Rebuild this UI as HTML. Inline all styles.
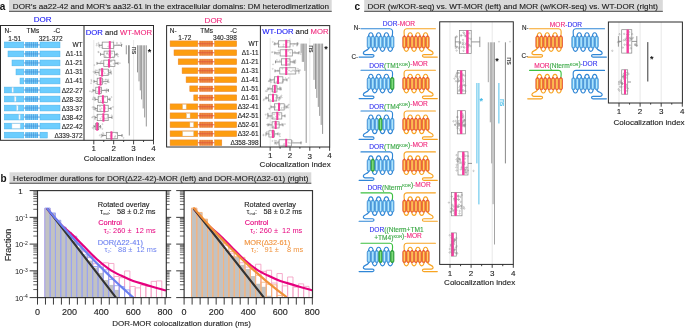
<!DOCTYPE html>
<html><head><meta charset="utf-8"><style>
html,body{margin:0;padding:0;background:#fff;overflow:hidden;}
svg{display:block;will-change:transform;}
text{font-family:"Liberation Sans", sans-serif;}
</style></head><body>
<svg width="685" height="328" viewBox="0 0 685 328" font-family="Liberation Sans, sans-serif">
<rect width="685" height="328" fill="#fff"/>
<rect x="9.00" y="0.00" width="322.70" height="11.90" fill="#d9d9d9" stroke="none" stroke-width="1" />
<rect x="9.00" y="10.80" width="322.70" height="1.10" fill="#5a5a5a" stroke="none" stroke-width="1" />
<text x="-0.30" y="9.60" font-size="10" fill="#111" stroke="#111" stroke-width="0" text-anchor="start" font-weight="bold" >a</text>
<text x="12.80" y="8.90" font-size="8.08" fill="#1a1a1a" stroke="#1a1a1a" stroke-width="0.12" text-anchor="start" font-weight="normal" >DOR’s aa22-42 and MOR’s aa32-61 in the extracellular domains: DM heterodimerization</text>
<rect x="9.50" y="172.30" width="301.80" height="11.50" fill="#d9d9d9" stroke="none" stroke-width="1" />
<rect x="9.50" y="182.70" width="301.80" height="1.10" fill="#5a5a5a" stroke="none" stroke-width="1" />
<text x="0.50" y="182.20" font-size="10" fill="#111" stroke="#111" stroke-width="0" text-anchor="start" font-weight="bold" >b</text>
<text x="13.10" y="180.80" font-size="8.08" fill="#1a1a1a" stroke="#1a1a1a" stroke-width="0.12" text-anchor="start" font-weight="normal" >Heterodimer durations for DOR(Δ22-42)-MOR (left) and DOR-MOR(Δ32-61) (right)</text>
<rect x="364.20" y="0.00" width="298.60" height="11.90" fill="#d9d9d9" stroke="none" stroke-width="1" />
<rect x="364.20" y="10.80" width="298.60" height="1.10" fill="#5a5a5a" stroke="none" stroke-width="1" />
<text x="354.60" y="9.60" font-size="10" fill="#111" stroke="#111" stroke-width="0" text-anchor="start" font-weight="bold" >c</text>
<text x="367.50" y="8.90" font-size="8.08" fill="#1a1a1a" stroke="#1a1a1a" stroke-width="0.12" text-anchor="start" font-weight="normal" >DOR (w/KOR-seq) vs. WT-MOR (left) and MOR (w/KOR-seq) vs. WT-DOR (right)</text>
<line x1="23.80" y1="44.90" x2="40.00" y2="44.90" stroke="#3a88d4" stroke-width="0.8" />
<rect x="4.30" y="42.00" width="19.50" height="5.80" fill="#6ccdfe" stroke="#4cb2ea" stroke-width="0.5" />
<rect x="25.20" y="42.00" width="12.90" height="5.80" fill="#60c2f6" stroke="none" stroke-width="1" />
<line x1="26.12" y1="42.00" x2="26.12" y2="47.80" stroke="#3f96dc" stroke-width="0.6" />
<line x1="27.04" y1="42.00" x2="27.04" y2="47.80" stroke="#b8e4fb" stroke-width="0.45" />
<line x1="27.96" y1="42.00" x2="27.96" y2="47.80" stroke="#3f96dc" stroke-width="0.6" />
<line x1="28.89" y1="42.00" x2="28.89" y2="47.80" stroke="#b8e4fb" stroke-width="0.45" />
<line x1="29.81" y1="42.00" x2="29.81" y2="47.80" stroke="#3f96dc" stroke-width="0.6" />
<line x1="30.73" y1="42.00" x2="30.73" y2="47.80" stroke="#b8e4fb" stroke-width="0.45" />
<line x1="31.65" y1="42.00" x2="31.65" y2="47.80" stroke="#3f96dc" stroke-width="0.6" />
<line x1="32.57" y1="42.00" x2="32.57" y2="47.80" stroke="#b8e4fb" stroke-width="0.45" />
<line x1="33.49" y1="42.00" x2="33.49" y2="47.80" stroke="#3f96dc" stroke-width="0.6" />
<line x1="34.41" y1="42.00" x2="34.41" y2="47.80" stroke="#b8e4fb" stroke-width="0.45" />
<line x1="35.34" y1="42.00" x2="35.34" y2="47.80" stroke="#3f96dc" stroke-width="0.6" />
<line x1="36.26" y1="42.00" x2="36.26" y2="47.80" stroke="#b8e4fb" stroke-width="0.45" />
<line x1="37.18" y1="42.00" x2="37.18" y2="47.80" stroke="#3f96dc" stroke-width="0.6" />
<line x1="25.20" y1="44.90" x2="38.10" y2="44.90" stroke="#3a88d4" stroke-width="0.5" />
<rect x="40.00" y="42.00" width="20.00" height="5.80" fill="#6ccdfe" stroke="#4cb2ea" stroke-width="0.5" />
<text x="82.60" y="47.40" font-size="6.5" fill="#222" stroke="#222" stroke-width="0.12" text-anchor="end" font-weight="normal" >WT</text>
<line x1="23.80" y1="53.92" x2="40.00" y2="53.92" stroke="#3a88d4" stroke-width="0.8" />
<rect x="8.00" y="51.02" width="15.80" height="5.80" fill="#6ccdfe" stroke="#4cb2ea" stroke-width="0.5" />
<rect x="25.20" y="51.02" width="12.90" height="5.80" fill="#60c2f6" stroke="none" stroke-width="1" />
<line x1="26.12" y1="51.02" x2="26.12" y2="56.82" stroke="#3f96dc" stroke-width="0.6" />
<line x1="27.04" y1="51.02" x2="27.04" y2="56.82" stroke="#b8e4fb" stroke-width="0.45" />
<line x1="27.96" y1="51.02" x2="27.96" y2="56.82" stroke="#3f96dc" stroke-width="0.6" />
<line x1="28.89" y1="51.02" x2="28.89" y2="56.82" stroke="#b8e4fb" stroke-width="0.45" />
<line x1="29.81" y1="51.02" x2="29.81" y2="56.82" stroke="#3f96dc" stroke-width="0.6" />
<line x1="30.73" y1="51.02" x2="30.73" y2="56.82" stroke="#b8e4fb" stroke-width="0.45" />
<line x1="31.65" y1="51.02" x2="31.65" y2="56.82" stroke="#3f96dc" stroke-width="0.6" />
<line x1="32.57" y1="51.02" x2="32.57" y2="56.82" stroke="#b8e4fb" stroke-width="0.45" />
<line x1="33.49" y1="51.02" x2="33.49" y2="56.82" stroke="#3f96dc" stroke-width="0.6" />
<line x1="34.41" y1="51.02" x2="34.41" y2="56.82" stroke="#b8e4fb" stroke-width="0.45" />
<line x1="35.34" y1="51.02" x2="35.34" y2="56.82" stroke="#3f96dc" stroke-width="0.6" />
<line x1="36.26" y1="51.02" x2="36.26" y2="56.82" stroke="#b8e4fb" stroke-width="0.45" />
<line x1="37.18" y1="51.02" x2="37.18" y2="56.82" stroke="#3f96dc" stroke-width="0.6" />
<line x1="25.20" y1="53.92" x2="38.10" y2="53.92" stroke="#3a88d4" stroke-width="0.5" />
<rect x="40.00" y="51.02" width="20.00" height="5.80" fill="#6ccdfe" stroke="#4cb2ea" stroke-width="0.5" />
<text x="82.60" y="56.42" font-size="6.5" fill="#222" stroke="#222" stroke-width="0.12" text-anchor="end" font-weight="normal" >Δ1-11</text>
<line x1="23.80" y1="62.94" x2="40.00" y2="62.94" stroke="#3a88d4" stroke-width="0.8" />
<rect x="12.00" y="60.04" width="11.80" height="5.80" fill="#6ccdfe" stroke="#4cb2ea" stroke-width="0.5" />
<rect x="25.20" y="60.04" width="12.90" height="5.80" fill="#60c2f6" stroke="none" stroke-width="1" />
<line x1="26.12" y1="60.04" x2="26.12" y2="65.84" stroke="#3f96dc" stroke-width="0.6" />
<line x1="27.04" y1="60.04" x2="27.04" y2="65.84" stroke="#b8e4fb" stroke-width="0.45" />
<line x1="27.96" y1="60.04" x2="27.96" y2="65.84" stroke="#3f96dc" stroke-width="0.6" />
<line x1="28.89" y1="60.04" x2="28.89" y2="65.84" stroke="#b8e4fb" stroke-width="0.45" />
<line x1="29.81" y1="60.04" x2="29.81" y2="65.84" stroke="#3f96dc" stroke-width="0.6" />
<line x1="30.73" y1="60.04" x2="30.73" y2="65.84" stroke="#b8e4fb" stroke-width="0.45" />
<line x1="31.65" y1="60.04" x2="31.65" y2="65.84" stroke="#3f96dc" stroke-width="0.6" />
<line x1="32.57" y1="60.04" x2="32.57" y2="65.84" stroke="#b8e4fb" stroke-width="0.45" />
<line x1="33.49" y1="60.04" x2="33.49" y2="65.84" stroke="#3f96dc" stroke-width="0.6" />
<line x1="34.41" y1="60.04" x2="34.41" y2="65.84" stroke="#b8e4fb" stroke-width="0.45" />
<line x1="35.34" y1="60.04" x2="35.34" y2="65.84" stroke="#3f96dc" stroke-width="0.6" />
<line x1="36.26" y1="60.04" x2="36.26" y2="65.84" stroke="#b8e4fb" stroke-width="0.45" />
<line x1="37.18" y1="60.04" x2="37.18" y2="65.84" stroke="#3f96dc" stroke-width="0.6" />
<line x1="25.20" y1="62.94" x2="38.10" y2="62.94" stroke="#3a88d4" stroke-width="0.5" />
<rect x="40.00" y="60.04" width="20.00" height="5.80" fill="#6ccdfe" stroke="#4cb2ea" stroke-width="0.5" />
<text x="82.60" y="65.44" font-size="6.5" fill="#222" stroke="#222" stroke-width="0.12" text-anchor="end" font-weight="normal" >Δ1-21</text>
<line x1="23.80" y1="71.96" x2="40.00" y2="71.96" stroke="#3a88d4" stroke-width="0.8" />
<rect x="16.00" y="69.06" width="7.80" height="5.80" fill="#6ccdfe" stroke="#4cb2ea" stroke-width="0.5" />
<rect x="25.20" y="69.06" width="12.90" height="5.80" fill="#60c2f6" stroke="none" stroke-width="1" />
<line x1="26.12" y1="69.06" x2="26.12" y2="74.86" stroke="#3f96dc" stroke-width="0.6" />
<line x1="27.04" y1="69.06" x2="27.04" y2="74.86" stroke="#b8e4fb" stroke-width="0.45" />
<line x1="27.96" y1="69.06" x2="27.96" y2="74.86" stroke="#3f96dc" stroke-width="0.6" />
<line x1="28.89" y1="69.06" x2="28.89" y2="74.86" stroke="#b8e4fb" stroke-width="0.45" />
<line x1="29.81" y1="69.06" x2="29.81" y2="74.86" stroke="#3f96dc" stroke-width="0.6" />
<line x1="30.73" y1="69.06" x2="30.73" y2="74.86" stroke="#b8e4fb" stroke-width="0.45" />
<line x1="31.65" y1="69.06" x2="31.65" y2="74.86" stroke="#3f96dc" stroke-width="0.6" />
<line x1="32.57" y1="69.06" x2="32.57" y2="74.86" stroke="#b8e4fb" stroke-width="0.45" />
<line x1="33.49" y1="69.06" x2="33.49" y2="74.86" stroke="#3f96dc" stroke-width="0.6" />
<line x1="34.41" y1="69.06" x2="34.41" y2="74.86" stroke="#b8e4fb" stroke-width="0.45" />
<line x1="35.34" y1="69.06" x2="35.34" y2="74.86" stroke="#3f96dc" stroke-width="0.6" />
<line x1="36.26" y1="69.06" x2="36.26" y2="74.86" stroke="#b8e4fb" stroke-width="0.45" />
<line x1="37.18" y1="69.06" x2="37.18" y2="74.86" stroke="#3f96dc" stroke-width="0.6" />
<line x1="25.20" y1="71.96" x2="38.10" y2="71.96" stroke="#3a88d4" stroke-width="0.5" />
<rect x="40.00" y="69.06" width="20.00" height="5.80" fill="#6ccdfe" stroke="#4cb2ea" stroke-width="0.5" />
<text x="82.60" y="74.46" font-size="6.5" fill="#222" stroke="#222" stroke-width="0.12" text-anchor="end" font-weight="normal" >Δ1-31</text>
<line x1="23.80" y1="80.98" x2="40.00" y2="80.98" stroke="#3a88d4" stroke-width="0.8" />
<rect x="20.00" y="78.08" width="3.80" height="5.80" fill="#6ccdfe" stroke="#4cb2ea" stroke-width="0.5" />
<rect x="25.20" y="78.08" width="12.90" height="5.80" fill="#60c2f6" stroke="none" stroke-width="1" />
<line x1="26.12" y1="78.08" x2="26.12" y2="83.88" stroke="#3f96dc" stroke-width="0.6" />
<line x1="27.04" y1="78.08" x2="27.04" y2="83.88" stroke="#b8e4fb" stroke-width="0.45" />
<line x1="27.96" y1="78.08" x2="27.96" y2="83.88" stroke="#3f96dc" stroke-width="0.6" />
<line x1="28.89" y1="78.08" x2="28.89" y2="83.88" stroke="#b8e4fb" stroke-width="0.45" />
<line x1="29.81" y1="78.08" x2="29.81" y2="83.88" stroke="#3f96dc" stroke-width="0.6" />
<line x1="30.73" y1="78.08" x2="30.73" y2="83.88" stroke="#b8e4fb" stroke-width="0.45" />
<line x1="31.65" y1="78.08" x2="31.65" y2="83.88" stroke="#3f96dc" stroke-width="0.6" />
<line x1="32.57" y1="78.08" x2="32.57" y2="83.88" stroke="#b8e4fb" stroke-width="0.45" />
<line x1="33.49" y1="78.08" x2="33.49" y2="83.88" stroke="#3f96dc" stroke-width="0.6" />
<line x1="34.41" y1="78.08" x2="34.41" y2="83.88" stroke="#b8e4fb" stroke-width="0.45" />
<line x1="35.34" y1="78.08" x2="35.34" y2="83.88" stroke="#3f96dc" stroke-width="0.6" />
<line x1="36.26" y1="78.08" x2="36.26" y2="83.88" stroke="#b8e4fb" stroke-width="0.45" />
<line x1="37.18" y1="78.08" x2="37.18" y2="83.88" stroke="#3f96dc" stroke-width="0.6" />
<line x1="25.20" y1="80.98" x2="38.10" y2="80.98" stroke="#3a88d4" stroke-width="0.5" />
<rect x="40.00" y="78.08" width="20.00" height="5.80" fill="#6ccdfe" stroke="#4cb2ea" stroke-width="0.5" />
<text x="82.60" y="83.48" font-size="6.5" fill="#222" stroke="#222" stroke-width="0.12" text-anchor="end" font-weight="normal" >Δ1-41</text>
<line x1="23.80" y1="90.00" x2="40.00" y2="90.00" stroke="#3a88d4" stroke-width="0.8" />
<rect x="4.30" y="87.10" width="19.50" height="5.80" fill="#6ccdfe" stroke="#4cb2ea" stroke-width="0.5" />
<rect x="12.00" y="87.70" width="1.30" height="4.60" fill="#fff" stroke="#d0d8e0" stroke-width="0.4" />
<rect x="25.20" y="87.10" width="12.90" height="5.80" fill="#60c2f6" stroke="none" stroke-width="1" />
<line x1="26.12" y1="87.10" x2="26.12" y2="92.90" stroke="#3f96dc" stroke-width="0.6" />
<line x1="27.04" y1="87.10" x2="27.04" y2="92.90" stroke="#b8e4fb" stroke-width="0.45" />
<line x1="27.96" y1="87.10" x2="27.96" y2="92.90" stroke="#3f96dc" stroke-width="0.6" />
<line x1="28.89" y1="87.10" x2="28.89" y2="92.90" stroke="#b8e4fb" stroke-width="0.45" />
<line x1="29.81" y1="87.10" x2="29.81" y2="92.90" stroke="#3f96dc" stroke-width="0.6" />
<line x1="30.73" y1="87.10" x2="30.73" y2="92.90" stroke="#b8e4fb" stroke-width="0.45" />
<line x1="31.65" y1="87.10" x2="31.65" y2="92.90" stroke="#3f96dc" stroke-width="0.6" />
<line x1="32.57" y1="87.10" x2="32.57" y2="92.90" stroke="#b8e4fb" stroke-width="0.45" />
<line x1="33.49" y1="87.10" x2="33.49" y2="92.90" stroke="#3f96dc" stroke-width="0.6" />
<line x1="34.41" y1="87.10" x2="34.41" y2="92.90" stroke="#b8e4fb" stroke-width="0.45" />
<line x1="35.34" y1="87.10" x2="35.34" y2="92.90" stroke="#3f96dc" stroke-width="0.6" />
<line x1="36.26" y1="87.10" x2="36.26" y2="92.90" stroke="#b8e4fb" stroke-width="0.45" />
<line x1="37.18" y1="87.10" x2="37.18" y2="92.90" stroke="#3f96dc" stroke-width="0.6" />
<line x1="25.20" y1="90.00" x2="38.10" y2="90.00" stroke="#3a88d4" stroke-width="0.5" />
<rect x="40.00" y="87.10" width="20.00" height="5.80" fill="#6ccdfe" stroke="#4cb2ea" stroke-width="0.5" />
<text x="82.60" y="92.50" font-size="6.5" fill="#222" stroke="#222" stroke-width="0.12" text-anchor="end" font-weight="normal" >Δ22-27</text>
<line x1="23.80" y1="99.02" x2="40.00" y2="99.02" stroke="#3a88d4" stroke-width="0.8" />
<rect x="4.30" y="96.12" width="19.50" height="5.80" fill="#6ccdfe" stroke="#4cb2ea" stroke-width="0.5" />
<rect x="14.50" y="96.72" width="1.50" height="4.60" fill="#fff" stroke="#d0d8e0" stroke-width="0.4" />
<rect x="25.20" y="96.12" width="12.90" height="5.80" fill="#60c2f6" stroke="none" stroke-width="1" />
<line x1="26.12" y1="96.12" x2="26.12" y2="101.92" stroke="#3f96dc" stroke-width="0.6" />
<line x1="27.04" y1="96.12" x2="27.04" y2="101.92" stroke="#b8e4fb" stroke-width="0.45" />
<line x1="27.96" y1="96.12" x2="27.96" y2="101.92" stroke="#3f96dc" stroke-width="0.6" />
<line x1="28.89" y1="96.12" x2="28.89" y2="101.92" stroke="#b8e4fb" stroke-width="0.45" />
<line x1="29.81" y1="96.12" x2="29.81" y2="101.92" stroke="#3f96dc" stroke-width="0.6" />
<line x1="30.73" y1="96.12" x2="30.73" y2="101.92" stroke="#b8e4fb" stroke-width="0.45" />
<line x1="31.65" y1="96.12" x2="31.65" y2="101.92" stroke="#3f96dc" stroke-width="0.6" />
<line x1="32.57" y1="96.12" x2="32.57" y2="101.92" stroke="#b8e4fb" stroke-width="0.45" />
<line x1="33.49" y1="96.12" x2="33.49" y2="101.92" stroke="#3f96dc" stroke-width="0.6" />
<line x1="34.41" y1="96.12" x2="34.41" y2="101.92" stroke="#b8e4fb" stroke-width="0.45" />
<line x1="35.34" y1="96.12" x2="35.34" y2="101.92" stroke="#3f96dc" stroke-width="0.6" />
<line x1="36.26" y1="96.12" x2="36.26" y2="101.92" stroke="#b8e4fb" stroke-width="0.45" />
<line x1="37.18" y1="96.12" x2="37.18" y2="101.92" stroke="#3f96dc" stroke-width="0.6" />
<line x1="25.20" y1="99.02" x2="38.10" y2="99.02" stroke="#3a88d4" stroke-width="0.5" />
<rect x="40.00" y="96.12" width="20.00" height="5.80" fill="#6ccdfe" stroke="#4cb2ea" stroke-width="0.5" />
<text x="82.60" y="101.52" font-size="6.5" fill="#222" stroke="#222" stroke-width="0.12" text-anchor="end" font-weight="normal" >Δ28-32</text>
<line x1="23.80" y1="108.04" x2="40.00" y2="108.04" stroke="#3a88d4" stroke-width="0.8" />
<rect x="4.30" y="105.14" width="19.50" height="5.80" fill="#6ccdfe" stroke="#4cb2ea" stroke-width="0.5" />
<rect x="16.70" y="105.74" width="1.30" height="4.60" fill="#fff" stroke="#d0d8e0" stroke-width="0.4" />
<rect x="25.20" y="105.14" width="12.90" height="5.80" fill="#60c2f6" stroke="none" stroke-width="1" />
<line x1="26.12" y1="105.14" x2="26.12" y2="110.94" stroke="#3f96dc" stroke-width="0.6" />
<line x1="27.04" y1="105.14" x2="27.04" y2="110.94" stroke="#b8e4fb" stroke-width="0.45" />
<line x1="27.96" y1="105.14" x2="27.96" y2="110.94" stroke="#3f96dc" stroke-width="0.6" />
<line x1="28.89" y1="105.14" x2="28.89" y2="110.94" stroke="#b8e4fb" stroke-width="0.45" />
<line x1="29.81" y1="105.14" x2="29.81" y2="110.94" stroke="#3f96dc" stroke-width="0.6" />
<line x1="30.73" y1="105.14" x2="30.73" y2="110.94" stroke="#b8e4fb" stroke-width="0.45" />
<line x1="31.65" y1="105.14" x2="31.65" y2="110.94" stroke="#3f96dc" stroke-width="0.6" />
<line x1="32.57" y1="105.14" x2="32.57" y2="110.94" stroke="#b8e4fb" stroke-width="0.45" />
<line x1="33.49" y1="105.14" x2="33.49" y2="110.94" stroke="#3f96dc" stroke-width="0.6" />
<line x1="34.41" y1="105.14" x2="34.41" y2="110.94" stroke="#b8e4fb" stroke-width="0.45" />
<line x1="35.34" y1="105.14" x2="35.34" y2="110.94" stroke="#3f96dc" stroke-width="0.6" />
<line x1="36.26" y1="105.14" x2="36.26" y2="110.94" stroke="#b8e4fb" stroke-width="0.45" />
<line x1="37.18" y1="105.14" x2="37.18" y2="110.94" stroke="#3f96dc" stroke-width="0.6" />
<line x1="25.20" y1="108.04" x2="38.10" y2="108.04" stroke="#3a88d4" stroke-width="0.5" />
<rect x="40.00" y="105.14" width="20.00" height="5.80" fill="#6ccdfe" stroke="#4cb2ea" stroke-width="0.5" />
<text x="82.60" y="110.54" font-size="6.5" fill="#222" stroke="#222" stroke-width="0.12" text-anchor="end" font-weight="normal" >Δ33-37</text>
<line x1="23.80" y1="117.06" x2="40.00" y2="117.06" stroke="#3a88d4" stroke-width="0.8" />
<rect x="4.30" y="114.16" width="19.50" height="5.80" fill="#6ccdfe" stroke="#4cb2ea" stroke-width="0.5" />
<rect x="18.90" y="114.76" width="1.20" height="4.60" fill="#fff" stroke="#d0d8e0" stroke-width="0.4" />
<rect x="25.20" y="114.16" width="12.90" height="5.80" fill="#60c2f6" stroke="none" stroke-width="1" />
<line x1="26.12" y1="114.16" x2="26.12" y2="119.96" stroke="#3f96dc" stroke-width="0.6" />
<line x1="27.04" y1="114.16" x2="27.04" y2="119.96" stroke="#b8e4fb" stroke-width="0.45" />
<line x1="27.96" y1="114.16" x2="27.96" y2="119.96" stroke="#3f96dc" stroke-width="0.6" />
<line x1="28.89" y1="114.16" x2="28.89" y2="119.96" stroke="#b8e4fb" stroke-width="0.45" />
<line x1="29.81" y1="114.16" x2="29.81" y2="119.96" stroke="#3f96dc" stroke-width="0.6" />
<line x1="30.73" y1="114.16" x2="30.73" y2="119.96" stroke="#b8e4fb" stroke-width="0.45" />
<line x1="31.65" y1="114.16" x2="31.65" y2="119.96" stroke="#3f96dc" stroke-width="0.6" />
<line x1="32.57" y1="114.16" x2="32.57" y2="119.96" stroke="#b8e4fb" stroke-width="0.45" />
<line x1="33.49" y1="114.16" x2="33.49" y2="119.96" stroke="#3f96dc" stroke-width="0.6" />
<line x1="34.41" y1="114.16" x2="34.41" y2="119.96" stroke="#b8e4fb" stroke-width="0.45" />
<line x1="35.34" y1="114.16" x2="35.34" y2="119.96" stroke="#3f96dc" stroke-width="0.6" />
<line x1="36.26" y1="114.16" x2="36.26" y2="119.96" stroke="#b8e4fb" stroke-width="0.45" />
<line x1="37.18" y1="114.16" x2="37.18" y2="119.96" stroke="#3f96dc" stroke-width="0.6" />
<line x1="25.20" y1="117.06" x2="38.10" y2="117.06" stroke="#3a88d4" stroke-width="0.5" />
<rect x="40.00" y="114.16" width="20.00" height="5.80" fill="#6ccdfe" stroke="#4cb2ea" stroke-width="0.5" />
<text x="82.60" y="119.56" font-size="6.5" fill="#222" stroke="#222" stroke-width="0.12" text-anchor="end" font-weight="normal" >Δ38-42</text>
<line x1="23.80" y1="126.08" x2="40.00" y2="126.08" stroke="#3a88d4" stroke-width="0.8" />
<rect x="4.30" y="123.18" width="19.50" height="5.80" fill="#6ccdfe" stroke="#4cb2ea" stroke-width="0.5" />
<rect x="12.00" y="123.78" width="8.10" height="4.60" fill="#fff" stroke="#d0d8e0" stroke-width="0.4" />
<rect x="25.20" y="123.18" width="12.90" height="5.80" fill="#60c2f6" stroke="none" stroke-width="1" />
<line x1="26.12" y1="123.18" x2="26.12" y2="128.98" stroke="#3f96dc" stroke-width="0.6" />
<line x1="27.04" y1="123.18" x2="27.04" y2="128.98" stroke="#b8e4fb" stroke-width="0.45" />
<line x1="27.96" y1="123.18" x2="27.96" y2="128.98" stroke="#3f96dc" stroke-width="0.6" />
<line x1="28.89" y1="123.18" x2="28.89" y2="128.98" stroke="#b8e4fb" stroke-width="0.45" />
<line x1="29.81" y1="123.18" x2="29.81" y2="128.98" stroke="#3f96dc" stroke-width="0.6" />
<line x1="30.73" y1="123.18" x2="30.73" y2="128.98" stroke="#b8e4fb" stroke-width="0.45" />
<line x1="31.65" y1="123.18" x2="31.65" y2="128.98" stroke="#3f96dc" stroke-width="0.6" />
<line x1="32.57" y1="123.18" x2="32.57" y2="128.98" stroke="#b8e4fb" stroke-width="0.45" />
<line x1="33.49" y1="123.18" x2="33.49" y2="128.98" stroke="#3f96dc" stroke-width="0.6" />
<line x1="34.41" y1="123.18" x2="34.41" y2="128.98" stroke="#b8e4fb" stroke-width="0.45" />
<line x1="35.34" y1="123.18" x2="35.34" y2="128.98" stroke="#3f96dc" stroke-width="0.6" />
<line x1="36.26" y1="123.18" x2="36.26" y2="128.98" stroke="#b8e4fb" stroke-width="0.45" />
<line x1="37.18" y1="123.18" x2="37.18" y2="128.98" stroke="#3f96dc" stroke-width="0.6" />
<line x1="25.20" y1="126.08" x2="38.10" y2="126.08" stroke="#3a88d4" stroke-width="0.5" />
<rect x="40.00" y="123.18" width="20.00" height="5.80" fill="#6ccdfe" stroke="#4cb2ea" stroke-width="0.5" />
<text x="82.60" y="128.58" font-size="6.5" fill="#222" stroke="#222" stroke-width="0.12" text-anchor="end" font-weight="normal" >Δ22-42</text>
<line x1="23.80" y1="135.10" x2="40.00" y2="135.10" stroke="#3a88d4" stroke-width="0.8" />
<rect x="4.30" y="132.20" width="19.50" height="5.80" fill="#6ccdfe" stroke="#4cb2ea" stroke-width="0.5" />
<rect x="25.20" y="132.20" width="12.90" height="5.80" fill="#60c2f6" stroke="none" stroke-width="1" />
<line x1="26.12" y1="132.20" x2="26.12" y2="138.00" stroke="#3f96dc" stroke-width="0.6" />
<line x1="27.04" y1="132.20" x2="27.04" y2="138.00" stroke="#b8e4fb" stroke-width="0.45" />
<line x1="27.96" y1="132.20" x2="27.96" y2="138.00" stroke="#3f96dc" stroke-width="0.6" />
<line x1="28.89" y1="132.20" x2="28.89" y2="138.00" stroke="#b8e4fb" stroke-width="0.45" />
<line x1="29.81" y1="132.20" x2="29.81" y2="138.00" stroke="#3f96dc" stroke-width="0.6" />
<line x1="30.73" y1="132.20" x2="30.73" y2="138.00" stroke="#b8e4fb" stroke-width="0.45" />
<line x1="31.65" y1="132.20" x2="31.65" y2="138.00" stroke="#3f96dc" stroke-width="0.6" />
<line x1="32.57" y1="132.20" x2="32.57" y2="138.00" stroke="#b8e4fb" stroke-width="0.45" />
<line x1="33.49" y1="132.20" x2="33.49" y2="138.00" stroke="#3f96dc" stroke-width="0.6" />
<line x1="34.41" y1="132.20" x2="34.41" y2="138.00" stroke="#b8e4fb" stroke-width="0.45" />
<line x1="35.34" y1="132.20" x2="35.34" y2="138.00" stroke="#3f96dc" stroke-width="0.6" />
<line x1="36.26" y1="132.20" x2="36.26" y2="138.00" stroke="#b8e4fb" stroke-width="0.45" />
<line x1="37.18" y1="132.20" x2="37.18" y2="138.00" stroke="#3f96dc" stroke-width="0.6" />
<line x1="25.20" y1="135.10" x2="38.10" y2="135.10" stroke="#3a88d4" stroke-width="0.5" />
<rect x="40.00" y="132.20" width="7.30" height="5.80" fill="#6ccdfe" stroke="#4cb2ea" stroke-width="0.5" />
<text x="82.60" y="137.60" font-size="6.5" fill="#222" stroke="#222" stroke-width="0.12" text-anchor="end" font-weight="normal" >Δ339-372</text>
<text x="4.60" y="33.40" font-size="6.5" fill="#222" stroke="#222" stroke-width="0.12" text-anchor="start" font-weight="normal" >N-</text>
<text x="26.50" y="33.40" font-size="6.5" fill="#222" stroke="#222" stroke-width="0.12" text-anchor="start" font-weight="normal" >TMs</text>
<text x="60.30" y="33.40" font-size="6.5" fill="#222" stroke="#222" stroke-width="0.12" text-anchor="end" font-weight="normal" >-C</text>
<text x="8.20" y="40.80" font-size="6.5" fill="#222" stroke="#222" stroke-width="0.12" text-anchor="start" font-weight="normal" >1-51</text>
<text x="38.70" y="40.80" font-size="6.5" fill="#222" stroke="#222" stroke-width="0.12" text-anchor="start" font-weight="normal" >321-372</text>
<text x="42.60" y="22.30" font-size="8" fill="#1818f4" stroke="#1818f4" stroke-width="0.12" text-anchor="middle" font-weight="normal" >DOR</text>
<line x1="197.80" y1="43.75" x2="214.60" y2="43.75" stroke="#d83a3a" stroke-width="0.8" />
<rect x="170.10" y="40.90" width="27.70" height="5.70" fill="#fd9d10" stroke="#ea8530" stroke-width="0.5" />
<rect x="199.30" y="40.90" width="13.50" height="5.70" fill="#ee8236" stroke="none" stroke-width="1" />
<line x1="200.26" y1="40.90" x2="200.26" y2="46.60" stroke="#e06a28" stroke-width="0.6" />
<line x1="201.23" y1="40.90" x2="201.23" y2="46.60" stroke="#f7b27a" stroke-width="0.45" />
<line x1="202.19" y1="40.90" x2="202.19" y2="46.60" stroke="#e06a28" stroke-width="0.6" />
<line x1="203.16" y1="40.90" x2="203.16" y2="46.60" stroke="#f7b27a" stroke-width="0.45" />
<line x1="204.12" y1="40.90" x2="204.12" y2="46.60" stroke="#e06a28" stroke-width="0.6" />
<line x1="205.09" y1="40.90" x2="205.09" y2="46.60" stroke="#f7b27a" stroke-width="0.45" />
<line x1="206.05" y1="40.90" x2="206.05" y2="46.60" stroke="#e06a28" stroke-width="0.6" />
<line x1="207.01" y1="40.90" x2="207.01" y2="46.60" stroke="#f7b27a" stroke-width="0.45" />
<line x1="207.98" y1="40.90" x2="207.98" y2="46.60" stroke="#e06a28" stroke-width="0.6" />
<line x1="208.94" y1="40.90" x2="208.94" y2="46.60" stroke="#f7b27a" stroke-width="0.45" />
<line x1="209.91" y1="40.90" x2="209.91" y2="46.60" stroke="#e06a28" stroke-width="0.6" />
<line x1="210.87" y1="40.90" x2="210.87" y2="46.60" stroke="#f7b27a" stroke-width="0.45" />
<line x1="211.84" y1="40.90" x2="211.84" y2="46.60" stroke="#e06a28" stroke-width="0.6" />
<line x1="199.30" y1="43.75" x2="212.80" y2="43.75" stroke="#d83a3a" stroke-width="0.5" />
<rect x="214.60" y="40.90" width="22.10" height="5.70" fill="#fd9d10" stroke="#ea8530" stroke-width="0.5" />
<text x="258.60" y="46.20" font-size="6.5" fill="#222" stroke="#222" stroke-width="0.12" text-anchor="end" font-weight="normal" >WT</text>
<line x1="197.80" y1="52.75" x2="214.60" y2="52.75" stroke="#d83a3a" stroke-width="0.8" />
<rect x="174.00" y="49.90" width="23.80" height="5.70" fill="#fd9d10" stroke="#ea8530" stroke-width="0.5" />
<rect x="199.30" y="49.90" width="13.50" height="5.70" fill="#ee8236" stroke="none" stroke-width="1" />
<line x1="200.26" y1="49.90" x2="200.26" y2="55.60" stroke="#e06a28" stroke-width="0.6" />
<line x1="201.23" y1="49.90" x2="201.23" y2="55.60" stroke="#f7b27a" stroke-width="0.45" />
<line x1="202.19" y1="49.90" x2="202.19" y2="55.60" stroke="#e06a28" stroke-width="0.6" />
<line x1="203.16" y1="49.90" x2="203.16" y2="55.60" stroke="#f7b27a" stroke-width="0.45" />
<line x1="204.12" y1="49.90" x2="204.12" y2="55.60" stroke="#e06a28" stroke-width="0.6" />
<line x1="205.09" y1="49.90" x2="205.09" y2="55.60" stroke="#f7b27a" stroke-width="0.45" />
<line x1="206.05" y1="49.90" x2="206.05" y2="55.60" stroke="#e06a28" stroke-width="0.6" />
<line x1="207.01" y1="49.90" x2="207.01" y2="55.60" stroke="#f7b27a" stroke-width="0.45" />
<line x1="207.98" y1="49.90" x2="207.98" y2="55.60" stroke="#e06a28" stroke-width="0.6" />
<line x1="208.94" y1="49.90" x2="208.94" y2="55.60" stroke="#f7b27a" stroke-width="0.45" />
<line x1="209.91" y1="49.90" x2="209.91" y2="55.60" stroke="#e06a28" stroke-width="0.6" />
<line x1="210.87" y1="49.90" x2="210.87" y2="55.60" stroke="#f7b27a" stroke-width="0.45" />
<line x1="211.84" y1="49.90" x2="211.84" y2="55.60" stroke="#e06a28" stroke-width="0.6" />
<line x1="199.30" y1="52.75" x2="212.80" y2="52.75" stroke="#d83a3a" stroke-width="0.5" />
<rect x="214.60" y="49.90" width="22.10" height="5.70" fill="#fd9d10" stroke="#ea8530" stroke-width="0.5" />
<text x="258.60" y="55.20" font-size="6.5" fill="#222" stroke="#222" stroke-width="0.12" text-anchor="end" font-weight="normal" >Δ1-11</text>
<line x1="197.80" y1="61.75" x2="214.60" y2="61.75" stroke="#d83a3a" stroke-width="0.8" />
<rect x="178.20" y="58.90" width="19.60" height="5.70" fill="#fd9d10" stroke="#ea8530" stroke-width="0.5" />
<rect x="199.30" y="58.90" width="13.50" height="5.70" fill="#ee8236" stroke="none" stroke-width="1" />
<line x1="200.26" y1="58.90" x2="200.26" y2="64.60" stroke="#e06a28" stroke-width="0.6" />
<line x1="201.23" y1="58.90" x2="201.23" y2="64.60" stroke="#f7b27a" stroke-width="0.45" />
<line x1="202.19" y1="58.90" x2="202.19" y2="64.60" stroke="#e06a28" stroke-width="0.6" />
<line x1="203.16" y1="58.90" x2="203.16" y2="64.60" stroke="#f7b27a" stroke-width="0.45" />
<line x1="204.12" y1="58.90" x2="204.12" y2="64.60" stroke="#e06a28" stroke-width="0.6" />
<line x1="205.09" y1="58.90" x2="205.09" y2="64.60" stroke="#f7b27a" stroke-width="0.45" />
<line x1="206.05" y1="58.90" x2="206.05" y2="64.60" stroke="#e06a28" stroke-width="0.6" />
<line x1="207.01" y1="58.90" x2="207.01" y2="64.60" stroke="#f7b27a" stroke-width="0.45" />
<line x1="207.98" y1="58.90" x2="207.98" y2="64.60" stroke="#e06a28" stroke-width="0.6" />
<line x1="208.94" y1="58.90" x2="208.94" y2="64.60" stroke="#f7b27a" stroke-width="0.45" />
<line x1="209.91" y1="58.90" x2="209.91" y2="64.60" stroke="#e06a28" stroke-width="0.6" />
<line x1="210.87" y1="58.90" x2="210.87" y2="64.60" stroke="#f7b27a" stroke-width="0.45" />
<line x1="211.84" y1="58.90" x2="211.84" y2="64.60" stroke="#e06a28" stroke-width="0.6" />
<line x1="199.30" y1="61.75" x2="212.80" y2="61.75" stroke="#d83a3a" stroke-width="0.5" />
<rect x="214.60" y="58.90" width="22.10" height="5.70" fill="#fd9d10" stroke="#ea8530" stroke-width="0.5" />
<text x="258.60" y="64.20" font-size="6.5" fill="#222" stroke="#222" stroke-width="0.12" text-anchor="end" font-weight="normal" >Δ1-21</text>
<line x1="197.80" y1="70.75" x2="214.60" y2="70.75" stroke="#d83a3a" stroke-width="0.8" />
<rect x="182.10" y="67.90" width="15.70" height="5.70" fill="#fd9d10" stroke="#ea8530" stroke-width="0.5" />
<rect x="199.30" y="67.90" width="13.50" height="5.70" fill="#ee8236" stroke="none" stroke-width="1" />
<line x1="200.26" y1="67.90" x2="200.26" y2="73.60" stroke="#e06a28" stroke-width="0.6" />
<line x1="201.23" y1="67.90" x2="201.23" y2="73.60" stroke="#f7b27a" stroke-width="0.45" />
<line x1="202.19" y1="67.90" x2="202.19" y2="73.60" stroke="#e06a28" stroke-width="0.6" />
<line x1="203.16" y1="67.90" x2="203.16" y2="73.60" stroke="#f7b27a" stroke-width="0.45" />
<line x1="204.12" y1="67.90" x2="204.12" y2="73.60" stroke="#e06a28" stroke-width="0.6" />
<line x1="205.09" y1="67.90" x2="205.09" y2="73.60" stroke="#f7b27a" stroke-width="0.45" />
<line x1="206.05" y1="67.90" x2="206.05" y2="73.60" stroke="#e06a28" stroke-width="0.6" />
<line x1="207.01" y1="67.90" x2="207.01" y2="73.60" stroke="#f7b27a" stroke-width="0.45" />
<line x1="207.98" y1="67.90" x2="207.98" y2="73.60" stroke="#e06a28" stroke-width="0.6" />
<line x1="208.94" y1="67.90" x2="208.94" y2="73.60" stroke="#f7b27a" stroke-width="0.45" />
<line x1="209.91" y1="67.90" x2="209.91" y2="73.60" stroke="#e06a28" stroke-width="0.6" />
<line x1="210.87" y1="67.90" x2="210.87" y2="73.60" stroke="#f7b27a" stroke-width="0.45" />
<line x1="211.84" y1="67.90" x2="211.84" y2="73.60" stroke="#e06a28" stroke-width="0.6" />
<line x1="199.30" y1="70.75" x2="212.80" y2="70.75" stroke="#d83a3a" stroke-width="0.5" />
<rect x="214.60" y="67.90" width="22.10" height="5.70" fill="#fd9d10" stroke="#ea8530" stroke-width="0.5" />
<text x="258.60" y="73.20" font-size="6.5" fill="#222" stroke="#222" stroke-width="0.12" text-anchor="end" font-weight="normal" >Δ1-31</text>
<line x1="197.80" y1="79.75" x2="214.60" y2="79.75" stroke="#d83a3a" stroke-width="0.8" />
<rect x="186.10" y="76.90" width="11.70" height="5.70" fill="#fd9d10" stroke="#ea8530" stroke-width="0.5" />
<rect x="199.30" y="76.90" width="13.50" height="5.70" fill="#ee8236" stroke="none" stroke-width="1" />
<line x1="200.26" y1="76.90" x2="200.26" y2="82.60" stroke="#e06a28" stroke-width="0.6" />
<line x1="201.23" y1="76.90" x2="201.23" y2="82.60" stroke="#f7b27a" stroke-width="0.45" />
<line x1="202.19" y1="76.90" x2="202.19" y2="82.60" stroke="#e06a28" stroke-width="0.6" />
<line x1="203.16" y1="76.90" x2="203.16" y2="82.60" stroke="#f7b27a" stroke-width="0.45" />
<line x1="204.12" y1="76.90" x2="204.12" y2="82.60" stroke="#e06a28" stroke-width="0.6" />
<line x1="205.09" y1="76.90" x2="205.09" y2="82.60" stroke="#f7b27a" stroke-width="0.45" />
<line x1="206.05" y1="76.90" x2="206.05" y2="82.60" stroke="#e06a28" stroke-width="0.6" />
<line x1="207.01" y1="76.90" x2="207.01" y2="82.60" stroke="#f7b27a" stroke-width="0.45" />
<line x1="207.98" y1="76.90" x2="207.98" y2="82.60" stroke="#e06a28" stroke-width="0.6" />
<line x1="208.94" y1="76.90" x2="208.94" y2="82.60" stroke="#f7b27a" stroke-width="0.45" />
<line x1="209.91" y1="76.90" x2="209.91" y2="82.60" stroke="#e06a28" stroke-width="0.6" />
<line x1="210.87" y1="76.90" x2="210.87" y2="82.60" stroke="#f7b27a" stroke-width="0.45" />
<line x1="211.84" y1="76.90" x2="211.84" y2="82.60" stroke="#e06a28" stroke-width="0.6" />
<line x1="199.30" y1="79.75" x2="212.80" y2="79.75" stroke="#d83a3a" stroke-width="0.5" />
<rect x="214.60" y="76.90" width="22.10" height="5.70" fill="#fd9d10" stroke="#ea8530" stroke-width="0.5" />
<text x="258.60" y="82.20" font-size="6.5" fill="#222" stroke="#222" stroke-width="0.12" text-anchor="end" font-weight="normal" >Δ1-41</text>
<line x1="197.80" y1="88.75" x2="214.60" y2="88.75" stroke="#d83a3a" stroke-width="0.8" />
<rect x="189.80" y="85.90" width="8.00" height="5.70" fill="#fd9d10" stroke="#ea8530" stroke-width="0.5" />
<rect x="199.30" y="85.90" width="13.50" height="5.70" fill="#ee8236" stroke="none" stroke-width="1" />
<line x1="200.26" y1="85.90" x2="200.26" y2="91.60" stroke="#e06a28" stroke-width="0.6" />
<line x1="201.23" y1="85.90" x2="201.23" y2="91.60" stroke="#f7b27a" stroke-width="0.45" />
<line x1="202.19" y1="85.90" x2="202.19" y2="91.60" stroke="#e06a28" stroke-width="0.6" />
<line x1="203.16" y1="85.90" x2="203.16" y2="91.60" stroke="#f7b27a" stroke-width="0.45" />
<line x1="204.12" y1="85.90" x2="204.12" y2="91.60" stroke="#e06a28" stroke-width="0.6" />
<line x1="205.09" y1="85.90" x2="205.09" y2="91.60" stroke="#f7b27a" stroke-width="0.45" />
<line x1="206.05" y1="85.90" x2="206.05" y2="91.60" stroke="#e06a28" stroke-width="0.6" />
<line x1="207.01" y1="85.90" x2="207.01" y2="91.60" stroke="#f7b27a" stroke-width="0.45" />
<line x1="207.98" y1="85.90" x2="207.98" y2="91.60" stroke="#e06a28" stroke-width="0.6" />
<line x1="208.94" y1="85.90" x2="208.94" y2="91.60" stroke="#f7b27a" stroke-width="0.45" />
<line x1="209.91" y1="85.90" x2="209.91" y2="91.60" stroke="#e06a28" stroke-width="0.6" />
<line x1="210.87" y1="85.90" x2="210.87" y2="91.60" stroke="#f7b27a" stroke-width="0.45" />
<line x1="211.84" y1="85.90" x2="211.84" y2="91.60" stroke="#e06a28" stroke-width="0.6" />
<line x1="199.30" y1="88.75" x2="212.80" y2="88.75" stroke="#d83a3a" stroke-width="0.5" />
<rect x="214.60" y="85.90" width="22.10" height="5.70" fill="#fd9d10" stroke="#ea8530" stroke-width="0.5" />
<text x="258.60" y="91.20" font-size="6.5" fill="#222" stroke="#222" stroke-width="0.12" text-anchor="end" font-weight="normal" >Δ1-51</text>
<line x1="197.80" y1="97.75" x2="214.60" y2="97.75" stroke="#d83a3a" stroke-width="0.8" />
<rect x="193.80" y="94.90" width="4.00" height="5.70" fill="#fd9d10" stroke="#ea8530" stroke-width="0.5" />
<rect x="199.30" y="94.90" width="13.50" height="5.70" fill="#ee8236" stroke="none" stroke-width="1" />
<line x1="200.26" y1="94.90" x2="200.26" y2="100.60" stroke="#e06a28" stroke-width="0.6" />
<line x1="201.23" y1="94.90" x2="201.23" y2="100.60" stroke="#f7b27a" stroke-width="0.45" />
<line x1="202.19" y1="94.90" x2="202.19" y2="100.60" stroke="#e06a28" stroke-width="0.6" />
<line x1="203.16" y1="94.90" x2="203.16" y2="100.60" stroke="#f7b27a" stroke-width="0.45" />
<line x1="204.12" y1="94.90" x2="204.12" y2="100.60" stroke="#e06a28" stroke-width="0.6" />
<line x1="205.09" y1="94.90" x2="205.09" y2="100.60" stroke="#f7b27a" stroke-width="0.45" />
<line x1="206.05" y1="94.90" x2="206.05" y2="100.60" stroke="#e06a28" stroke-width="0.6" />
<line x1="207.01" y1="94.90" x2="207.01" y2="100.60" stroke="#f7b27a" stroke-width="0.45" />
<line x1="207.98" y1="94.90" x2="207.98" y2="100.60" stroke="#e06a28" stroke-width="0.6" />
<line x1="208.94" y1="94.90" x2="208.94" y2="100.60" stroke="#f7b27a" stroke-width="0.45" />
<line x1="209.91" y1="94.90" x2="209.91" y2="100.60" stroke="#e06a28" stroke-width="0.6" />
<line x1="210.87" y1="94.90" x2="210.87" y2="100.60" stroke="#f7b27a" stroke-width="0.45" />
<line x1="211.84" y1="94.90" x2="211.84" y2="100.60" stroke="#e06a28" stroke-width="0.6" />
<line x1="199.30" y1="97.75" x2="212.80" y2="97.75" stroke="#d83a3a" stroke-width="0.5" />
<rect x="214.60" y="94.90" width="22.10" height="5.70" fill="#fd9d10" stroke="#ea8530" stroke-width="0.5" />
<text x="258.60" y="100.20" font-size="6.5" fill="#222" stroke="#222" stroke-width="0.12" text-anchor="end" font-weight="normal" >Δ1-61</text>
<line x1="197.80" y1="106.75" x2="214.60" y2="106.75" stroke="#d83a3a" stroke-width="0.8" />
<rect x="170.10" y="103.90" width="27.70" height="5.70" fill="#fd9d10" stroke="#ea8530" stroke-width="0.5" />
<rect x="182.80" y="104.50" width="3.30" height="4.50" fill="#fff" stroke="#d0d8e0" stroke-width="0.4" />
<rect x="199.30" y="103.90" width="13.50" height="5.70" fill="#ee8236" stroke="none" stroke-width="1" />
<line x1="200.26" y1="103.90" x2="200.26" y2="109.60" stroke="#e06a28" stroke-width="0.6" />
<line x1="201.23" y1="103.90" x2="201.23" y2="109.60" stroke="#f7b27a" stroke-width="0.45" />
<line x1="202.19" y1="103.90" x2="202.19" y2="109.60" stroke="#e06a28" stroke-width="0.6" />
<line x1="203.16" y1="103.90" x2="203.16" y2="109.60" stroke="#f7b27a" stroke-width="0.45" />
<line x1="204.12" y1="103.90" x2="204.12" y2="109.60" stroke="#e06a28" stroke-width="0.6" />
<line x1="205.09" y1="103.90" x2="205.09" y2="109.60" stroke="#f7b27a" stroke-width="0.45" />
<line x1="206.05" y1="103.90" x2="206.05" y2="109.60" stroke="#e06a28" stroke-width="0.6" />
<line x1="207.01" y1="103.90" x2="207.01" y2="109.60" stroke="#f7b27a" stroke-width="0.45" />
<line x1="207.98" y1="103.90" x2="207.98" y2="109.60" stroke="#e06a28" stroke-width="0.6" />
<line x1="208.94" y1="103.90" x2="208.94" y2="109.60" stroke="#f7b27a" stroke-width="0.45" />
<line x1="209.91" y1="103.90" x2="209.91" y2="109.60" stroke="#e06a28" stroke-width="0.6" />
<line x1="210.87" y1="103.90" x2="210.87" y2="109.60" stroke="#f7b27a" stroke-width="0.45" />
<line x1="211.84" y1="103.90" x2="211.84" y2="109.60" stroke="#e06a28" stroke-width="0.6" />
<line x1="199.30" y1="106.75" x2="212.80" y2="106.75" stroke="#d83a3a" stroke-width="0.5" />
<rect x="214.60" y="103.90" width="22.10" height="5.70" fill="#fd9d10" stroke="#ea8530" stroke-width="0.5" />
<text x="258.60" y="109.20" font-size="6.5" fill="#222" stroke="#222" stroke-width="0.12" text-anchor="end" font-weight="normal" >Δ32-41</text>
<line x1="197.80" y1="115.75" x2="214.60" y2="115.75" stroke="#d83a3a" stroke-width="0.8" />
<rect x="170.10" y="112.90" width="27.70" height="5.70" fill="#fd9d10" stroke="#ea8530" stroke-width="0.5" />
<rect x="186.70" y="113.50" width="3.30" height="4.50" fill="#fff" stroke="#d0d8e0" stroke-width="0.4" />
<rect x="199.30" y="112.90" width="13.50" height="5.70" fill="#ee8236" stroke="none" stroke-width="1" />
<line x1="200.26" y1="112.90" x2="200.26" y2="118.60" stroke="#e06a28" stroke-width="0.6" />
<line x1="201.23" y1="112.90" x2="201.23" y2="118.60" stroke="#f7b27a" stroke-width="0.45" />
<line x1="202.19" y1="112.90" x2="202.19" y2="118.60" stroke="#e06a28" stroke-width="0.6" />
<line x1="203.16" y1="112.90" x2="203.16" y2="118.60" stroke="#f7b27a" stroke-width="0.45" />
<line x1="204.12" y1="112.90" x2="204.12" y2="118.60" stroke="#e06a28" stroke-width="0.6" />
<line x1="205.09" y1="112.90" x2="205.09" y2="118.60" stroke="#f7b27a" stroke-width="0.45" />
<line x1="206.05" y1="112.90" x2="206.05" y2="118.60" stroke="#e06a28" stroke-width="0.6" />
<line x1="207.01" y1="112.90" x2="207.01" y2="118.60" stroke="#f7b27a" stroke-width="0.45" />
<line x1="207.98" y1="112.90" x2="207.98" y2="118.60" stroke="#e06a28" stroke-width="0.6" />
<line x1="208.94" y1="112.90" x2="208.94" y2="118.60" stroke="#f7b27a" stroke-width="0.45" />
<line x1="209.91" y1="112.90" x2="209.91" y2="118.60" stroke="#e06a28" stroke-width="0.6" />
<line x1="210.87" y1="112.90" x2="210.87" y2="118.60" stroke="#f7b27a" stroke-width="0.45" />
<line x1="211.84" y1="112.90" x2="211.84" y2="118.60" stroke="#e06a28" stroke-width="0.6" />
<line x1="199.30" y1="115.75" x2="212.80" y2="115.75" stroke="#d83a3a" stroke-width="0.5" />
<rect x="214.60" y="112.90" width="22.10" height="5.70" fill="#fd9d10" stroke="#ea8530" stroke-width="0.5" />
<text x="258.60" y="118.20" font-size="6.5" fill="#222" stroke="#222" stroke-width="0.12" text-anchor="end" font-weight="normal" >Δ42-51</text>
<line x1="197.80" y1="124.75" x2="214.60" y2="124.75" stroke="#d83a3a" stroke-width="0.8" />
<rect x="170.10" y="121.90" width="27.70" height="5.70" fill="#fd9d10" stroke="#ea8530" stroke-width="0.5" />
<rect x="190.00" y="122.50" width="3.40" height="4.50" fill="#fff" stroke="#d0d8e0" stroke-width="0.4" />
<rect x="199.30" y="121.90" width="13.50" height="5.70" fill="#ee8236" stroke="none" stroke-width="1" />
<line x1="200.26" y1="121.90" x2="200.26" y2="127.60" stroke="#e06a28" stroke-width="0.6" />
<line x1="201.23" y1="121.90" x2="201.23" y2="127.60" stroke="#f7b27a" stroke-width="0.45" />
<line x1="202.19" y1="121.90" x2="202.19" y2="127.60" stroke="#e06a28" stroke-width="0.6" />
<line x1="203.16" y1="121.90" x2="203.16" y2="127.60" stroke="#f7b27a" stroke-width="0.45" />
<line x1="204.12" y1="121.90" x2="204.12" y2="127.60" stroke="#e06a28" stroke-width="0.6" />
<line x1="205.09" y1="121.90" x2="205.09" y2="127.60" stroke="#f7b27a" stroke-width="0.45" />
<line x1="206.05" y1="121.90" x2="206.05" y2="127.60" stroke="#e06a28" stroke-width="0.6" />
<line x1="207.01" y1="121.90" x2="207.01" y2="127.60" stroke="#f7b27a" stroke-width="0.45" />
<line x1="207.98" y1="121.90" x2="207.98" y2="127.60" stroke="#e06a28" stroke-width="0.6" />
<line x1="208.94" y1="121.90" x2="208.94" y2="127.60" stroke="#f7b27a" stroke-width="0.45" />
<line x1="209.91" y1="121.90" x2="209.91" y2="127.60" stroke="#e06a28" stroke-width="0.6" />
<line x1="210.87" y1="121.90" x2="210.87" y2="127.60" stroke="#f7b27a" stroke-width="0.45" />
<line x1="211.84" y1="121.90" x2="211.84" y2="127.60" stroke="#e06a28" stroke-width="0.6" />
<line x1="199.30" y1="124.75" x2="212.80" y2="124.75" stroke="#d83a3a" stroke-width="0.5" />
<rect x="214.60" y="121.90" width="22.10" height="5.70" fill="#fd9d10" stroke="#ea8530" stroke-width="0.5" />
<text x="258.60" y="127.20" font-size="6.5" fill="#222" stroke="#222" stroke-width="0.12" text-anchor="end" font-weight="normal" >Δ52-61</text>
<line x1="197.80" y1="133.75" x2="214.60" y2="133.75" stroke="#d83a3a" stroke-width="0.8" />
<rect x="170.10" y="130.90" width="27.70" height="5.70" fill="#fd9d10" stroke="#ea8530" stroke-width="0.5" />
<rect x="182.80" y="131.50" width="10.60" height="4.50" fill="#fff" stroke="#d0d8e0" stroke-width="0.4" />
<rect x="199.30" y="130.90" width="13.50" height="5.70" fill="#ee8236" stroke="none" stroke-width="1" />
<line x1="200.26" y1="130.90" x2="200.26" y2="136.60" stroke="#e06a28" stroke-width="0.6" />
<line x1="201.23" y1="130.90" x2="201.23" y2="136.60" stroke="#f7b27a" stroke-width="0.45" />
<line x1="202.19" y1="130.90" x2="202.19" y2="136.60" stroke="#e06a28" stroke-width="0.6" />
<line x1="203.16" y1="130.90" x2="203.16" y2="136.60" stroke="#f7b27a" stroke-width="0.45" />
<line x1="204.12" y1="130.90" x2="204.12" y2="136.60" stroke="#e06a28" stroke-width="0.6" />
<line x1="205.09" y1="130.90" x2="205.09" y2="136.60" stroke="#f7b27a" stroke-width="0.45" />
<line x1="206.05" y1="130.90" x2="206.05" y2="136.60" stroke="#e06a28" stroke-width="0.6" />
<line x1="207.01" y1="130.90" x2="207.01" y2="136.60" stroke="#f7b27a" stroke-width="0.45" />
<line x1="207.98" y1="130.90" x2="207.98" y2="136.60" stroke="#e06a28" stroke-width="0.6" />
<line x1="208.94" y1="130.90" x2="208.94" y2="136.60" stroke="#f7b27a" stroke-width="0.45" />
<line x1="209.91" y1="130.90" x2="209.91" y2="136.60" stroke="#e06a28" stroke-width="0.6" />
<line x1="210.87" y1="130.90" x2="210.87" y2="136.60" stroke="#f7b27a" stroke-width="0.45" />
<line x1="211.84" y1="130.90" x2="211.84" y2="136.60" stroke="#e06a28" stroke-width="0.6" />
<line x1="199.30" y1="133.75" x2="212.80" y2="133.75" stroke="#d83a3a" stroke-width="0.5" />
<rect x="214.60" y="130.90" width="22.10" height="5.70" fill="#fd9d10" stroke="#ea8530" stroke-width="0.5" />
<text x="258.60" y="136.20" font-size="6.5" fill="#222" stroke="#222" stroke-width="0.12" text-anchor="end" font-weight="normal" >Δ32-61</text>
<line x1="197.80" y1="142.75" x2="214.60" y2="142.75" stroke="#d83a3a" stroke-width="0.8" />
<rect x="170.10" y="139.90" width="27.70" height="5.70" fill="#fd9d10" stroke="#ea8530" stroke-width="0.5" />
<rect x="199.30" y="139.90" width="13.50" height="5.70" fill="#ee8236" stroke="none" stroke-width="1" />
<line x1="200.26" y1="139.90" x2="200.26" y2="145.60" stroke="#e06a28" stroke-width="0.6" />
<line x1="201.23" y1="139.90" x2="201.23" y2="145.60" stroke="#f7b27a" stroke-width="0.45" />
<line x1="202.19" y1="139.90" x2="202.19" y2="145.60" stroke="#e06a28" stroke-width="0.6" />
<line x1="203.16" y1="139.90" x2="203.16" y2="145.60" stroke="#f7b27a" stroke-width="0.45" />
<line x1="204.12" y1="139.90" x2="204.12" y2="145.60" stroke="#e06a28" stroke-width="0.6" />
<line x1="205.09" y1="139.90" x2="205.09" y2="145.60" stroke="#f7b27a" stroke-width="0.45" />
<line x1="206.05" y1="139.90" x2="206.05" y2="145.60" stroke="#e06a28" stroke-width="0.6" />
<line x1="207.01" y1="139.90" x2="207.01" y2="145.60" stroke="#f7b27a" stroke-width="0.45" />
<line x1="207.98" y1="139.90" x2="207.98" y2="145.60" stroke="#e06a28" stroke-width="0.6" />
<line x1="208.94" y1="139.90" x2="208.94" y2="145.60" stroke="#f7b27a" stroke-width="0.45" />
<line x1="209.91" y1="139.90" x2="209.91" y2="145.60" stroke="#e06a28" stroke-width="0.6" />
<line x1="210.87" y1="139.90" x2="210.87" y2="145.60" stroke="#f7b27a" stroke-width="0.45" />
<line x1="211.84" y1="139.90" x2="211.84" y2="145.60" stroke="#e06a28" stroke-width="0.6" />
<line x1="199.30" y1="142.75" x2="212.80" y2="142.75" stroke="#d83a3a" stroke-width="0.5" />
<rect x="214.60" y="139.90" width="7.20" height="5.70" fill="#fd9d10" stroke="#ea8530" stroke-width="0.5" />
<text x="258.60" y="145.20" font-size="6.5" fill="#222" stroke="#222" stroke-width="0.12" text-anchor="end" font-weight="normal" >Δ358-398</text>
<text x="169.70" y="32.80" font-size="6.5" fill="#222" stroke="#222" stroke-width="0.12" text-anchor="start" font-weight="normal" >N-</text>
<text x="200.30" y="32.80" font-size="6.5" fill="#222" stroke="#222" stroke-width="0.12" text-anchor="start" font-weight="normal" >TMs</text>
<text x="237.00" y="32.80" font-size="6.5" fill="#222" stroke="#222" stroke-width="0.12" text-anchor="end" font-weight="normal" >-C</text>
<text x="178.30" y="39.60" font-size="6.5" fill="#222" stroke="#222" stroke-width="0.12" text-anchor="start" font-weight="normal" >1-72</text>
<text x="212.90" y="39.60" font-size="6.5" fill="#222" stroke="#222" stroke-width="0.12" text-anchor="start" font-weight="normal" >340-398</text>
<text x="213.50" y="22.60" font-size="8" fill="#f0287c" stroke="#f0287c" stroke-width="0.12" text-anchor="middle" font-weight="normal" >DOR</text>
<line x1="93.80" y1="40.00" x2="93.80" y2="140.30" stroke="#dedede" stroke-width="0.7" />
<line x1="113.70" y1="40.00" x2="113.70" y2="140.30" stroke="#dedede" stroke-width="0.7" />
<line x1="133.60" y1="40.00" x2="133.60" y2="140.30" stroke="#dedede" stroke-width="0.7" />
<line x1="99.00" y1="45.30" x2="102.20" y2="45.30" stroke="#6a6a6a" stroke-width="0.7" />
<line x1="113.70" y1="45.30" x2="121.50" y2="45.30" stroke="#6a6a6a" stroke-width="0.7" />
<line x1="99.00" y1="43.86" x2="99.00" y2="46.74" stroke="#6a6a6a" stroke-width="0.7" />
<line x1="121.50" y1="43.86" x2="121.50" y2="46.74" stroke="#6a6a6a" stroke-width="0.7" />
<rect x="102.20" y="42.10" width="11.50" height="6.40" fill="#fff" stroke="#858585" stroke-width="0.7" />
<circle cx="99.70" cy="47.08" r="0.55" fill="none" stroke="#999" stroke-width="0.35"/>
<circle cx="117.00" cy="44.05" r="0.55" fill="none" stroke="#999" stroke-width="0.35"/>
<circle cx="109.62" cy="45.04" r="0.55" fill="none" stroke="#999" stroke-width="0.35"/>
<circle cx="113.92" cy="46.78" r="0.55" fill="none" stroke="#999" stroke-width="0.35"/>
<circle cx="98.58" cy="42.89" r="0.55" fill="none" stroke="#999" stroke-width="0.35"/>
<circle cx="118.98" cy="44.96" r="0.55" fill="none" stroke="#999" stroke-width="0.35"/>
<circle cx="116.96" cy="42.75" r="0.55" fill="none" stroke="#999" stroke-width="0.35"/>
<circle cx="108.25" cy="46.43" r="0.55" fill="none" stroke="#999" stroke-width="0.35"/>
<circle cx="102.29" cy="47.58" r="0.55" fill="none" stroke="#999" stroke-width="0.35"/>
<circle cx="120.79" cy="42.90" r="0.55" fill="none" stroke="#999" stroke-width="0.35"/>
<circle cx="96.70" cy="45.51" r="0.55" fill="none" stroke="#999" stroke-width="0.35"/>
<circle cx="121.83" cy="44.69" r="0.55" fill="none" stroke="#999" stroke-width="0.35"/>
<circle cx="101.96" cy="44.90" r="0.55" fill="none" stroke="#999" stroke-width="0.35"/>
<circle cx="96.80" cy="43.88" r="0.55" fill="none" stroke="#999" stroke-width="0.35"/>
<rect x="108.80" y="41.10" width="2.00" height="8.40" fill="#f53d9e" stroke="none" stroke-width="1" />
<line x1="100.50" y1="54.32" x2="104.10" y2="54.32" stroke="#6a6a6a" stroke-width="0.7" />
<line x1="114.50" y1="54.32" x2="117.00" y2="54.32" stroke="#6a6a6a" stroke-width="0.7" />
<line x1="100.50" y1="52.88" x2="100.50" y2="55.76" stroke="#6a6a6a" stroke-width="0.7" />
<line x1="117.00" y1="52.88" x2="117.00" y2="55.76" stroke="#6a6a6a" stroke-width="0.7" />
<rect x="104.10" y="51.12" width="10.40" height="6.40" fill="#fff" stroke="#858585" stroke-width="0.7" />
<circle cx="118.05" cy="56.61" r="0.55" fill="none" stroke="#999" stroke-width="0.35"/>
<circle cx="98.72" cy="52.19" r="0.55" fill="none" stroke="#999" stroke-width="0.35"/>
<circle cx="115.46" cy="55.53" r="0.55" fill="none" stroke="#999" stroke-width="0.35"/>
<circle cx="111.90" cy="53.34" r="0.55" fill="none" stroke="#999" stroke-width="0.35"/>
<circle cx="110.53" cy="54.87" r="0.55" fill="none" stroke="#999" stroke-width="0.35"/>
<circle cx="110.00" cy="52.57" r="0.55" fill="none" stroke="#999" stroke-width="0.35"/>
<circle cx="106.76" cy="53.77" r="0.55" fill="none" stroke="#999" stroke-width="0.35"/>
<circle cx="113.04" cy="56.85" r="0.55" fill="none" stroke="#999" stroke-width="0.35"/>
<circle cx="117.91" cy="54.55" r="0.55" fill="none" stroke="#999" stroke-width="0.35"/>
<circle cx="107.06" cy="53.13" r="0.55" fill="none" stroke="#999" stroke-width="0.35"/>
<circle cx="98.27" cy="51.90" r="0.55" fill="none" stroke="#999" stroke-width="0.35"/>
<circle cx="107.50" cy="53.39" r="0.55" fill="none" stroke="#999" stroke-width="0.35"/>
<circle cx="105.67" cy="56.33" r="0.55" fill="none" stroke="#999" stroke-width="0.35"/>
<circle cx="108.80" cy="54.63" r="0.55" fill="none" stroke="#999" stroke-width="0.35"/>
<rect x="108.80" y="50.12" width="2.00" height="8.40" fill="#f53d9e" stroke="none" stroke-width="1" />
<line x1="97.00" y1="63.34" x2="103.80" y2="63.34" stroke="#6a6a6a" stroke-width="0.7" />
<line x1="114.90" y1="63.34" x2="118.00" y2="63.34" stroke="#6a6a6a" stroke-width="0.7" />
<line x1="97.00" y1="61.90" x2="97.00" y2="64.78" stroke="#6a6a6a" stroke-width="0.7" />
<line x1="118.00" y1="61.90" x2="118.00" y2="64.78" stroke="#6a6a6a" stroke-width="0.7" />
<rect x="103.80" y="60.14" width="11.10" height="6.40" fill="#fff" stroke="#858585" stroke-width="0.7" />
<circle cx="100.19" cy="63.57" r="0.55" fill="none" stroke="#999" stroke-width="0.35"/>
<circle cx="103.62" cy="63.87" r="0.55" fill="none" stroke="#999" stroke-width="0.35"/>
<circle cx="110.27" cy="61.12" r="0.55" fill="none" stroke="#999" stroke-width="0.35"/>
<circle cx="94.34" cy="65.07" r="0.55" fill="none" stroke="#999" stroke-width="0.35"/>
<circle cx="100.74" cy="61.98" r="0.55" fill="none" stroke="#999" stroke-width="0.35"/>
<circle cx="119.89" cy="63.19" r="0.55" fill="none" stroke="#999" stroke-width="0.35"/>
<circle cx="115.75" cy="63.22" r="0.55" fill="none" stroke="#999" stroke-width="0.35"/>
<circle cx="110.62" cy="61.55" r="0.55" fill="none" stroke="#999" stroke-width="0.35"/>
<circle cx="110.51" cy="65.22" r="0.55" fill="none" stroke="#999" stroke-width="0.35"/>
<circle cx="107.60" cy="64.58" r="0.55" fill="none" stroke="#999" stroke-width="0.35"/>
<circle cx="111.46" cy="61.11" r="0.55" fill="none" stroke="#999" stroke-width="0.35"/>
<circle cx="113.71" cy="63.81" r="0.55" fill="none" stroke="#999" stroke-width="0.35"/>
<circle cx="101.83" cy="60.94" r="0.55" fill="none" stroke="#999" stroke-width="0.35"/>
<circle cx="116.50" cy="63.20" r="0.55" fill="none" stroke="#999" stroke-width="0.35"/>
<rect x="108.00" y="59.14" width="2.00" height="8.40" fill="#f53d9e" stroke="none" stroke-width="1" />
<line x1="95.00" y1="72.36" x2="99.10" y2="72.36" stroke="#6a6a6a" stroke-width="0.7" />
<line x1="108.40" y1="72.36" x2="111.00" y2="72.36" stroke="#6a6a6a" stroke-width="0.7" />
<line x1="95.00" y1="70.92" x2="95.00" y2="73.80" stroke="#6a6a6a" stroke-width="0.7" />
<line x1="111.00" y1="70.92" x2="111.00" y2="73.80" stroke="#6a6a6a" stroke-width="0.7" />
<rect x="99.10" y="69.16" width="9.30" height="6.40" fill="#fff" stroke="#858585" stroke-width="0.7" />
<circle cx="96.96" cy="70.33" r="0.55" fill="none" stroke="#999" stroke-width="0.35"/>
<circle cx="100.32" cy="70.59" r="0.55" fill="none" stroke="#999" stroke-width="0.35"/>
<circle cx="93.40" cy="71.86" r="0.55" fill="none" stroke="#999" stroke-width="0.35"/>
<circle cx="111.28" cy="73.90" r="0.55" fill="none" stroke="#999" stroke-width="0.35"/>
<circle cx="108.07" cy="70.94" r="0.55" fill="none" stroke="#999" stroke-width="0.35"/>
<circle cx="103.27" cy="71.22" r="0.55" fill="none" stroke="#999" stroke-width="0.35"/>
<circle cx="95.63" cy="70.34" r="0.55" fill="none" stroke="#999" stroke-width="0.35"/>
<circle cx="96.50" cy="74.55" r="0.55" fill="none" stroke="#999" stroke-width="0.35"/>
<circle cx="109.41" cy="73.93" r="0.55" fill="none" stroke="#999" stroke-width="0.35"/>
<circle cx="108.81" cy="70.79" r="0.55" fill="none" stroke="#999" stroke-width="0.35"/>
<circle cx="98.51" cy="73.01" r="0.55" fill="none" stroke="#999" stroke-width="0.35"/>
<circle cx="107.37" cy="74.18" r="0.55" fill="none" stroke="#999" stroke-width="0.35"/>
<circle cx="110.48" cy="70.24" r="0.55" fill="none" stroke="#999" stroke-width="0.35"/>
<circle cx="104.72" cy="73.24" r="0.55" fill="none" stroke="#999" stroke-width="0.35"/>
<rect x="101.10" y="68.16" width="2.00" height="8.40" fill="#f53d9e" stroke="none" stroke-width="1" />
<line x1="94.00" y1="81.38" x2="97.20" y2="81.38" stroke="#6a6a6a" stroke-width="0.7" />
<line x1="102.40" y1="81.38" x2="108.00" y2="81.38" stroke="#6a6a6a" stroke-width="0.7" />
<line x1="94.00" y1="79.94" x2="94.00" y2="82.82" stroke="#6a6a6a" stroke-width="0.7" />
<line x1="108.00" y1="79.94" x2="108.00" y2="82.82" stroke="#6a6a6a" stroke-width="0.7" />
<rect x="97.20" y="78.18" width="5.20" height="6.40" fill="#fff" stroke="#858585" stroke-width="0.7" />
<circle cx="102.84" cy="82.62" r="0.55" fill="none" stroke="#999" stroke-width="0.35"/>
<circle cx="106.11" cy="83.65" r="0.55" fill="none" stroke="#999" stroke-width="0.35"/>
<circle cx="105.06" cy="83.54" r="0.55" fill="none" stroke="#999" stroke-width="0.35"/>
<circle cx="91.55" cy="81.20" r="0.55" fill="none" stroke="#999" stroke-width="0.35"/>
<circle cx="108.92" cy="82.14" r="0.55" fill="none" stroke="#999" stroke-width="0.35"/>
<circle cx="108.12" cy="79.40" r="0.55" fill="none" stroke="#999" stroke-width="0.35"/>
<circle cx="99.91" cy="80.08" r="0.55" fill="none" stroke="#999" stroke-width="0.35"/>
<circle cx="101.33" cy="81.76" r="0.55" fill="none" stroke="#999" stroke-width="0.35"/>
<circle cx="91.25" cy="79.93" r="0.55" fill="none" stroke="#999" stroke-width="0.35"/>
<circle cx="96.31" cy="83.51" r="0.55" fill="none" stroke="#999" stroke-width="0.35"/>
<circle cx="105.55" cy="79.64" r="0.55" fill="none" stroke="#999" stroke-width="0.35"/>
<circle cx="106.15" cy="79.53" r="0.55" fill="none" stroke="#999" stroke-width="0.35"/>
<circle cx="102.73" cy="79.47" r="0.55" fill="none" stroke="#999" stroke-width="0.35"/>
<circle cx="91.03" cy="83.28" r="0.55" fill="none" stroke="#999" stroke-width="0.35"/>
<rect x="99.50" y="77.18" width="2.00" height="8.40" fill="#f53d9e" stroke="none" stroke-width="1" />
<line x1="93.00" y1="90.40" x2="95.80" y2="90.40" stroke="#6a6a6a" stroke-width="0.7" />
<line x1="101.50" y1="90.40" x2="108.50" y2="90.40" stroke="#6a6a6a" stroke-width="0.7" />
<line x1="93.00" y1="88.96" x2="93.00" y2="91.84" stroke="#6a6a6a" stroke-width="0.7" />
<line x1="108.50" y1="88.96" x2="108.50" y2="91.84" stroke="#6a6a6a" stroke-width="0.7" />
<rect x="95.80" y="87.20" width="5.70" height="6.40" fill="#fff" stroke="#858585" stroke-width="0.7" />
<circle cx="106.26" cy="92.05" r="0.55" fill="none" stroke="#999" stroke-width="0.35"/>
<circle cx="99.94" cy="89.18" r="0.55" fill="none" stroke="#999" stroke-width="0.35"/>
<circle cx="90.01" cy="91.23" r="0.55" fill="none" stroke="#999" stroke-width="0.35"/>
<circle cx="99.64" cy="91.73" r="0.55" fill="none" stroke="#999" stroke-width="0.35"/>
<circle cx="97.65" cy="91.78" r="0.55" fill="none" stroke="#999" stroke-width="0.35"/>
<circle cx="95.59" cy="91.95" r="0.55" fill="none" stroke="#999" stroke-width="0.35"/>
<circle cx="104.96" cy="89.96" r="0.55" fill="none" stroke="#999" stroke-width="0.35"/>
<circle cx="101.04" cy="91.33" r="0.55" fill="none" stroke="#999" stroke-width="0.35"/>
<circle cx="93.96" cy="90.67" r="0.55" fill="none" stroke="#999" stroke-width="0.35"/>
<circle cx="106.51" cy="89.20" r="0.55" fill="none" stroke="#999" stroke-width="0.35"/>
<circle cx="106.47" cy="91.35" r="0.55" fill="none" stroke="#999" stroke-width="0.35"/>
<circle cx="107.31" cy="89.56" r="0.55" fill="none" stroke="#999" stroke-width="0.35"/>
<circle cx="91.91" cy="91.94" r="0.55" fill="none" stroke="#999" stroke-width="0.35"/>
<circle cx="106.50" cy="90.12" r="0.55" fill="none" stroke="#999" stroke-width="0.35"/>
<rect x="98.20" y="86.20" width="2.00" height="8.40" fill="#f53d9e" stroke="none" stroke-width="1" />
<line x1="95.00" y1="99.42" x2="98.20" y2="99.42" stroke="#6a6a6a" stroke-width="0.7" />
<line x1="107.60" y1="99.42" x2="110.00" y2="99.42" stroke="#6a6a6a" stroke-width="0.7" />
<line x1="95.00" y1="97.98" x2="95.00" y2="100.86" stroke="#6a6a6a" stroke-width="0.7" />
<line x1="110.00" y1="97.98" x2="110.00" y2="100.86" stroke="#6a6a6a" stroke-width="0.7" />
<rect x="98.20" y="96.22" width="9.40" height="6.40" fill="#fff" stroke="#858585" stroke-width="0.7" />
<circle cx="98.48" cy="97.63" r="0.55" fill="none" stroke="#999" stroke-width="0.35"/>
<circle cx="105.02" cy="97.23" r="0.55" fill="none" stroke="#999" stroke-width="0.35"/>
<circle cx="102.72" cy="98.73" r="0.55" fill="none" stroke="#999" stroke-width="0.35"/>
<circle cx="93.16" cy="99.46" r="0.55" fill="none" stroke="#999" stroke-width="0.35"/>
<circle cx="92.75" cy="99.08" r="0.55" fill="none" stroke="#999" stroke-width="0.35"/>
<circle cx="93.40" cy="97.32" r="0.55" fill="none" stroke="#999" stroke-width="0.35"/>
<circle cx="100.49" cy="101.09" r="0.55" fill="none" stroke="#999" stroke-width="0.35"/>
<circle cx="94.48" cy="98.00" r="0.55" fill="none" stroke="#999" stroke-width="0.35"/>
<circle cx="104.55" cy="101.71" r="0.55" fill="none" stroke="#999" stroke-width="0.35"/>
<circle cx="103.54" cy="98.89" r="0.55" fill="none" stroke="#999" stroke-width="0.35"/>
<circle cx="111.53" cy="97.10" r="0.55" fill="none" stroke="#999" stroke-width="0.35"/>
<circle cx="109.17" cy="98.34" r="0.55" fill="none" stroke="#999" stroke-width="0.35"/>
<circle cx="94.89" cy="97.46" r="0.55" fill="none" stroke="#999" stroke-width="0.35"/>
<circle cx="98.17" cy="101.04" r="0.55" fill="none" stroke="#999" stroke-width="0.35"/>
<rect x="101.90" y="95.22" width="2.00" height="8.40" fill="#f53d9e" stroke="none" stroke-width="1" />
<line x1="95.00" y1="108.44" x2="97.60" y2="108.44" stroke="#6a6a6a" stroke-width="0.7" />
<line x1="108.20" y1="108.44" x2="111.00" y2="108.44" stroke="#6a6a6a" stroke-width="0.7" />
<line x1="95.00" y1="107.00" x2="95.00" y2="109.88" stroke="#6a6a6a" stroke-width="0.7" />
<line x1="111.00" y1="107.00" x2="111.00" y2="109.88" stroke="#6a6a6a" stroke-width="0.7" />
<rect x="97.60" y="105.24" width="10.60" height="6.40" fill="#fff" stroke="#858585" stroke-width="0.7" />
<circle cx="96.76" cy="110.81" r="0.55" fill="none" stroke="#999" stroke-width="0.35"/>
<circle cx="94.65" cy="109.49" r="0.55" fill="none" stroke="#999" stroke-width="0.35"/>
<circle cx="93.79" cy="107.15" r="0.55" fill="none" stroke="#999" stroke-width="0.35"/>
<circle cx="112.98" cy="106.95" r="0.55" fill="none" stroke="#999" stroke-width="0.35"/>
<circle cx="105.48" cy="108.23" r="0.55" fill="none" stroke="#999" stroke-width="0.35"/>
<circle cx="101.52" cy="108.41" r="0.55" fill="none" stroke="#999" stroke-width="0.35"/>
<circle cx="96.04" cy="110.13" r="0.55" fill="none" stroke="#999" stroke-width="0.35"/>
<circle cx="93.88" cy="107.08" r="0.55" fill="none" stroke="#999" stroke-width="0.35"/>
<circle cx="92.42" cy="107.25" r="0.55" fill="none" stroke="#999" stroke-width="0.35"/>
<circle cx="100.56" cy="110.50" r="0.55" fill="none" stroke="#999" stroke-width="0.35"/>
<circle cx="99.96" cy="106.46" r="0.55" fill="none" stroke="#999" stroke-width="0.35"/>
<circle cx="97.43" cy="110.96" r="0.55" fill="none" stroke="#999" stroke-width="0.35"/>
<circle cx="93.32" cy="109.06" r="0.55" fill="none" stroke="#999" stroke-width="0.35"/>
<circle cx="99.92" cy="109.26" r="0.55" fill="none" stroke="#999" stroke-width="0.35"/>
<rect x="103.20" y="104.24" width="2.00" height="8.40" fill="#f53d9e" stroke="none" stroke-width="1" />
<line x1="95.00" y1="117.46" x2="97.20" y2="117.46" stroke="#6a6a6a" stroke-width="0.7" />
<line x1="108.20" y1="117.46" x2="112.00" y2="117.46" stroke="#6a6a6a" stroke-width="0.7" />
<line x1="95.00" y1="116.02" x2="95.00" y2="118.90" stroke="#6a6a6a" stroke-width="0.7" />
<line x1="112.00" y1="116.02" x2="112.00" y2="118.90" stroke="#6a6a6a" stroke-width="0.7" />
<rect x="97.20" y="114.26" width="11.00" height="6.40" fill="#fff" stroke="#858585" stroke-width="0.7" />
<circle cx="102.19" cy="116.81" r="0.55" fill="none" stroke="#999" stroke-width="0.35"/>
<circle cx="95.05" cy="119.34" r="0.55" fill="none" stroke="#999" stroke-width="0.35"/>
<circle cx="92.14" cy="117.47" r="0.55" fill="none" stroke="#999" stroke-width="0.35"/>
<circle cx="111.76" cy="115.31" r="0.55" fill="none" stroke="#999" stroke-width="0.35"/>
<circle cx="104.19" cy="118.06" r="0.55" fill="none" stroke="#999" stroke-width="0.35"/>
<circle cx="92.90" cy="116.84" r="0.55" fill="none" stroke="#999" stroke-width="0.35"/>
<circle cx="107.48" cy="117.21" r="0.55" fill="none" stroke="#999" stroke-width="0.35"/>
<circle cx="107.95" cy="115.70" r="0.55" fill="none" stroke="#999" stroke-width="0.35"/>
<circle cx="97.24" cy="115.47" r="0.55" fill="none" stroke="#999" stroke-width="0.35"/>
<circle cx="103.14" cy="119.63" r="0.55" fill="none" stroke="#999" stroke-width="0.35"/>
<circle cx="104.99" cy="118.86" r="0.55" fill="none" stroke="#999" stroke-width="0.35"/>
<circle cx="100.44" cy="118.72" r="0.55" fill="none" stroke="#999" stroke-width="0.35"/>
<circle cx="94.24" cy="116.39" r="0.55" fill="none" stroke="#999" stroke-width="0.35"/>
<circle cx="106.83" cy="118.62" r="0.55" fill="none" stroke="#999" stroke-width="0.35"/>
<rect x="102.40" y="113.26" width="2.00" height="8.40" fill="#f53d9e" stroke="none" stroke-width="1" />
<line x1="94.00" y1="126.48" x2="95.70" y2="126.48" stroke="#6a6a6a" stroke-width="0.7" />
<line x1="98.70" y1="126.48" x2="100.50" y2="126.48" stroke="#6a6a6a" stroke-width="0.7" />
<line x1="94.00" y1="125.04" x2="94.00" y2="127.92" stroke="#6a6a6a" stroke-width="0.7" />
<line x1="100.50" y1="125.04" x2="100.50" y2="127.92" stroke="#6a6a6a" stroke-width="0.7" />
<rect x="95.70" y="123.28" width="3.00" height="6.40" fill="#fff" stroke="#858585" stroke-width="0.7" />
<circle cx="97.57" cy="126.12" r="0.55" fill="none" stroke="#999" stroke-width="0.35"/>
<circle cx="97.65" cy="124.98" r="0.55" fill="none" stroke="#999" stroke-width="0.35"/>
<circle cx="100.35" cy="128.14" r="0.55" fill="none" stroke="#999" stroke-width="0.35"/>
<circle cx="98.51" cy="124.74" r="0.55" fill="none" stroke="#999" stroke-width="0.35"/>
<circle cx="96.99" cy="125.60" r="0.55" fill="none" stroke="#999" stroke-width="0.35"/>
<circle cx="93.87" cy="128.80" r="0.55" fill="none" stroke="#999" stroke-width="0.35"/>
<circle cx="102.46" cy="124.15" r="0.55" fill="none" stroke="#999" stroke-width="0.35"/>
<circle cx="100.89" cy="127.01" r="0.55" fill="none" stroke="#999" stroke-width="0.35"/>
<circle cx="95.39" cy="125.37" r="0.55" fill="none" stroke="#999" stroke-width="0.35"/>
<circle cx="98.76" cy="126.26" r="0.55" fill="none" stroke="#999" stroke-width="0.35"/>
<circle cx="98.89" cy="127.31" r="0.55" fill="none" stroke="#999" stroke-width="0.35"/>
<circle cx="92.53" cy="127.85" r="0.55" fill="none" stroke="#999" stroke-width="0.35"/>
<circle cx="102.30" cy="128.88" r="0.55" fill="none" stroke="#999" stroke-width="0.35"/>
<circle cx="98.05" cy="124.15" r="0.55" fill="none" stroke="#999" stroke-width="0.35"/>
<rect x="96.20" y="122.28" width="2.00" height="8.40" fill="#f53d9e" stroke="none" stroke-width="1" />
<line x1="102.00" y1="135.50" x2="106.30" y2="135.50" stroke="#6a6a6a" stroke-width="0.7" />
<line x1="117.60" y1="135.50" x2="122.00" y2="135.50" stroke="#6a6a6a" stroke-width="0.7" />
<line x1="102.00" y1="134.06" x2="102.00" y2="136.94" stroke="#6a6a6a" stroke-width="0.7" />
<line x1="122.00" y1="134.06" x2="122.00" y2="136.94" stroke="#6a6a6a" stroke-width="0.7" />
<rect x="106.30" y="132.30" width="11.30" height="6.40" fill="#fff" stroke="#858585" stroke-width="0.7" />
<circle cx="110.31" cy="135.81" r="0.55" fill="none" stroke="#999" stroke-width="0.35"/>
<circle cx="122.11" cy="135.32" r="0.55" fill="none" stroke="#999" stroke-width="0.35"/>
<circle cx="111.70" cy="135.95" r="0.55" fill="none" stroke="#999" stroke-width="0.35"/>
<circle cx="103.62" cy="135.56" r="0.55" fill="none" stroke="#999" stroke-width="0.35"/>
<circle cx="114.75" cy="137.00" r="0.55" fill="none" stroke="#999" stroke-width="0.35"/>
<circle cx="101.35" cy="134.49" r="0.55" fill="none" stroke="#999" stroke-width="0.35"/>
<circle cx="101.27" cy="137.09" r="0.55" fill="none" stroke="#999" stroke-width="0.35"/>
<circle cx="116.34" cy="133.15" r="0.55" fill="none" stroke="#999" stroke-width="0.35"/>
<circle cx="123.55" cy="137.88" r="0.55" fill="none" stroke="#999" stroke-width="0.35"/>
<circle cx="115.35" cy="136.09" r="0.55" fill="none" stroke="#999" stroke-width="0.35"/>
<circle cx="102.94" cy="133.02" r="0.55" fill="none" stroke="#999" stroke-width="0.35"/>
<circle cx="112.21" cy="133.24" r="0.55" fill="none" stroke="#999" stroke-width="0.35"/>
<circle cx="103.76" cy="134.18" r="0.55" fill="none" stroke="#999" stroke-width="0.35"/>
<circle cx="99.75" cy="135.32" r="0.55" fill="none" stroke="#999" stroke-width="0.35"/>
<rect x="110.40" y="131.30" width="2.00" height="8.40" fill="#f53d9e" stroke="none" stroke-width="1" />
<line x1="126.30" y1="45.30" x2="126.30" y2="54.32" stroke="#8a8a8a" stroke-width="0.9" />
<line x1="128.50" y1="45.30" x2="128.50" y2="63.34" stroke="#8a8a8a" stroke-width="0.9" />
<line x1="129.30" y1="45.30" x2="129.30" y2="135.50" stroke="#8a8a8a" stroke-width="0.9" />
<line x1="137.50" y1="45.30" x2="137.50" y2="72.36" stroke="#8a8a8a" stroke-width="0.9" />
<line x1="139.00" y1="45.30" x2="139.00" y2="81.38" stroke="#8a8a8a" stroke-width="0.9" />
<line x1="140.30" y1="45.30" x2="140.30" y2="90.40" stroke="#8a8a8a" stroke-width="0.9" />
<line x1="141.60" y1="45.30" x2="141.60" y2="99.42" stroke="#8a8a8a" stroke-width="0.9" />
<line x1="143.20" y1="45.30" x2="143.20" y2="108.44" stroke="#8a8a8a" stroke-width="0.9" />
<line x1="144.70" y1="45.30" x2="144.70" y2="117.46" stroke="#8a8a8a" stroke-width="0.9" />
<line x1="146.30" y1="45.30" x2="146.30" y2="126.48" stroke="#8a8a8a" stroke-width="0.9" />
<text x="134.00" y="50.50" font-size="7" fill="#333" stroke="#333" stroke-width="0.12" text-anchor="middle" font-weight="normal" transform="rotate(90 134.0 50.5)" dominant-baseline="middle">ns</text>
<text x="149.40" y="54.60" font-size="9" fill="#111" stroke="#111" stroke-width="0" text-anchor="middle" font-weight="bold" >*</text>
<rect x="0.50" y="25.50" width="153.00" height="114.80" fill="none" stroke="#2a2a2a" stroke-width="1" />
<line x1="84.00" y1="25.50" x2="84.00" y2="140.30" stroke="#2a2a2a" stroke-width="1" />
<line x1="93.80" y1="140.30" x2="93.80" y2="144.40" stroke="#2a2a2a" stroke-width="0.9" />
<text x="93.80" y="151.30" font-size="8" fill="#222" stroke="#222" stroke-width="0.12" text-anchor="middle" font-weight="normal" >1</text>
<line x1="113.70" y1="140.30" x2="113.70" y2="144.40" stroke="#2a2a2a" stroke-width="0.9" />
<text x="113.70" y="151.30" font-size="8" fill="#222" stroke="#222" stroke-width="0.12" text-anchor="middle" font-weight="normal" >2</text>
<line x1="133.60" y1="140.30" x2="133.60" y2="144.40" stroke="#2a2a2a" stroke-width="0.9" />
<text x="133.60" y="151.30" font-size="8" fill="#222" stroke="#222" stroke-width="0.12" text-anchor="middle" font-weight="normal" >3</text>
<line x1="153.50" y1="140.30" x2="153.50" y2="144.40" stroke="#2a2a2a" stroke-width="0.9" />
<text x="153.50" y="151.30" font-size="8" fill="#222" stroke="#222" stroke-width="0.12" text-anchor="middle" font-weight="normal" >4</text>
<line x1="103.75" y1="140.30" x2="103.75" y2="142.00" stroke="#2a2a2a" stroke-width="0.9" />
<line x1="123.65" y1="140.30" x2="123.65" y2="142.00" stroke="#2a2a2a" stroke-width="0.9" />
<line x1="143.55" y1="140.30" x2="143.55" y2="142.00" stroke="#2a2a2a" stroke-width="0.9" />
<text x="119.40" y="160.80" font-size="8" fill="#222" stroke="#222" stroke-width="0.12" text-anchor="middle" font-weight="normal" >Colocalization index</text>
<text x="85.8" y="34.6" font-size="7.7"><tspan fill="#1818f4" stroke="#1818f4" stroke-width="0.12">DOR</tspan><tspan fill="#222" stroke="#222" stroke-width="0.12"> and </tspan><tspan fill="#f0287c" stroke="#f0287c" stroke-width="0.12">WT-MOR</tspan></text>
<line x1="270.20" y1="38.00" x2="270.20" y2="147.00" stroke="#dedede" stroke-width="0.7" />
<line x1="290.00" y1="38.00" x2="290.00" y2="147.00" stroke="#dedede" stroke-width="0.7" />
<line x1="309.80" y1="38.00" x2="309.80" y2="147.00" stroke="#dedede" stroke-width="0.7" />
<line x1="274.80" y1="43.90" x2="278.60" y2="43.90" stroke="#6a6a6a" stroke-width="0.7" />
<line x1="290.00" y1="43.90" x2="297.60" y2="43.90" stroke="#6a6a6a" stroke-width="0.7" />
<line x1="274.80" y1="42.50" x2="274.80" y2="45.30" stroke="#6a6a6a" stroke-width="0.7" />
<line x1="297.60" y1="42.50" x2="297.60" y2="45.30" stroke="#6a6a6a" stroke-width="0.7" />
<rect x="278.60" y="40.80" width="11.40" height="6.20" fill="#fff" stroke="#858585" stroke-width="0.7" />
<circle cx="296.98" cy="44.82" r="0.55" fill="none" stroke="#999" stroke-width="0.35"/>
<circle cx="293.11" cy="45.91" r="0.55" fill="none" stroke="#999" stroke-width="0.35"/>
<circle cx="279.02" cy="44.57" r="0.55" fill="none" stroke="#999" stroke-width="0.35"/>
<circle cx="296.96" cy="45.75" r="0.55" fill="none" stroke="#999" stroke-width="0.35"/>
<circle cx="287.73" cy="42.26" r="0.55" fill="none" stroke="#999" stroke-width="0.35"/>
<circle cx="283.24" cy="46.35" r="0.55" fill="none" stroke="#999" stroke-width="0.35"/>
<circle cx="274.67" cy="43.00" r="0.55" fill="none" stroke="#999" stroke-width="0.35"/>
<circle cx="298.21" cy="43.65" r="0.55" fill="none" stroke="#999" stroke-width="0.35"/>
<circle cx="277.60" cy="42.99" r="0.55" fill="none" stroke="#999" stroke-width="0.35"/>
<circle cx="297.06" cy="43.08" r="0.55" fill="none" stroke="#999" stroke-width="0.35"/>
<circle cx="283.68" cy="44.53" r="0.55" fill="none" stroke="#999" stroke-width="0.35"/>
<circle cx="294.20" cy="43.86" r="0.55" fill="none" stroke="#999" stroke-width="0.35"/>
<circle cx="274.06" cy="44.26" r="0.55" fill="none" stroke="#999" stroke-width="0.35"/>
<circle cx="272.78" cy="41.89" r="0.55" fill="none" stroke="#999" stroke-width="0.35"/>
<rect x="285.20" y="39.80" width="2.00" height="8.20" fill="#f53d9e" stroke="none" stroke-width="1" />
<line x1="274.80" y1="52.90" x2="280.10" y2="52.90" stroke="#6a6a6a" stroke-width="0.7" />
<line x1="292.30" y1="52.90" x2="298.80" y2="52.90" stroke="#6a6a6a" stroke-width="0.7" />
<line x1="274.80" y1="51.50" x2="274.80" y2="54.30" stroke="#6a6a6a" stroke-width="0.7" />
<line x1="298.80" y1="51.50" x2="298.80" y2="54.30" stroke="#6a6a6a" stroke-width="0.7" />
<rect x="280.10" y="49.80" width="12.20" height="6.20" fill="#fff" stroke="#858585" stroke-width="0.7" />
<circle cx="276.58" cy="53.84" r="0.55" fill="none" stroke="#999" stroke-width="0.35"/>
<circle cx="290.21" cy="52.80" r="0.55" fill="none" stroke="#999" stroke-width="0.35"/>
<circle cx="278.06" cy="54.35" r="0.55" fill="none" stroke="#999" stroke-width="0.35"/>
<circle cx="295.23" cy="52.96" r="0.55" fill="none" stroke="#999" stroke-width="0.35"/>
<circle cx="286.45" cy="51.59" r="0.55" fill="none" stroke="#999" stroke-width="0.35"/>
<circle cx="271.89" cy="52.26" r="0.55" fill="none" stroke="#999" stroke-width="0.35"/>
<circle cx="288.78" cy="50.76" r="0.55" fill="none" stroke="#999" stroke-width="0.35"/>
<circle cx="294.82" cy="51.57" r="0.55" fill="none" stroke="#999" stroke-width="0.35"/>
<circle cx="278.55" cy="50.63" r="0.55" fill="none" stroke="#999" stroke-width="0.35"/>
<circle cx="300.73" cy="54.08" r="0.55" fill="none" stroke="#999" stroke-width="0.35"/>
<circle cx="297.18" cy="53.47" r="0.55" fill="none" stroke="#999" stroke-width="0.35"/>
<circle cx="272.79" cy="52.05" r="0.55" fill="none" stroke="#999" stroke-width="0.35"/>
<circle cx="286.23" cy="50.99" r="0.55" fill="none" stroke="#999" stroke-width="0.35"/>
<circle cx="299.41" cy="52.25" r="0.55" fill="none" stroke="#999" stroke-width="0.35"/>
<rect x="285.20" y="48.80" width="2.00" height="8.20" fill="#f53d9e" stroke="none" stroke-width="1" />
<line x1="275.50" y1="61.90" x2="281.60" y2="61.90" stroke="#6a6a6a" stroke-width="0.7" />
<line x1="290.00" y1="61.90" x2="294.30" y2="61.90" stroke="#6a6a6a" stroke-width="0.7" />
<line x1="275.50" y1="60.50" x2="275.50" y2="63.30" stroke="#6a6a6a" stroke-width="0.7" />
<line x1="294.30" y1="60.50" x2="294.30" y2="63.30" stroke="#6a6a6a" stroke-width="0.7" />
<rect x="281.60" y="58.80" width="8.40" height="6.20" fill="#fff" stroke="#858585" stroke-width="0.7" />
<circle cx="295.31" cy="60.12" r="0.55" fill="none" stroke="#999" stroke-width="0.35"/>
<circle cx="273.06" cy="64.37" r="0.55" fill="none" stroke="#999" stroke-width="0.35"/>
<circle cx="276.89" cy="60.02" r="0.55" fill="none" stroke="#999" stroke-width="0.35"/>
<circle cx="288.00" cy="61.13" r="0.55" fill="none" stroke="#999" stroke-width="0.35"/>
<circle cx="293.67" cy="60.57" r="0.55" fill="none" stroke="#999" stroke-width="0.35"/>
<circle cx="295.34" cy="61.00" r="0.55" fill="none" stroke="#999" stroke-width="0.35"/>
<circle cx="286.81" cy="64.04" r="0.55" fill="none" stroke="#999" stroke-width="0.35"/>
<circle cx="288.81" cy="64.00" r="0.55" fill="none" stroke="#999" stroke-width="0.35"/>
<circle cx="289.35" cy="59.66" r="0.55" fill="none" stroke="#999" stroke-width="0.35"/>
<circle cx="293.48" cy="62.34" r="0.55" fill="none" stroke="#999" stroke-width="0.35"/>
<circle cx="279.89" cy="60.36" r="0.55" fill="none" stroke="#999" stroke-width="0.35"/>
<circle cx="292.73" cy="62.31" r="0.55" fill="none" stroke="#999" stroke-width="0.35"/>
<circle cx="294.82" cy="63.26" r="0.55" fill="none" stroke="#999" stroke-width="0.35"/>
<circle cx="295.38" cy="62.23" r="0.55" fill="none" stroke="#999" stroke-width="0.35"/>
<rect x="285.20" y="57.80" width="2.00" height="8.20" fill="#f53d9e" stroke="none" stroke-width="1" />
<line x1="275.00" y1="70.90" x2="279.80" y2="70.90" stroke="#6a6a6a" stroke-width="0.7" />
<line x1="295.80" y1="70.90" x2="299.00" y2="70.90" stroke="#6a6a6a" stroke-width="0.7" />
<line x1="275.00" y1="69.51" x2="275.00" y2="72.30" stroke="#6a6a6a" stroke-width="0.7" />
<line x1="299.00" y1="69.51" x2="299.00" y2="72.30" stroke="#6a6a6a" stroke-width="0.7" />
<rect x="279.80" y="67.80" width="16.00" height="6.20" fill="#fff" stroke="#858585" stroke-width="0.7" />
<circle cx="298.82" cy="73.13" r="0.55" fill="none" stroke="#999" stroke-width="0.35"/>
<circle cx="297.88" cy="68.83" r="0.55" fill="none" stroke="#999" stroke-width="0.35"/>
<circle cx="289.17" cy="70.52" r="0.55" fill="none" stroke="#999" stroke-width="0.35"/>
<circle cx="287.37" cy="69.07" r="0.55" fill="none" stroke="#999" stroke-width="0.35"/>
<circle cx="277.57" cy="70.63" r="0.55" fill="none" stroke="#999" stroke-width="0.35"/>
<circle cx="278.41" cy="70.68" r="0.55" fill="none" stroke="#999" stroke-width="0.35"/>
<circle cx="272.72" cy="68.85" r="0.55" fill="none" stroke="#999" stroke-width="0.35"/>
<circle cx="292.59" cy="70.51" r="0.55" fill="none" stroke="#999" stroke-width="0.35"/>
<circle cx="286.87" cy="72.06" r="0.55" fill="none" stroke="#999" stroke-width="0.35"/>
<circle cx="282.41" cy="68.71" r="0.55" fill="none" stroke="#999" stroke-width="0.35"/>
<circle cx="294.71" cy="71.34" r="0.55" fill="none" stroke="#999" stroke-width="0.35"/>
<circle cx="291.08" cy="71.50" r="0.55" fill="none" stroke="#999" stroke-width="0.35"/>
<circle cx="300.15" cy="70.22" r="0.55" fill="none" stroke="#999" stroke-width="0.35"/>
<circle cx="294.03" cy="70.25" r="0.55" fill="none" stroke="#999" stroke-width="0.35"/>
<rect x="285.20" y="66.80" width="2.00" height="8.20" fill="#f53d9e" stroke="none" stroke-width="1" />
<line x1="270.00" y1="79.90" x2="274.50" y2="79.90" stroke="#6a6a6a" stroke-width="0.7" />
<line x1="282.90" y1="79.90" x2="287.00" y2="79.90" stroke="#6a6a6a" stroke-width="0.7" />
<line x1="270.00" y1="78.51" x2="270.00" y2="81.30" stroke="#6a6a6a" stroke-width="0.7" />
<line x1="287.00" y1="78.51" x2="287.00" y2="81.30" stroke="#6a6a6a" stroke-width="0.7" />
<rect x="274.50" y="76.80" width="8.40" height="6.20" fill="#fff" stroke="#858585" stroke-width="0.7" />
<circle cx="282.67" cy="81.59" r="0.55" fill="none" stroke="#999" stroke-width="0.35"/>
<circle cx="271.02" cy="82.37" r="0.55" fill="none" stroke="#999" stroke-width="0.35"/>
<circle cx="271.27" cy="80.75" r="0.55" fill="none" stroke="#999" stroke-width="0.35"/>
<circle cx="269.02" cy="81.18" r="0.55" fill="none" stroke="#999" stroke-width="0.35"/>
<circle cx="270.33" cy="80.92" r="0.55" fill="none" stroke="#999" stroke-width="0.35"/>
<circle cx="282.94" cy="81.22" r="0.55" fill="none" stroke="#999" stroke-width="0.35"/>
<circle cx="276.71" cy="81.71" r="0.55" fill="none" stroke="#999" stroke-width="0.35"/>
<circle cx="288.73" cy="77.99" r="0.55" fill="none" stroke="#999" stroke-width="0.35"/>
<circle cx="278.37" cy="82.17" r="0.55" fill="none" stroke="#999" stroke-width="0.35"/>
<circle cx="283.26" cy="79.62" r="0.55" fill="none" stroke="#999" stroke-width="0.35"/>
<circle cx="273.70" cy="82.15" r="0.55" fill="none" stroke="#999" stroke-width="0.35"/>
<circle cx="268.87" cy="81.19" r="0.55" fill="none" stroke="#999" stroke-width="0.35"/>
<circle cx="285.55" cy="78.20" r="0.55" fill="none" stroke="#999" stroke-width="0.35"/>
<circle cx="274.19" cy="78.93" r="0.55" fill="none" stroke="#999" stroke-width="0.35"/>
<rect x="277.00" y="75.80" width="2.00" height="8.20" fill="#f53d9e" stroke="none" stroke-width="1" />
<line x1="268.00" y1="88.90" x2="272.50" y2="88.90" stroke="#6a6a6a" stroke-width="0.7" />
<line x1="277.00" y1="88.90" x2="281.00" y2="88.90" stroke="#6a6a6a" stroke-width="0.7" />
<line x1="268.00" y1="87.51" x2="268.00" y2="90.30" stroke="#6a6a6a" stroke-width="0.7" />
<line x1="281.00" y1="87.51" x2="281.00" y2="90.30" stroke="#6a6a6a" stroke-width="0.7" />
<rect x="272.50" y="85.80" width="4.50" height="6.20" fill="#fff" stroke="#858585" stroke-width="0.7" />
<circle cx="271.79" cy="91.02" r="0.55" fill="none" stroke="#999" stroke-width="0.35"/>
<circle cx="280.18" cy="87.48" r="0.55" fill="none" stroke="#999" stroke-width="0.35"/>
<circle cx="280.69" cy="89.58" r="0.55" fill="none" stroke="#999" stroke-width="0.35"/>
<circle cx="265.76" cy="91.15" r="0.55" fill="none" stroke="#999" stroke-width="0.35"/>
<circle cx="269.60" cy="87.94" r="0.55" fill="none" stroke="#999" stroke-width="0.35"/>
<circle cx="272.63" cy="89.34" r="0.55" fill="none" stroke="#999" stroke-width="0.35"/>
<circle cx="267.24" cy="89.83" r="0.55" fill="none" stroke="#999" stroke-width="0.35"/>
<circle cx="279.98" cy="88.96" r="0.55" fill="none" stroke="#999" stroke-width="0.35"/>
<circle cx="279.30" cy="89.52" r="0.55" fill="none" stroke="#999" stroke-width="0.35"/>
<circle cx="279.85" cy="87.32" r="0.55" fill="none" stroke="#999" stroke-width="0.35"/>
<circle cx="271.46" cy="88.75" r="0.55" fill="none" stroke="#999" stroke-width="0.35"/>
<circle cx="266.87" cy="91.25" r="0.55" fill="none" stroke="#999" stroke-width="0.35"/>
<circle cx="276.45" cy="86.91" r="0.55" fill="none" stroke="#999" stroke-width="0.35"/>
<circle cx="275.49" cy="88.48" r="0.55" fill="none" stroke="#999" stroke-width="0.35"/>
<rect x="273.80" y="84.80" width="2.00" height="8.20" fill="#f53d9e" stroke="none" stroke-width="1" />
<line x1="266.00" y1="97.90" x2="268.40" y2="97.90" stroke="#6a6a6a" stroke-width="0.7" />
<line x1="276.80" y1="97.90" x2="280.00" y2="97.90" stroke="#6a6a6a" stroke-width="0.7" />
<line x1="266.00" y1="96.51" x2="266.00" y2="99.30" stroke="#6a6a6a" stroke-width="0.7" />
<line x1="280.00" y1="96.51" x2="280.00" y2="99.30" stroke="#6a6a6a" stroke-width="0.7" />
<rect x="268.40" y="94.80" width="8.40" height="6.20" fill="#fff" stroke="#858585" stroke-width="0.7" />
<circle cx="277.20" cy="96.43" r="0.55" fill="none" stroke="#999" stroke-width="0.35"/>
<circle cx="266.90" cy="98.40" r="0.55" fill="none" stroke="#999" stroke-width="0.35"/>
<circle cx="264.08" cy="99.27" r="0.55" fill="none" stroke="#999" stroke-width="0.35"/>
<circle cx="277.52" cy="95.63" r="0.55" fill="none" stroke="#999" stroke-width="0.35"/>
<circle cx="275.98" cy="97.91" r="0.55" fill="none" stroke="#999" stroke-width="0.35"/>
<circle cx="275.07" cy="100.15" r="0.55" fill="none" stroke="#999" stroke-width="0.35"/>
<circle cx="281.75" cy="97.45" r="0.55" fill="none" stroke="#999" stroke-width="0.35"/>
<circle cx="279.04" cy="99.32" r="0.55" fill="none" stroke="#999" stroke-width="0.35"/>
<circle cx="281.46" cy="95.56" r="0.55" fill="none" stroke="#999" stroke-width="0.35"/>
<circle cx="280.82" cy="96.52" r="0.55" fill="none" stroke="#999" stroke-width="0.35"/>
<circle cx="265.46" cy="98.38" r="0.55" fill="none" stroke="#999" stroke-width="0.35"/>
<circle cx="278.94" cy="100.17" r="0.55" fill="none" stroke="#999" stroke-width="0.35"/>
<circle cx="269.92" cy="99.53" r="0.55" fill="none" stroke="#999" stroke-width="0.35"/>
<circle cx="263.59" cy="100.22" r="0.55" fill="none" stroke="#999" stroke-width="0.35"/>
<rect x="272.00" y="93.80" width="2.00" height="8.20" fill="#f53d9e" stroke="none" stroke-width="1" />
<line x1="271.00" y1="106.90" x2="274.50" y2="106.90" stroke="#6a6a6a" stroke-width="0.7" />
<line x1="284.20" y1="106.90" x2="287.00" y2="106.90" stroke="#6a6a6a" stroke-width="0.7" />
<line x1="271.00" y1="105.51" x2="271.00" y2="108.30" stroke="#6a6a6a" stroke-width="0.7" />
<line x1="287.00" y1="105.51" x2="287.00" y2="108.30" stroke="#6a6a6a" stroke-width="0.7" />
<rect x="274.50" y="103.80" width="9.70" height="6.20" fill="#fff" stroke="#858585" stroke-width="0.7" />
<circle cx="281.62" cy="107.90" r="0.55" fill="none" stroke="#999" stroke-width="0.35"/>
<circle cx="288.10" cy="105.39" r="0.55" fill="none" stroke="#999" stroke-width="0.35"/>
<circle cx="269.37" cy="108.51" r="0.55" fill="none" stroke="#999" stroke-width="0.35"/>
<circle cx="274.99" cy="106.27" r="0.55" fill="none" stroke="#999" stroke-width="0.35"/>
<circle cx="285.11" cy="105.33" r="0.55" fill="none" stroke="#999" stroke-width="0.35"/>
<circle cx="287.10" cy="106.86" r="0.55" fill="none" stroke="#999" stroke-width="0.35"/>
<circle cx="269.50" cy="108.97" r="0.55" fill="none" stroke="#999" stroke-width="0.35"/>
<circle cx="280.03" cy="104.81" r="0.55" fill="none" stroke="#999" stroke-width="0.35"/>
<circle cx="285.61" cy="108.26" r="0.55" fill="none" stroke="#999" stroke-width="0.35"/>
<circle cx="283.54" cy="107.68" r="0.55" fill="none" stroke="#999" stroke-width="0.35"/>
<circle cx="288.85" cy="104.48" r="0.55" fill="none" stroke="#999" stroke-width="0.35"/>
<circle cx="288.46" cy="107.61" r="0.55" fill="none" stroke="#999" stroke-width="0.35"/>
<circle cx="273.31" cy="107.46" r="0.55" fill="none" stroke="#999" stroke-width="0.35"/>
<circle cx="275.09" cy="107.65" r="0.55" fill="none" stroke="#999" stroke-width="0.35"/>
<rect x="278.00" y="102.80" width="2.00" height="8.20" fill="#f53d9e" stroke="none" stroke-width="1" />
<line x1="268.00" y1="115.90" x2="272.10" y2="115.90" stroke="#6a6a6a" stroke-width="0.7" />
<line x1="281.80" y1="115.90" x2="285.00" y2="115.90" stroke="#6a6a6a" stroke-width="0.7" />
<line x1="268.00" y1="114.51" x2="268.00" y2="117.30" stroke="#6a6a6a" stroke-width="0.7" />
<line x1="285.00" y1="114.51" x2="285.00" y2="117.30" stroke="#6a6a6a" stroke-width="0.7" />
<rect x="272.10" y="112.80" width="9.70" height="6.20" fill="#fff" stroke="#858585" stroke-width="0.7" />
<circle cx="267.49" cy="114.07" r="0.55" fill="none" stroke="#999" stroke-width="0.35"/>
<circle cx="278.14" cy="114.30" r="0.55" fill="none" stroke="#999" stroke-width="0.35"/>
<circle cx="267.91" cy="115.72" r="0.55" fill="none" stroke="#999" stroke-width="0.35"/>
<circle cx="274.19" cy="114.48" r="0.55" fill="none" stroke="#999" stroke-width="0.35"/>
<circle cx="273.62" cy="117.60" r="0.55" fill="none" stroke="#999" stroke-width="0.35"/>
<circle cx="267.88" cy="114.35" r="0.55" fill="none" stroke="#999" stroke-width="0.35"/>
<circle cx="265.61" cy="114.61" r="0.55" fill="none" stroke="#999" stroke-width="0.35"/>
<circle cx="267.09" cy="118.30" r="0.55" fill="none" stroke="#999" stroke-width="0.35"/>
<circle cx="271.92" cy="118.33" r="0.55" fill="none" stroke="#999" stroke-width="0.35"/>
<circle cx="267.85" cy="117.90" r="0.55" fill="none" stroke="#999" stroke-width="0.35"/>
<circle cx="276.14" cy="116.85" r="0.55" fill="none" stroke="#999" stroke-width="0.35"/>
<circle cx="279.57" cy="114.76" r="0.55" fill="none" stroke="#999" stroke-width="0.35"/>
<circle cx="270.12" cy="116.79" r="0.55" fill="none" stroke="#999" stroke-width="0.35"/>
<circle cx="267.89" cy="113.49" r="0.55" fill="none" stroke="#999" stroke-width="0.35"/>
<rect x="276.30" y="111.80" width="2.00" height="8.20" fill="#f53d9e" stroke="none" stroke-width="1" />
<line x1="268.00" y1="124.90" x2="272.10" y2="124.90" stroke="#6a6a6a" stroke-width="0.7" />
<line x1="279.10" y1="124.90" x2="283.00" y2="124.90" stroke="#6a6a6a" stroke-width="0.7" />
<line x1="268.00" y1="123.51" x2="268.00" y2="126.30" stroke="#6a6a6a" stroke-width="0.7" />
<line x1="283.00" y1="123.51" x2="283.00" y2="126.30" stroke="#6a6a6a" stroke-width="0.7" />
<rect x="272.10" y="121.80" width="7.00" height="6.20" fill="#fff" stroke="#858585" stroke-width="0.7" />
<circle cx="275.96" cy="124.14" r="0.55" fill="none" stroke="#999" stroke-width="0.35"/>
<circle cx="281.90" cy="123.85" r="0.55" fill="none" stroke="#999" stroke-width="0.35"/>
<circle cx="275.21" cy="124.13" r="0.55" fill="none" stroke="#999" stroke-width="0.35"/>
<circle cx="273.31" cy="127.25" r="0.55" fill="none" stroke="#999" stroke-width="0.35"/>
<circle cx="267.07" cy="124.63" r="0.55" fill="none" stroke="#999" stroke-width="0.35"/>
<circle cx="269.50" cy="124.15" r="0.55" fill="none" stroke="#999" stroke-width="0.35"/>
<circle cx="284.97" cy="124.05" r="0.55" fill="none" stroke="#999" stroke-width="0.35"/>
<circle cx="277.16" cy="124.50" r="0.55" fill="none" stroke="#999" stroke-width="0.35"/>
<circle cx="279.61" cy="124.64" r="0.55" fill="none" stroke="#999" stroke-width="0.35"/>
<circle cx="268.41" cy="124.57" r="0.55" fill="none" stroke="#999" stroke-width="0.35"/>
<circle cx="273.16" cy="126.35" r="0.55" fill="none" stroke="#999" stroke-width="0.35"/>
<circle cx="276.25" cy="123.39" r="0.55" fill="none" stroke="#999" stroke-width="0.35"/>
<circle cx="278.48" cy="123.90" r="0.55" fill="none" stroke="#999" stroke-width="0.35"/>
<circle cx="275.24" cy="123.51" r="0.55" fill="none" stroke="#999" stroke-width="0.35"/>
<rect x="274.70" y="120.80" width="2.00" height="8.20" fill="#f53d9e" stroke="none" stroke-width="1" />
<line x1="266.00" y1="133.90" x2="268.90" y2="133.90" stroke="#6a6a6a" stroke-width="0.7" />
<line x1="274.50" y1="133.90" x2="278.00" y2="133.90" stroke="#6a6a6a" stroke-width="0.7" />
<line x1="266.00" y1="132.50" x2="266.00" y2="135.30" stroke="#6a6a6a" stroke-width="0.7" />
<line x1="278.00" y1="132.50" x2="278.00" y2="135.30" stroke="#6a6a6a" stroke-width="0.7" />
<rect x="268.90" y="130.80" width="5.60" height="6.20" fill="#fff" stroke="#858585" stroke-width="0.7" />
<circle cx="272.16" cy="132.85" r="0.55" fill="none" stroke="#999" stroke-width="0.35"/>
<circle cx="263.51" cy="134.66" r="0.55" fill="none" stroke="#999" stroke-width="0.35"/>
<circle cx="266.57" cy="132.70" r="0.55" fill="none" stroke="#999" stroke-width="0.35"/>
<circle cx="269.75" cy="134.60" r="0.55" fill="none" stroke="#999" stroke-width="0.35"/>
<circle cx="279.81" cy="133.71" r="0.55" fill="none" stroke="#999" stroke-width="0.35"/>
<circle cx="279.89" cy="136.34" r="0.55" fill="none" stroke="#999" stroke-width="0.35"/>
<circle cx="267.13" cy="131.78" r="0.55" fill="none" stroke="#999" stroke-width="0.35"/>
<circle cx="265.72" cy="135.60" r="0.55" fill="none" stroke="#999" stroke-width="0.35"/>
<circle cx="273.19" cy="135.97" r="0.55" fill="none" stroke="#999" stroke-width="0.35"/>
<circle cx="279.53" cy="134.67" r="0.55" fill="none" stroke="#999" stroke-width="0.35"/>
<circle cx="272.10" cy="131.76" r="0.55" fill="none" stroke="#999" stroke-width="0.35"/>
<circle cx="263.40" cy="135.41" r="0.55" fill="none" stroke="#999" stroke-width="0.35"/>
<circle cx="274.42" cy="135.20" r="0.55" fill="none" stroke="#999" stroke-width="0.35"/>
<circle cx="272.62" cy="134.76" r="0.55" fill="none" stroke="#999" stroke-width="0.35"/>
<rect x="271.90" y="129.80" width="2.00" height="8.20" fill="#f53d9e" stroke="none" stroke-width="1" />
<line x1="275.00" y1="142.90" x2="279.10" y2="142.90" stroke="#6a6a6a" stroke-width="0.7" />
<line x1="291.50" y1="142.90" x2="301.00" y2="142.90" stroke="#6a6a6a" stroke-width="0.7" />
<line x1="275.00" y1="141.50" x2="275.00" y2="144.30" stroke="#6a6a6a" stroke-width="0.7" />
<line x1="301.00" y1="141.50" x2="301.00" y2="144.30" stroke="#6a6a6a" stroke-width="0.7" />
<rect x="279.10" y="139.80" width="12.40" height="6.20" fill="#fff" stroke="#858585" stroke-width="0.7" />
<circle cx="272.38" cy="140.98" r="0.55" fill="none" stroke="#999" stroke-width="0.35"/>
<circle cx="284.18" cy="143.81" r="0.55" fill="none" stroke="#999" stroke-width="0.35"/>
<circle cx="276.30" cy="140.98" r="0.55" fill="none" stroke="#999" stroke-width="0.35"/>
<circle cx="279.19" cy="144.18" r="0.55" fill="none" stroke="#999" stroke-width="0.35"/>
<circle cx="276.57" cy="144.09" r="0.55" fill="none" stroke="#999" stroke-width="0.35"/>
<circle cx="292.53" cy="141.10" r="0.55" fill="none" stroke="#999" stroke-width="0.35"/>
<circle cx="288.61" cy="142.64" r="0.55" fill="none" stroke="#999" stroke-width="0.35"/>
<circle cx="284.79" cy="145.36" r="0.55" fill="none" stroke="#999" stroke-width="0.35"/>
<circle cx="274.89" cy="140.52" r="0.55" fill="none" stroke="#999" stroke-width="0.35"/>
<circle cx="301.13" cy="142.42" r="0.55" fill="none" stroke="#999" stroke-width="0.35"/>
<circle cx="278.15" cy="142.06" r="0.55" fill="none" stroke="#999" stroke-width="0.35"/>
<circle cx="283.31" cy="145.16" r="0.55" fill="none" stroke="#999" stroke-width="0.35"/>
<circle cx="278.52" cy="141.50" r="0.55" fill="none" stroke="#999" stroke-width="0.35"/>
<circle cx="290.13" cy="143.14" r="0.55" fill="none" stroke="#999" stroke-width="0.35"/>
<rect x="285.20" y="138.80" width="2.00" height="8.20" fill="#f53d9e" stroke="none" stroke-width="1" />
<line x1="301.10" y1="43.60" x2="301.10" y2="52.90" stroke="#8a8a8a" stroke-width="0.85" />
<line x1="302.30" y1="43.60" x2="302.30" y2="61.90" stroke="#8a8a8a" stroke-width="0.85" />
<line x1="303.60" y1="43.60" x2="303.60" y2="61.90" stroke="#8a8a8a" stroke-width="0.85" />
<line x1="304.90" y1="43.60" x2="304.90" y2="70.90" stroke="#8a8a8a" stroke-width="0.85" />
<line x1="306.20" y1="43.60" x2="306.20" y2="142.90" stroke="#8a8a8a" stroke-width="0.9" />
<line x1="314.00" y1="43.60" x2="314.00" y2="79.90" stroke="#8a8a8a" stroke-width="0.9" />
<line x1="315.50" y1="43.60" x2="315.50" y2="88.90" stroke="#8a8a8a" stroke-width="0.9" />
<line x1="316.80" y1="43.60" x2="316.80" y2="97.90" stroke="#8a8a8a" stroke-width="0.9" />
<line x1="318.30" y1="43.60" x2="318.30" y2="106.90" stroke="#8a8a8a" stroke-width="0.9" />
<line x1="319.70" y1="43.60" x2="319.70" y2="115.90" stroke="#8a8a8a" stroke-width="0.9" />
<line x1="321.20" y1="43.60" x2="321.20" y2="124.90" stroke="#8a8a8a" stroke-width="0.9" />
<line x1="322.60" y1="43.60" x2="322.60" y2="133.90" stroke="#8a8a8a" stroke-width="0.9" />
<text x="310.40" y="48.90" font-size="7" fill="#333" stroke="#333" stroke-width="0.12" text-anchor="middle" font-weight="normal" transform="rotate(90 310.4 48.9)" dominant-baseline="middle">ns</text>
<text x="326.00" y="52.40" font-size="9" fill="#111" stroke="#111" stroke-width="0" text-anchor="middle" font-weight="bold" >*</text>
<rect x="166.60" y="25.60" width="163.10" height="121.40" fill="none" stroke="#2a2a2a" stroke-width="1" />
<line x1="260.40" y1="25.60" x2="260.40" y2="147.00" stroke="#2a2a2a" stroke-width="1" />
<line x1="270.20" y1="147.00" x2="270.20" y2="150.80" stroke="#2a2a2a" stroke-width="0.9" />
<text x="270.20" y="158.30" font-size="8" fill="#222" stroke="#222" stroke-width="0.12" text-anchor="middle" font-weight="normal" >1</text>
<line x1="290.00" y1="147.00" x2="290.00" y2="150.80" stroke="#2a2a2a" stroke-width="0.9" />
<text x="290.00" y="158.30" font-size="8" fill="#222" stroke="#222" stroke-width="0.12" text-anchor="middle" font-weight="normal" >2</text>
<line x1="309.80" y1="147.00" x2="309.80" y2="150.80" stroke="#2a2a2a" stroke-width="0.9" />
<text x="309.80" y="159.30" font-size="8" fill="#222" stroke="#222" stroke-width="0.12" text-anchor="middle" font-weight="normal" >3</text>
<line x1="329.60" y1="147.00" x2="329.60" y2="150.80" stroke="#2a2a2a" stroke-width="0.9" />
<text x="329.60" y="158.30" font-size="8" fill="#222" stroke="#222" stroke-width="0.12" text-anchor="middle" font-weight="normal" >4</text>
<line x1="280.10" y1="147.00" x2="280.10" y2="148.70" stroke="#2a2a2a" stroke-width="0.9" />
<line x1="299.90" y1="147.00" x2="299.90" y2="148.70" stroke="#2a2a2a" stroke-width="0.9" />
<line x1="319.70" y1="147.00" x2="319.70" y2="148.70" stroke="#2a2a2a" stroke-width="0.9" />
<text x="295.20" y="166.80" font-size="8" fill="#222" stroke="#222" stroke-width="0.12" text-anchor="middle" font-weight="normal" >Colocalization index</text>
<text x="262.3" y="33.5" font-size="7.7"><tspan fill="#1818f4" stroke="#1818f4" stroke-width="0.12">WT-DOR</tspan><tspan fill="#222" stroke="#222" stroke-width="0.12"> and </tspan><tspan fill="#f0287c" stroke="#f0287c" stroke-width="0.12">MOR</tspan></text>
<path d="M44.84,297.6 V208.50 H50.15 V297.6" fill="none" stroke="#f5a3c6" stroke-width="0.9"/>
<path d="M50.15,297.6 V220.13 H55.47 V297.6" fill="none" stroke="#f5a3c6" stroke-width="0.9"/>
<path d="M55.47,297.6 V228.15 H60.79 V297.6" fill="none" stroke="#f5a3c6" stroke-width="0.9"/>
<path d="M60.79,297.6 V231.11 H66.10 V297.6" fill="none" stroke="#f5a3c6" stroke-width="0.9"/>
<path d="M66.10,297.6 V236.06 H71.42 V297.6" fill="none" stroke="#f5a3c6" stroke-width="0.9"/>
<path d="M71.42,297.6 V241.41 H76.73 V297.6" fill="none" stroke="#f5a3c6" stroke-width="0.9"/>
<path d="M76.73,297.6 V244.72 H82.05 V297.6" fill="none" stroke="#f5a3c6" stroke-width="0.9"/>
<path d="M82.05,297.6 V251.67 H87.37 V297.6" fill="none" stroke="#f5a3c6" stroke-width="0.9"/>
<path d="M87.37,297.6 V257.58 H92.68 V297.6" fill="none" stroke="#f5a3c6" stroke-width="0.9"/>
<path d="M92.68,297.6 V263.71 H98.00 V297.6" fill="none" stroke="#f5a3c6" stroke-width="0.9"/>
<path d="M98.00,297.6 V264.73 H103.31 V297.6" fill="none" stroke="#f5a3c6" stroke-width="0.9"/>
<path d="M103.31,297.6 V262.78 H108.63 V297.6" fill="none" stroke="#f5a3c6" stroke-width="0.9"/>
<path d="M108.63,297.6 V263.46 H113.95 V297.6" fill="none" stroke="#f5a3c6" stroke-width="0.9"/>
<path d="M113.95,297.6 V276.49 H119.26 V297.6" fill="none" stroke="#f5a3c6" stroke-width="0.9"/>
<path d="M119.26,297.6 V277.72 H124.58 V297.6" fill="none" stroke="#f5a3c6" stroke-width="0.9"/>
<path d="M124.58,297.6 V270.95 H129.90 V297.6" fill="none" stroke="#f5a3c6" stroke-width="0.9"/>
<path d="M129.90,297.6 V286.46 H135.21 V297.6" fill="none" stroke="#f5a3c6" stroke-width="0.9"/>
<path d="M135.21,297.6 V287.88 H140.53 V297.6" fill="none" stroke="#f5a3c6" stroke-width="0.9"/>
<path d="M140.53,297.6 V285.10 H145.84 V297.6" fill="none" stroke="#f5a3c6" stroke-width="0.9"/>
<path d="M145.84,297.6 V286.16 H151.16 V297.6" fill="none" stroke="#f5a3c6" stroke-width="0.9"/>
<path d="M151.16,297.6 V281.36 H156.48 V297.6" fill="none" stroke="#f5a3c6" stroke-width="0.9"/>
<path d="M156.48,297.6 V280.92 H161.79 V297.6" fill="none" stroke="#f5a3c6" stroke-width="0.9"/>
<rect x="44.84" y="208.30" width="5.32" height="89.30" fill="#c2c2c2" stroke="none" stroke-width="1" />
<rect x="50.15" y="212.95" width="5.32" height="84.65" fill="#c2c2c2" stroke="none" stroke-width="1" />
<rect x="55.47" y="220.29" width="5.32" height="77.31" fill="#c2c2c2" stroke="none" stroke-width="1" />
<rect x="60.79" y="227.11" width="5.32" height="70.49" fill="#c2c2c2" stroke="none" stroke-width="1" />
<rect x="66.10" y="232.30" width="5.32" height="65.30" fill="#c2c2c2" stroke="none" stroke-width="1" />
<rect x="71.42" y="241.32" width="5.32" height="56.28" fill="#c2c2c2" stroke="none" stroke-width="1" />
<rect x="76.73" y="247.55" width="5.32" height="50.05" fill="#c2c2c2" stroke="none" stroke-width="1" />
<rect x="82.05" y="256.28" width="5.32" height="41.32" fill="#c2c2c2" stroke="none" stroke-width="1" />
<rect x="87.37" y="260.62" width="5.32" height="36.98" fill="#c2c2c2" stroke="none" stroke-width="1" />
<rect x="92.68" y="267.58" width="5.32" height="30.02" fill="#c2c2c2" stroke="none" stroke-width="1" />
<rect x="98.00" y="272.93" width="5.32" height="24.67" fill="#c2c2c2" stroke="none" stroke-width="1" />
<rect x="103.31" y="280.04" width="5.32" height="17.56" fill="#c2c2c2" stroke="none" stroke-width="1" />
<rect x="108.63" y="284.91" width="5.32" height="12.69" fill="#c2c2c2" stroke="none" stroke-width="1" />
<rect x="113.95" y="289.88" width="5.32" height="7.72" fill="#c2c2c2" stroke="none" stroke-width="1" />
<path d="M44.84,297.6 V208.00 H50.15 V297.6" fill="none" stroke="#97a3f4" stroke-width="0.9"/>
<path d="M50.15,297.6 V212.95 H55.47 V297.6" fill="none" stroke="#97a3f4" stroke-width="0.9"/>
<path d="M55.47,297.6 V220.29 H60.79 V297.6" fill="none" stroke="#97a3f4" stroke-width="0.9"/>
<path d="M60.79,297.6 V227.11 H66.10 V297.6" fill="none" stroke="#97a3f4" stroke-width="0.9"/>
<path d="M66.10,297.6 V232.30 H71.42 V297.6" fill="none" stroke="#97a3f4" stroke-width="0.9"/>
<path d="M71.42,297.6 V236.24 H76.73 V297.6" fill="none" stroke="#97a3f4" stroke-width="0.9"/>
<path d="M76.73,297.6 V243.67 H82.05 V297.6" fill="none" stroke="#97a3f4" stroke-width="0.9"/>
<path d="M82.05,297.6 V254.93 H87.37 V297.6" fill="none" stroke="#97a3f4" stroke-width="0.9"/>
<path d="M87.37,297.6 V256.97 H92.68 V297.6" fill="none" stroke="#97a3f4" stroke-width="0.9"/>
<path d="M92.68,297.6 V266.50 H98.00 V297.6" fill="none" stroke="#97a3f4" stroke-width="0.9"/>
<path d="M98.00,297.6 V267.19 H103.31 V297.6" fill="none" stroke="#97a3f4" stroke-width="0.9"/>
<path d="M103.31,297.6 V269.84 H108.63 V297.6" fill="none" stroke="#97a3f4" stroke-width="0.9"/>
<path d="M108.63,297.6 V279.44 H113.95 V297.6" fill="none" stroke="#97a3f4" stroke-width="0.9"/>
<path d="M113.95,297.6 V285.68 H119.26 V297.6" fill="none" stroke="#97a3f4" stroke-width="0.9"/>
<path d="M119.26,297.6 V286.55 H124.58 V297.6" fill="none" stroke="#97a3f4" stroke-width="0.9"/>
<path d="M124.58,297.6 V289.93 H129.90 V297.6" fill="none" stroke="#97a3f4" stroke-width="0.9"/>
<clipPath id="cp11"><rect x="37.5" y="190.6" width="128.8" height="107.00000000000003"/></clipPath>
<g clip-path="url(#cp11)" stroke-linecap="round">
<path d="M47.55,209.20 C49.62,211.62 55.88,219.47 59.99,223.70 C64.10,227.93 68.14,230.75 72.21,234.60 C76.27,238.45 80.33,242.73 84.39,246.80 C88.46,250.87 92.53,255.33 96.59,259.00 C100.66,262.67 104.73,266.03 108.80,268.80 C112.86,271.57 116.93,273.57 121.00,275.60 C125.07,277.63 129.13,279.50 133.20,281.00 C137.27,282.50 141.33,283.38 145.40,284.60 C149.47,285.82 154.32,287.35 157.60,288.30 C160.89,289.25 163.85,289.97 165.10,290.30" fill="none" stroke="#e6007e" stroke-width="2.2"/>
<line x1="47.60" y1="209.20" x2="116.00" y2="297.60" stroke="#333" stroke-width="2.1" />
<path d="M47.60,209.02 L51.60,213.75 L55.60,218.42 L59.60,223.03 L63.60,227.58 L67.60,232.08 L71.60,236.52 L75.60,240.89 L79.60,245.22 L83.60,249.48 L87.60,253.69 L91.60,257.83 L95.60,261.92 L99.60,265.96 L103.60,269.93 L107.60,273.85 L111.60,277.71 L115.60,281.51 L119.60,285.25 L123.60,288.93 L127.60,292.56 L131.60,296.13 L135.60,299.64" fill="none" stroke="#6a7ff0" stroke-width="2.2"/>
</g>
<rect x="37.50" y="190.60" width="128.80" height="107.00" fill="none" stroke="#333" stroke-width="1.15" />
<line x1="37.50" y1="297.60" x2="37.50" y2="304.60" stroke="#222" stroke-width="0.9" />
<line x1="45.48" y1="297.60" x2="45.48" y2="304.60" stroke="#222" stroke-width="0.9" />
<line x1="53.45" y1="297.60" x2="53.45" y2="304.60" stroke="#222" stroke-width="0.9" />
<line x1="61.42" y1="297.60" x2="61.42" y2="304.60" stroke="#222" stroke-width="0.9" />
<line x1="69.40" y1="297.60" x2="69.40" y2="304.60" stroke="#222" stroke-width="0.9" />
<line x1="77.38" y1="297.60" x2="77.38" y2="304.60" stroke="#222" stroke-width="0.9" />
<line x1="85.35" y1="297.60" x2="85.35" y2="304.60" stroke="#222" stroke-width="0.9" />
<line x1="93.33" y1="297.60" x2="93.33" y2="304.60" stroke="#222" stroke-width="0.9" />
<line x1="101.30" y1="297.60" x2="101.30" y2="304.60" stroke="#222" stroke-width="0.9" />
<line x1="109.28" y1="297.60" x2="109.28" y2="304.60" stroke="#222" stroke-width="0.9" />
<line x1="117.25" y1="297.60" x2="117.25" y2="304.60" stroke="#222" stroke-width="0.9" />
<line x1="125.23" y1="297.60" x2="125.23" y2="304.60" stroke="#222" stroke-width="0.9" />
<line x1="133.20" y1="297.60" x2="133.20" y2="304.60" stroke="#222" stroke-width="0.9" />
<line x1="141.18" y1="297.60" x2="141.18" y2="304.60" stroke="#222" stroke-width="0.9" />
<line x1="149.15" y1="297.60" x2="149.15" y2="304.60" stroke="#222" stroke-width="0.9" />
<line x1="157.12" y1="297.60" x2="157.12" y2="304.60" stroke="#222" stroke-width="0.9" />
<line x1="165.10" y1="297.60" x2="165.10" y2="304.60" stroke="#222" stroke-width="0.9" />
<text x="37.50" y="314.70" font-size="9" fill="#222" stroke="#222" stroke-width="0.12" text-anchor="middle" font-weight="normal" >0</text>
<text x="69.40" y="314.70" font-size="9" fill="#222" stroke="#222" stroke-width="0.12" text-anchor="middle" font-weight="normal" >200</text>
<text x="101.30" y="314.70" font-size="9" fill="#222" stroke="#222" stroke-width="0.12" text-anchor="middle" font-weight="normal" >400</text>
<text x="133.20" y="314.70" font-size="9" fill="#222" stroke="#222" stroke-width="0.12" text-anchor="middle" font-weight="normal" >600</text>
<text x="165.10" y="314.70" font-size="9" fill="#222" stroke="#222" stroke-width="0.12" text-anchor="middle" font-weight="normal" >800</text>
<line x1="29.60" y1="190.60" x2="37.50" y2="190.60" stroke="#222" stroke-width="0.9" />
<line x1="33.30" y1="209.30" x2="37.50" y2="209.30" stroke="#222" stroke-width="0.7" />
<line x1="33.30" y1="204.59" x2="37.50" y2="204.59" stroke="#222" stroke-width="0.7" />
<line x1="33.30" y1="201.24" x2="37.50" y2="201.24" stroke="#222" stroke-width="0.7" />
<line x1="33.30" y1="198.65" x2="37.50" y2="198.65" stroke="#222" stroke-width="0.7" />
<line x1="33.30" y1="196.53" x2="37.50" y2="196.53" stroke="#222" stroke-width="0.7" />
<line x1="33.30" y1="194.74" x2="37.50" y2="194.74" stroke="#222" stroke-width="0.7" />
<line x1="33.30" y1="193.19" x2="37.50" y2="193.19" stroke="#222" stroke-width="0.7" />
<line x1="33.30" y1="191.82" x2="37.50" y2="191.82" stroke="#222" stroke-width="0.7" />
<line x1="29.60" y1="217.35" x2="37.50" y2="217.35" stroke="#222" stroke-width="0.9" />
<line x1="33.30" y1="236.05" x2="37.50" y2="236.05" stroke="#222" stroke-width="0.7" />
<line x1="33.30" y1="231.34" x2="37.50" y2="231.34" stroke="#222" stroke-width="0.7" />
<line x1="33.30" y1="227.99" x2="37.50" y2="227.99" stroke="#222" stroke-width="0.7" />
<line x1="33.30" y1="225.40" x2="37.50" y2="225.40" stroke="#222" stroke-width="0.7" />
<line x1="33.30" y1="223.28" x2="37.50" y2="223.28" stroke="#222" stroke-width="0.7" />
<line x1="33.30" y1="221.49" x2="37.50" y2="221.49" stroke="#222" stroke-width="0.7" />
<line x1="33.30" y1="219.94" x2="37.50" y2="219.94" stroke="#222" stroke-width="0.7" />
<line x1="33.30" y1="218.57" x2="37.50" y2="218.57" stroke="#222" stroke-width="0.7" />
<line x1="29.60" y1="244.10" x2="37.50" y2="244.10" stroke="#222" stroke-width="0.9" />
<line x1="33.30" y1="262.80" x2="37.50" y2="262.80" stroke="#222" stroke-width="0.7" />
<line x1="33.30" y1="258.09" x2="37.50" y2="258.09" stroke="#222" stroke-width="0.7" />
<line x1="33.30" y1="254.74" x2="37.50" y2="254.74" stroke="#222" stroke-width="0.7" />
<line x1="33.30" y1="252.15" x2="37.50" y2="252.15" stroke="#222" stroke-width="0.7" />
<line x1="33.30" y1="250.03" x2="37.50" y2="250.03" stroke="#222" stroke-width="0.7" />
<line x1="33.30" y1="248.24" x2="37.50" y2="248.24" stroke="#222" stroke-width="0.7" />
<line x1="33.30" y1="246.69" x2="37.50" y2="246.69" stroke="#222" stroke-width="0.7" />
<line x1="33.30" y1="245.32" x2="37.50" y2="245.32" stroke="#222" stroke-width="0.7" />
<line x1="29.60" y1="270.85" x2="37.50" y2="270.85" stroke="#222" stroke-width="0.9" />
<line x1="33.30" y1="289.55" x2="37.50" y2="289.55" stroke="#222" stroke-width="0.7" />
<line x1="33.30" y1="284.84" x2="37.50" y2="284.84" stroke="#222" stroke-width="0.7" />
<line x1="33.30" y1="281.49" x2="37.50" y2="281.49" stroke="#222" stroke-width="0.7" />
<line x1="33.30" y1="278.90" x2="37.50" y2="278.90" stroke="#222" stroke-width="0.7" />
<line x1="33.30" y1="276.78" x2="37.50" y2="276.78" stroke="#222" stroke-width="0.7" />
<line x1="33.30" y1="274.99" x2="37.50" y2="274.99" stroke="#222" stroke-width="0.7" />
<line x1="33.30" y1="273.44" x2="37.50" y2="273.44" stroke="#222" stroke-width="0.7" />
<line x1="33.30" y1="272.07" x2="37.50" y2="272.07" stroke="#222" stroke-width="0.7" />
<line x1="29.60" y1="297.60" x2="37.50" y2="297.60" stroke="#222" stroke-width="0.9" />
<path d="M191.47,297.6 V208.50 H196.82 V297.6" fill="none" stroke="#f5a3c6" stroke-width="0.9"/>
<path d="M196.82,297.6 V220.62 H202.16 V297.6" fill="none" stroke="#f5a3c6" stroke-width="0.9"/>
<path d="M202.16,297.6 V226.86 H207.50 V297.6" fill="none" stroke="#f5a3c6" stroke-width="0.9"/>
<path d="M207.50,297.6 V229.49 H212.84 V297.6" fill="none" stroke="#f5a3c6" stroke-width="0.9"/>
<path d="M212.84,297.6 V233.58 H218.19 V297.6" fill="none" stroke="#f5a3c6" stroke-width="0.9"/>
<path d="M218.19,297.6 V240.34 H223.53 V297.6" fill="none" stroke="#f5a3c6" stroke-width="0.9"/>
<path d="M223.53,297.6 V245.16 H228.87 V297.6" fill="none" stroke="#f5a3c6" stroke-width="0.9"/>
<path d="M228.87,297.6 V253.17 H234.22 V297.6" fill="none" stroke="#f5a3c6" stroke-width="0.9"/>
<path d="M234.22,297.6 V257.88 H239.56 V297.6" fill="none" stroke="#f5a3c6" stroke-width="0.9"/>
<path d="M239.56,297.6 V262.75 H244.90 V297.6" fill="none" stroke="#f5a3c6" stroke-width="0.9"/>
<path d="M244.90,297.6 V267.05 H250.24 V297.6" fill="none" stroke="#f5a3c6" stroke-width="0.9"/>
<path d="M250.24,297.6 V267.79 H255.59 V297.6" fill="none" stroke="#f5a3c6" stroke-width="0.9"/>
<path d="M255.59,297.6 V264.22 H260.93 V297.6" fill="none" stroke="#f5a3c6" stroke-width="0.9"/>
<path d="M260.93,297.6 V271.31 H266.27 V297.6" fill="none" stroke="#f5a3c6" stroke-width="0.9"/>
<path d="M266.27,297.6 V270.28 H271.62 V297.6" fill="none" stroke="#f5a3c6" stroke-width="0.9"/>
<path d="M271.62,297.6 V283.04 H276.96 V297.6" fill="none" stroke="#f5a3c6" stroke-width="0.9"/>
<path d="M276.96,297.6 V273.54 H282.30 V297.6" fill="none" stroke="#f5a3c6" stroke-width="0.9"/>
<path d="M282.30,297.6 V285.84 H287.64 V297.6" fill="none" stroke="#f5a3c6" stroke-width="0.9"/>
<path d="M287.64,297.6 V276.99 H292.99 V297.6" fill="none" stroke="#f5a3c6" stroke-width="0.9"/>
<path d="M292.99,297.6 V287.16 H298.33 V297.6" fill="none" stroke="#f5a3c6" stroke-width="0.9"/>
<path d="M298.33,297.6 V283.87 H303.67 V297.6" fill="none" stroke="#f5a3c6" stroke-width="0.9"/>
<path d="M303.67,297.6 V286.37 H309.02 V297.6" fill="none" stroke="#f5a3c6" stroke-width="0.9"/>
<rect x="191.47" y="208.30" width="5.34" height="89.30" fill="#c2c2c2" stroke="none" stroke-width="1" />
<rect x="196.82" y="212.46" width="5.34" height="85.14" fill="#c2c2c2" stroke="none" stroke-width="1" />
<rect x="202.16" y="219.16" width="5.34" height="78.44" fill="#c2c2c2" stroke="none" stroke-width="1" />
<rect x="207.50" y="230.68" width="5.34" height="66.92" fill="#c2c2c2" stroke="none" stroke-width="1" />
<rect x="212.84" y="234.57" width="5.34" height="63.03" fill="#c2c2c2" stroke="none" stroke-width="1" />
<rect x="218.19" y="238.34" width="5.34" height="59.26" fill="#c2c2c2" stroke="none" stroke-width="1" />
<rect x="223.53" y="249.93" width="5.34" height="47.67" fill="#c2c2c2" stroke="none" stroke-width="1" />
<rect x="228.87" y="255.84" width="5.34" height="41.76" fill="#c2c2c2" stroke="none" stroke-width="1" />
<rect x="234.22" y="256.93" width="5.34" height="40.67" fill="#c2c2c2" stroke="none" stroke-width="1" />
<rect x="239.56" y="264.83" width="5.34" height="32.77" fill="#c2c2c2" stroke="none" stroke-width="1" />
<rect x="244.90" y="269.08" width="5.34" height="28.52" fill="#c2c2c2" stroke="none" stroke-width="1" />
<rect x="250.24" y="276.06" width="5.34" height="21.54" fill="#c2c2c2" stroke="none" stroke-width="1" />
<rect x="255.59" y="283.77" width="5.34" height="13.83" fill="#c2c2c2" stroke="none" stroke-width="1" />
<rect x="260.93" y="286.82" width="5.34" height="10.78" fill="#c2c2c2" stroke="none" stroke-width="1" />
<rect x="266.27" y="295.76" width="5.34" height="1.84" fill="#c2c2c2" stroke="none" stroke-width="1" />
<path d="M191.47,297.6 V208.00 H196.82 V297.6" fill="none" stroke="#f7b37a" stroke-width="0.9"/>
<path d="M196.82,297.6 V212.46 H202.16 V297.6" fill="none" stroke="#f7b37a" stroke-width="0.9"/>
<path d="M202.16,297.6 V219.16 H207.50 V297.6" fill="none" stroke="#f7b37a" stroke-width="0.9"/>
<path d="M207.50,297.6 V230.68 H212.84 V297.6" fill="none" stroke="#f7b37a" stroke-width="0.9"/>
<path d="M212.84,297.6 V234.57 H218.19 V297.6" fill="none" stroke="#f7b37a" stroke-width="0.9"/>
<path d="M218.19,297.6 V237.95 H223.53 V297.6" fill="none" stroke="#f7b37a" stroke-width="0.9"/>
<path d="M223.53,297.6 V243.55 H228.87 V297.6" fill="none" stroke="#f7b37a" stroke-width="0.9"/>
<path d="M228.87,297.6 V251.57 H234.22 V297.6" fill="none" stroke="#f7b37a" stroke-width="0.9"/>
<path d="M234.22,297.6 V256.72 H239.56 V297.6" fill="none" stroke="#f7b37a" stroke-width="0.9"/>
<path d="M239.56,297.6 V257.39 H244.90 V297.6" fill="none" stroke="#f7b37a" stroke-width="0.9"/>
<path d="M244.90,297.6 V263.38 H250.24 V297.6" fill="none" stroke="#f7b37a" stroke-width="0.9"/>
<path d="M250.24,297.6 V269.29 H255.59 V297.6" fill="none" stroke="#f7b37a" stroke-width="0.9"/>
<path d="M255.59,297.6 V275.23 H260.93 V297.6" fill="none" stroke="#f7b37a" stroke-width="0.9"/>
<path d="M260.93,297.6 V282.24 H266.27 V297.6" fill="none" stroke="#f7b37a" stroke-width="0.9"/>
<path d="M266.27,297.6 V284.25 H271.62 V297.6" fill="none" stroke="#f7b37a" stroke-width="0.9"/>
<path d="M271.62,297.6 V284.83 H276.96 V297.6" fill="none" stroke="#f7b37a" stroke-width="0.9"/>
<path d="M276.96,297.6 V295.41 H282.30 V297.6" fill="none" stroke="#f7b37a" stroke-width="0.9"/>
<clipPath id="cp12"><rect x="184.1" y="190.6" width="128.4" height="107.00000000000003"/></clipPath>
<g clip-path="url(#cp12)" stroke-linecap="round">
<path d="M194.20,209.20 C196.28,211.62 202.57,219.47 206.70,223.70 C210.83,227.93 214.89,230.75 218.98,234.60 C223.07,238.45 227.14,242.73 231.23,246.80 C235.31,250.87 239.40,255.33 243.49,259.00 C247.58,262.67 251.67,266.03 255.75,268.80 C259.84,271.57 263.93,273.57 268.02,275.60 C272.10,277.63 276.19,279.50 280.28,281.00 C284.37,282.50 288.46,283.38 292.54,284.60 C296.63,285.82 301.51,287.35 304.81,288.30 C308.11,289.25 311.08,289.97 312.34,290.30" fill="none" stroke="#e6007e" stroke-width="2.2"/>
<line x1="194.00" y1="209.00" x2="264.00" y2="297.60" stroke="#333" stroke-width="2.1" />
<path d="M194.00,208.24 L198.00,212.89 L202.00,217.48 L206.00,221.99 L210.00,226.42 L214.00,230.79 L218.00,235.08 L222.00,239.29 L226.00,243.43 L230.00,247.50 L234.00,251.49 L238.00,255.41 L242.00,259.26 L246.00,263.03 L250.00,266.73 L254.00,270.36 L258.00,273.91 L262.00,277.38 L266.00,280.79 L270.00,284.12 L274.00,287.37 L278.00,290.56 L282.00,293.66 L286.00,296.70" fill="none" stroke="#f0913a" stroke-width="2.2"/>
</g>
<rect x="184.10" y="190.60" width="128.40" height="107.00" fill="none" stroke="#333" stroke-width="1.15" />
<line x1="184.10" y1="297.60" x2="184.10" y2="304.60" stroke="#222" stroke-width="0.9" />
<line x1="192.12" y1="297.60" x2="192.12" y2="304.60" stroke="#222" stroke-width="0.9" />
<line x1="200.13" y1="297.60" x2="200.13" y2="304.60" stroke="#222" stroke-width="0.9" />
<line x1="208.14" y1="297.60" x2="208.14" y2="304.60" stroke="#222" stroke-width="0.9" />
<line x1="216.16" y1="297.60" x2="216.16" y2="304.60" stroke="#222" stroke-width="0.9" />
<line x1="224.18" y1="297.60" x2="224.18" y2="304.60" stroke="#222" stroke-width="0.9" />
<line x1="232.19" y1="297.60" x2="232.19" y2="304.60" stroke="#222" stroke-width="0.9" />
<line x1="240.20" y1="297.60" x2="240.20" y2="304.60" stroke="#222" stroke-width="0.9" />
<line x1="248.22" y1="297.60" x2="248.22" y2="304.60" stroke="#222" stroke-width="0.9" />
<line x1="256.24" y1="297.60" x2="256.24" y2="304.60" stroke="#222" stroke-width="0.9" />
<line x1="264.25" y1="297.60" x2="264.25" y2="304.60" stroke="#222" stroke-width="0.9" />
<line x1="272.26" y1="297.60" x2="272.26" y2="304.60" stroke="#222" stroke-width="0.9" />
<line x1="280.28" y1="297.60" x2="280.28" y2="304.60" stroke="#222" stroke-width="0.9" />
<line x1="288.29" y1="297.60" x2="288.29" y2="304.60" stroke="#222" stroke-width="0.9" />
<line x1="296.31" y1="297.60" x2="296.31" y2="304.60" stroke="#222" stroke-width="0.9" />
<line x1="304.32" y1="297.60" x2="304.32" y2="304.60" stroke="#222" stroke-width="0.9" />
<line x1="312.34" y1="297.60" x2="312.34" y2="304.60" stroke="#222" stroke-width="0.9" />
<text x="184.10" y="314.70" font-size="9" fill="#222" stroke="#222" stroke-width="0.12" text-anchor="middle" font-weight="normal" >0</text>
<text x="216.16" y="314.70" font-size="9" fill="#222" stroke="#222" stroke-width="0.12" text-anchor="middle" font-weight="normal" >200</text>
<text x="248.22" y="314.70" font-size="9" fill="#222" stroke="#222" stroke-width="0.12" text-anchor="middle" font-weight="normal" >400</text>
<text x="280.28" y="314.70" font-size="9" fill="#222" stroke="#222" stroke-width="0.12" text-anchor="middle" font-weight="normal" >600</text>
<text x="312.34" y="314.70" font-size="9" fill="#222" stroke="#222" stroke-width="0.12" text-anchor="middle" font-weight="normal" >800</text>
<line x1="176.20" y1="190.60" x2="184.10" y2="190.60" stroke="#222" stroke-width="0.9" />
<line x1="179.90" y1="209.30" x2="184.10" y2="209.30" stroke="#222" stroke-width="0.7" />
<line x1="179.90" y1="204.59" x2="184.10" y2="204.59" stroke="#222" stroke-width="0.7" />
<line x1="179.90" y1="201.24" x2="184.10" y2="201.24" stroke="#222" stroke-width="0.7" />
<line x1="179.90" y1="198.65" x2="184.10" y2="198.65" stroke="#222" stroke-width="0.7" />
<line x1="179.90" y1="196.53" x2="184.10" y2="196.53" stroke="#222" stroke-width="0.7" />
<line x1="179.90" y1="194.74" x2="184.10" y2="194.74" stroke="#222" stroke-width="0.7" />
<line x1="179.90" y1="193.19" x2="184.10" y2="193.19" stroke="#222" stroke-width="0.7" />
<line x1="179.90" y1="191.82" x2="184.10" y2="191.82" stroke="#222" stroke-width="0.7" />
<line x1="176.20" y1="217.35" x2="184.10" y2="217.35" stroke="#222" stroke-width="0.9" />
<line x1="179.90" y1="236.05" x2="184.10" y2="236.05" stroke="#222" stroke-width="0.7" />
<line x1="179.90" y1="231.34" x2="184.10" y2="231.34" stroke="#222" stroke-width="0.7" />
<line x1="179.90" y1="227.99" x2="184.10" y2="227.99" stroke="#222" stroke-width="0.7" />
<line x1="179.90" y1="225.40" x2="184.10" y2="225.40" stroke="#222" stroke-width="0.7" />
<line x1="179.90" y1="223.28" x2="184.10" y2="223.28" stroke="#222" stroke-width="0.7" />
<line x1="179.90" y1="221.49" x2="184.10" y2="221.49" stroke="#222" stroke-width="0.7" />
<line x1="179.90" y1="219.94" x2="184.10" y2="219.94" stroke="#222" stroke-width="0.7" />
<line x1="179.90" y1="218.57" x2="184.10" y2="218.57" stroke="#222" stroke-width="0.7" />
<line x1="176.20" y1="244.10" x2="184.10" y2="244.10" stroke="#222" stroke-width="0.9" />
<line x1="179.90" y1="262.80" x2="184.10" y2="262.80" stroke="#222" stroke-width="0.7" />
<line x1="179.90" y1="258.09" x2="184.10" y2="258.09" stroke="#222" stroke-width="0.7" />
<line x1="179.90" y1="254.74" x2="184.10" y2="254.74" stroke="#222" stroke-width="0.7" />
<line x1="179.90" y1="252.15" x2="184.10" y2="252.15" stroke="#222" stroke-width="0.7" />
<line x1="179.90" y1="250.03" x2="184.10" y2="250.03" stroke="#222" stroke-width="0.7" />
<line x1="179.90" y1="248.24" x2="184.10" y2="248.24" stroke="#222" stroke-width="0.7" />
<line x1="179.90" y1="246.69" x2="184.10" y2="246.69" stroke="#222" stroke-width="0.7" />
<line x1="179.90" y1="245.32" x2="184.10" y2="245.32" stroke="#222" stroke-width="0.7" />
<line x1="176.20" y1="270.85" x2="184.10" y2="270.85" stroke="#222" stroke-width="0.9" />
<line x1="179.90" y1="289.55" x2="184.10" y2="289.55" stroke="#222" stroke-width="0.7" />
<line x1="179.90" y1="284.84" x2="184.10" y2="284.84" stroke="#222" stroke-width="0.7" />
<line x1="179.90" y1="281.49" x2="184.10" y2="281.49" stroke="#222" stroke-width="0.7" />
<line x1="179.90" y1="278.90" x2="184.10" y2="278.90" stroke="#222" stroke-width="0.7" />
<line x1="179.90" y1="276.78" x2="184.10" y2="276.78" stroke="#222" stroke-width="0.7" />
<line x1="179.90" y1="274.99" x2="184.10" y2="274.99" stroke="#222" stroke-width="0.7" />
<line x1="179.90" y1="273.44" x2="184.10" y2="273.44" stroke="#222" stroke-width="0.7" />
<line x1="179.90" y1="272.07" x2="184.10" y2="272.07" stroke="#222" stroke-width="0.7" />
<line x1="176.20" y1="297.60" x2="184.10" y2="297.60" stroke="#222" stroke-width="0.9" />
<line x1="166.30" y1="190.60" x2="171.20" y2="190.60" stroke="#222" stroke-width="0.9" />
<line x1="166.30" y1="209.30" x2="169.60" y2="209.30" stroke="#222" stroke-width="0.7" />
<line x1="166.30" y1="204.59" x2="169.60" y2="204.59" stroke="#222" stroke-width="0.7" />
<line x1="166.30" y1="201.24" x2="169.60" y2="201.24" stroke="#222" stroke-width="0.7" />
<line x1="166.30" y1="198.65" x2="169.60" y2="198.65" stroke="#222" stroke-width="0.7" />
<line x1="166.30" y1="196.53" x2="169.60" y2="196.53" stroke="#222" stroke-width="0.7" />
<line x1="166.30" y1="194.74" x2="169.60" y2="194.74" stroke="#222" stroke-width="0.7" />
<line x1="166.30" y1="193.19" x2="169.60" y2="193.19" stroke="#222" stroke-width="0.7" />
<line x1="166.30" y1="191.82" x2="169.60" y2="191.82" stroke="#222" stroke-width="0.7" />
<line x1="166.30" y1="217.35" x2="171.20" y2="217.35" stroke="#222" stroke-width="0.9" />
<line x1="166.30" y1="236.05" x2="169.60" y2="236.05" stroke="#222" stroke-width="0.7" />
<line x1="166.30" y1="231.34" x2="169.60" y2="231.34" stroke="#222" stroke-width="0.7" />
<line x1="166.30" y1="227.99" x2="169.60" y2="227.99" stroke="#222" stroke-width="0.7" />
<line x1="166.30" y1="225.40" x2="169.60" y2="225.40" stroke="#222" stroke-width="0.7" />
<line x1="166.30" y1="223.28" x2="169.60" y2="223.28" stroke="#222" stroke-width="0.7" />
<line x1="166.30" y1="221.49" x2="169.60" y2="221.49" stroke="#222" stroke-width="0.7" />
<line x1="166.30" y1="219.94" x2="169.60" y2="219.94" stroke="#222" stroke-width="0.7" />
<line x1="166.30" y1="218.57" x2="169.60" y2="218.57" stroke="#222" stroke-width="0.7" />
<line x1="166.30" y1="244.10" x2="171.20" y2="244.10" stroke="#222" stroke-width="0.9" />
<line x1="166.30" y1="262.80" x2="169.60" y2="262.80" stroke="#222" stroke-width="0.7" />
<line x1="166.30" y1="258.09" x2="169.60" y2="258.09" stroke="#222" stroke-width="0.7" />
<line x1="166.30" y1="254.74" x2="169.60" y2="254.74" stroke="#222" stroke-width="0.7" />
<line x1="166.30" y1="252.15" x2="169.60" y2="252.15" stroke="#222" stroke-width="0.7" />
<line x1="166.30" y1="250.03" x2="169.60" y2="250.03" stroke="#222" stroke-width="0.7" />
<line x1="166.30" y1="248.24" x2="169.60" y2="248.24" stroke="#222" stroke-width="0.7" />
<line x1="166.30" y1="246.69" x2="169.60" y2="246.69" stroke="#222" stroke-width="0.7" />
<line x1="166.30" y1="245.32" x2="169.60" y2="245.32" stroke="#222" stroke-width="0.7" />
<line x1="166.30" y1="270.85" x2="171.20" y2="270.85" stroke="#222" stroke-width="0.9" />
<line x1="166.30" y1="289.55" x2="169.60" y2="289.55" stroke="#222" stroke-width="0.7" />
<line x1="166.30" y1="284.84" x2="169.60" y2="284.84" stroke="#222" stroke-width="0.7" />
<line x1="166.30" y1="281.49" x2="169.60" y2="281.49" stroke="#222" stroke-width="0.7" />
<line x1="166.30" y1="278.90" x2="169.60" y2="278.90" stroke="#222" stroke-width="0.7" />
<line x1="166.30" y1="276.78" x2="169.60" y2="276.78" stroke="#222" stroke-width="0.7" />
<line x1="166.30" y1="274.99" x2="169.60" y2="274.99" stroke="#222" stroke-width="0.7" />
<line x1="166.30" y1="273.44" x2="169.60" y2="273.44" stroke="#222" stroke-width="0.7" />
<line x1="166.30" y1="272.07" x2="169.60" y2="272.07" stroke="#222" stroke-width="0.7" />
<line x1="166.30" y1="297.60" x2="171.20" y2="297.60" stroke="#222" stroke-width="0.9" />
<text x="22.60" y="193.60" font-size="8" fill="#222" stroke="#222" stroke-width="0.12" text-anchor="end" font-weight="normal" >1</text>
<text x="14.9" y="220.65" font-size="7.6" fill="#222">10<tspan font-size="5" dy="-2.6">-1</tspan></text>
<text x="14.9" y="247.40" font-size="7.6" fill="#222">10<tspan font-size="5" dy="-2.6">-2</tspan></text>
<text x="14.9" y="274.15" font-size="7.6" fill="#222">10<tspan font-size="5" dy="-2.6">-3</tspan></text>
<text x="14.9" y="300.90" font-size="7.6" fill="#222">10<tspan font-size="5" dy="-2.6">-4</tspan></text>
<text x="11.20" y="244.90" font-size="9" fill="#222" stroke="#222" stroke-width="0.12" text-anchor="middle" font-weight="normal" transform="rotate(-90 11.2 244.9)">Fraction</text>
<text x="181.60" y="325.80" font-size="8" fill="#222" stroke="#222" stroke-width="0.12" text-anchor="middle" font-weight="normal" >DOR-MOR colocalization duration (ms)</text>
<text x="97.70" y="206.90" font-size="7.4" fill="#222" stroke="#222" stroke-width="0.12" text-anchor="start" font-weight="normal" >Rotated overlay</text>
<text x="100.10" y="213.7" font-size="7.4" fill="#222">τ<tspan font-size="4.2" dy="1.6">ind</tspan><tspan dy="-1.6">:</tspan></text>
<text x="155.50" y="213.70" font-size="7.4" fill="#222" stroke="#222" stroke-width="0.12" text-anchor="end" font-weight="normal" >58 ± 0.2 ms</text>
<text x="98.20" y="225.20" font-size="7.4" fill="#e6007e" stroke="#e6007e" stroke-width="0.12" text-anchor="start" font-weight="normal" >Control</text>
<text x="103.70" y="232.5" font-size="7.4" fill="#e6007e">τ<tspan font-size="4.2" dy="1.6">2</tspan><tspan dy="-1.6">: 260 ±  12 ms</tspan></text>
<text x="97.70" y="244.60" font-size="7.4" fill="#6a7ff0" stroke="#6a7ff0" stroke-width="0.12" text-anchor="start" font-weight="normal" >DOR(Δ22-41)</text>
<text x="104.60" y="251.6" font-size="7.4" fill="#6a7ff0" xml:space="preserve">τ<tspan font-size="4.2" dy="1.6">2</tspan><tspan dy="-1.6">:   88 ±  12 ms</tspan></text>
<text x="244.20" y="206.90" font-size="7.4" fill="#222" stroke="#222" stroke-width="0.12" text-anchor="start" font-weight="normal" >Rotated overlay</text>
<text x="246.60" y="213.7" font-size="7.4" fill="#222">τ<tspan font-size="4.2" dy="1.6">ind</tspan><tspan dy="-1.6">:</tspan></text>
<text x="302.00" y="213.70" font-size="7.4" fill="#222" stroke="#222" stroke-width="0.12" text-anchor="end" font-weight="normal" >58 ± 0.2 ms</text>
<text x="244.70" y="225.20" font-size="7.4" fill="#e6007e" stroke="#e6007e" stroke-width="0.12" text-anchor="start" font-weight="normal" >Control</text>
<text x="250.20" y="232.5" font-size="7.4" fill="#e6007e">τ<tspan font-size="4.2" dy="1.6">2</tspan><tspan dy="-1.6">: 260 ±  12 ms</tspan></text>
<text x="244.20" y="244.60" font-size="7.4" fill="#f0913a" stroke="#f0913a" stroke-width="0.12" text-anchor="start" font-weight="normal" >MOR(Δ32-61)</text>
<text x="251.10" y="251.6" font-size="7.4" fill="#f0913a" xml:space="preserve">τ<tspan font-size="4.2" dy="1.6">2</tspan><tspan dy="-1.6">:   91 ±    8 ms</tspan></text>
<g transform="translate(368.90,28.70)" fill="none" stroke-linecap="round">
<path d="M-0.40,8 C-0.50,2.7 4.39,2.7 4.29,8" stroke="#2f86d6" stroke-width="1.15"/>
<path d="M7.38,8 C7.28,2.7 12.17,2.7 12.07,8" stroke="#2f86d6" stroke-width="1.15"/>
<path d="M15.16,8 C15.06,2.7 19.95,2.7 19.85,8" stroke="#2f86d6" stroke-width="1.15"/>
<path d="M3.49,18.5 C3.39,24.0 8.28,24.0 8.18,18.5" stroke="#2f86d6" stroke-width="1.15"/>
<path d="M11.27,18.5 C11.17,24.0 16.06,24.0 15.96,18.5" stroke="#2f86d6" stroke-width="1.15"/>
<path d="M19.05,18.5 C18.95,24.0 23.84,24.0 23.74,18.5" stroke="#2f86d6" stroke-width="1.15"/>
<path d="M-7.9,0 H20.94 C23.64,0 23.74,2.3 23.64,4.3 L23.34,8" stroke="#2f86d6" stroke-width="1.15"/>
<path d="M0,18.5 C0,22.3 -5.5,21.5 -5.6,24.2 C-5.7,26 -3.6,25.9 -2,25.9 H3.6 C5.6,25.9 5.6,28.4 3.6,28.4 H-9.8" stroke="#2f86d6" stroke-width="1.15"/>
<rect x="-1.65" y="7.3" width="3.3" height="12.1" rx="1.6" fill="#6cc0f2" stroke="#3a86cf" stroke-width="0.8"/>
<rect x="-0.55" y="8.6" width="1.1" height="9.5" rx="0.5" fill="#c0eafd" stroke="none"/>
<rect x="2.24" y="7.3" width="3.3" height="12.1" rx="1.6" fill="#6cc0f2" stroke="#3a86cf" stroke-width="0.8"/>
<rect x="3.34" y="8.6" width="1.1" height="9.5" rx="0.5" fill="#c0eafd" stroke="none"/>
<rect x="6.13" y="7.3" width="3.3" height="12.1" rx="1.6" fill="#6cc0f2" stroke="#3a86cf" stroke-width="0.8"/>
<rect x="7.23" y="8.6" width="1.1" height="9.5" rx="0.5" fill="#c0eafd" stroke="none"/>
<rect x="10.02" y="7.3" width="3.3" height="12.1" rx="1.6" fill="#6cc0f2" stroke="#3a86cf" stroke-width="0.8"/>
<rect x="11.12" y="8.6" width="1.1" height="9.5" rx="0.5" fill="#c0eafd" stroke="none"/>
<rect x="13.91" y="7.3" width="3.3" height="12.1" rx="1.6" fill="#6cc0f2" stroke="#3a86cf" stroke-width="0.8"/>
<rect x="15.01" y="8.6" width="1.1" height="9.5" rx="0.5" fill="#c0eafd" stroke="none"/>
<rect x="17.80" y="7.3" width="3.3" height="12.1" rx="1.6" fill="#6cc0f2" stroke="#3a86cf" stroke-width="0.8"/>
<rect x="18.90" y="8.6" width="1.1" height="9.5" rx="0.5" fill="#c0eafd" stroke="none"/>
<rect x="21.69" y="7.3" width="3.3" height="12.1" rx="1.6" fill="#6cc0f2" stroke="#3a86cf" stroke-width="0.8"/>
<rect x="22.79" y="8.6" width="1.1" height="9.5" rx="0.5" fill="#c0eafd" stroke="none"/>
</g>
<g transform="translate(427.50,28.70) scale(-1,1)" fill="none" stroke-linecap="round">
<path d="M-0.40,8 C-0.50,2.7 4.35,2.7 4.25,8" stroke="#f8a422" stroke-width="1.15"/>
<path d="M7.30,8 C7.20,2.7 12.05,2.7 11.95,8" stroke="#f8a422" stroke-width="1.15"/>
<path d="M15.00,8 C14.90,2.7 19.75,2.7 19.65,8" stroke="#f8a422" stroke-width="1.15"/>
<path d="M3.45,18.5 C3.35,24.0 8.20,24.0 8.10,18.5" stroke="#f8a422" stroke-width="1.15"/>
<path d="M11.15,18.5 C11.05,24.0 15.90,24.0 15.80,18.5" stroke="#f8a422" stroke-width="1.15"/>
<path d="M18.85,18.5 C18.75,24.0 23.60,24.0 23.50,18.5" stroke="#f8a422" stroke-width="1.15"/>
<path d="M-7.9,0 H20.70 C23.40,0 23.50,2.3 23.40,4.3 L23.10,8" stroke="#f8a422" stroke-width="1.15"/>
<path d="M0,18.5 C0,22.3 -5.5,21.5 -5.6,24.2 C-5.7,26 -3.6,25.9 -2,25.9 H3.6 C5.6,25.9 5.6,28.4 3.6,28.4 H-9.8" stroke="#f8a422" stroke-width="1.15"/>
<rect x="-1.65" y="7.3" width="3.3" height="12.1" rx="1.6" fill="#f8982a" stroke="#e04530" stroke-width="0.75"/>
<rect x="-0.55" y="8.6" width="1.1" height="9.5" rx="0.5" fill="#fdd070" stroke="none"/>
<rect x="2.20" y="7.3" width="3.3" height="12.1" rx="1.6" fill="#f8982a" stroke="#e04530" stroke-width="0.75"/>
<rect x="3.30" y="8.6" width="1.1" height="9.5" rx="0.5" fill="#fdd070" stroke="none"/>
<rect x="6.05" y="7.3" width="3.3" height="12.1" rx="1.6" fill="#f8982a" stroke="#e04530" stroke-width="0.75"/>
<rect x="7.15" y="8.6" width="1.1" height="9.5" rx="0.5" fill="#fdd070" stroke="none"/>
<rect x="9.90" y="7.3" width="3.3" height="12.1" rx="1.6" fill="#f8982a" stroke="#e04530" stroke-width="0.75"/>
<rect x="11.00" y="8.6" width="1.1" height="9.5" rx="0.5" fill="#fdd070" stroke="none"/>
<rect x="13.75" y="7.3" width="3.3" height="12.1" rx="1.6" fill="#f8982a" stroke="#e04530" stroke-width="0.75"/>
<rect x="14.85" y="8.6" width="1.1" height="9.5" rx="0.5" fill="#fdd070" stroke="none"/>
<rect x="17.60" y="7.3" width="3.3" height="12.1" rx="1.6" fill="#f8982a" stroke="#e04530" stroke-width="0.75"/>
<rect x="18.70" y="8.6" width="1.1" height="9.5" rx="0.5" fill="#fdd070" stroke="none"/>
<rect x="21.45" y="7.3" width="3.3" height="12.1" rx="1.6" fill="#f8982a" stroke="#e04530" stroke-width="0.75"/>
<rect x="22.55" y="8.6" width="1.1" height="9.5" rx="0.5" fill="#fdd070" stroke="none"/>
</g>
<g transform="translate(368.90,70.20)" fill="none" stroke-linecap="round">
<path d="M-0.40,8 C-0.50,2.7 4.39,2.7 4.29,8" stroke="#2f86d6" stroke-width="1.15"/>
<path d="M7.38,8 C7.28,2.7 12.17,2.7 12.07,8" stroke="#2f86d6" stroke-width="1.15"/>
<path d="M15.16,8 C15.06,2.7 19.95,2.7 19.85,8" stroke="#2f86d6" stroke-width="1.15"/>
<path d="M3.49,18.5 C3.39,24.0 8.28,24.0 8.18,18.5" stroke="#2f86d6" stroke-width="1.15"/>
<path d="M11.27,18.5 C11.17,24.0 16.06,24.0 15.96,18.5" stroke="#2f86d6" stroke-width="1.15"/>
<path d="M19.05,18.5 C18.95,24.0 23.84,24.0 23.74,18.5" stroke="#2f86d6" stroke-width="1.15"/>
<path d="M-7.9,0 H20.94 C23.64,0 23.74,2.3 23.64,4.3 L23.34,8" stroke="#2f86d6" stroke-width="1.15"/>
<path d="M0,18.5 C0,22.3 -5.5,21.5 -5.6,24.2 C-5.7,26 -3.6,25.9 -2,25.9 H3.6 C5.6,25.9 5.6,28.4 3.6,28.4 H-9.8" stroke="#2f86d6" stroke-width="1.15"/>
<rect x="-1.65" y="7.3" width="3.3" height="12.1" rx="1.6" fill="#6cc0f2" stroke="#3a86cf" stroke-width="0.8"/>
<rect x="-0.55" y="8.6" width="1.1" height="9.5" rx="0.5" fill="#c0eafd" stroke="none"/>
<rect x="2.24" y="7.3" width="3.3" height="12.1" rx="1.6" fill="#6cc0f2" stroke="#3a86cf" stroke-width="0.8"/>
<rect x="3.34" y="8.6" width="1.1" height="9.5" rx="0.5" fill="#c0eafd" stroke="none"/>
<rect x="6.13" y="7.3" width="3.3" height="12.1" rx="1.6" fill="#6cc0f2" stroke="#3a86cf" stroke-width="0.8"/>
<rect x="7.23" y="8.6" width="1.1" height="9.5" rx="0.5" fill="#c0eafd" stroke="none"/>
<rect x="10.02" y="7.3" width="3.3" height="12.1" rx="1.6" fill="#6cc0f2" stroke="#3a86cf" stroke-width="0.8"/>
<rect x="11.12" y="8.6" width="1.1" height="9.5" rx="0.5" fill="#c0eafd" stroke="none"/>
<rect x="13.91" y="7.3" width="3.3" height="12.1" rx="1.6" fill="#6cc0f2" stroke="#3a86cf" stroke-width="0.8"/>
<rect x="15.01" y="8.6" width="1.1" height="9.5" rx="0.5" fill="#c0eafd" stroke="none"/>
<rect x="17.80" y="7.3" width="3.3" height="12.1" rx="1.6" fill="#6cc0f2" stroke="#3a86cf" stroke-width="0.8"/>
<rect x="18.90" y="8.6" width="1.1" height="9.5" rx="0.5" fill="#c0eafd" stroke="none"/>
<rect x="21.69" y="7.3" width="3.3" height="12.1" rx="1.6" fill="#44bb46" stroke="#2a963a" stroke-width="0.9"/>
<rect x="22.79" y="8.6" width="1.1" height="9.5" rx="0.5" fill="#8ee08c" stroke="none"/>
</g>
<g transform="translate(427.50,70.20) scale(-1,1)" fill="none" stroke-linecap="round">
<path d="M-0.40,8 C-0.50,2.7 4.35,2.7 4.25,8" stroke="#f8a422" stroke-width="1.15"/>
<path d="M7.30,8 C7.20,2.7 12.05,2.7 11.95,8" stroke="#f8a422" stroke-width="1.15"/>
<path d="M15.00,8 C14.90,2.7 19.75,2.7 19.65,8" stroke="#f8a422" stroke-width="1.15"/>
<path d="M3.45,18.5 C3.35,24.0 8.20,24.0 8.10,18.5" stroke="#f8a422" stroke-width="1.15"/>
<path d="M11.15,18.5 C11.05,24.0 15.90,24.0 15.80,18.5" stroke="#f8a422" stroke-width="1.15"/>
<path d="M18.85,18.5 C18.75,24.0 23.60,24.0 23.50,18.5" stroke="#f8a422" stroke-width="1.15"/>
<path d="M-7.9,0 H20.70 C23.40,0 23.50,2.3 23.40,4.3 L23.10,8" stroke="#f8a422" stroke-width="1.15"/>
<path d="M0,18.5 C0,22.3 -5.5,21.5 -5.6,24.2 C-5.7,26 -3.6,25.9 -2,25.9 H3.6 C5.6,25.9 5.6,28.4 3.6,28.4 H-9.8" stroke="#f8a422" stroke-width="1.15"/>
<rect x="-1.65" y="7.3" width="3.3" height="12.1" rx="1.6" fill="#f8982a" stroke="#e04530" stroke-width="0.75"/>
<rect x="-0.55" y="8.6" width="1.1" height="9.5" rx="0.5" fill="#fdd070" stroke="none"/>
<rect x="2.20" y="7.3" width="3.3" height="12.1" rx="1.6" fill="#f8982a" stroke="#e04530" stroke-width="0.75"/>
<rect x="3.30" y="8.6" width="1.1" height="9.5" rx="0.5" fill="#fdd070" stroke="none"/>
<rect x="6.05" y="7.3" width="3.3" height="12.1" rx="1.6" fill="#f8982a" stroke="#e04530" stroke-width="0.75"/>
<rect x="7.15" y="8.6" width="1.1" height="9.5" rx="0.5" fill="#fdd070" stroke="none"/>
<rect x="9.90" y="7.3" width="3.3" height="12.1" rx="1.6" fill="#f8982a" stroke="#e04530" stroke-width="0.75"/>
<rect x="11.00" y="8.6" width="1.1" height="9.5" rx="0.5" fill="#fdd070" stroke="none"/>
<rect x="13.75" y="7.3" width="3.3" height="12.1" rx="1.6" fill="#f8982a" stroke="#e04530" stroke-width="0.75"/>
<rect x="14.85" y="8.6" width="1.1" height="9.5" rx="0.5" fill="#fdd070" stroke="none"/>
<rect x="17.60" y="7.3" width="3.3" height="12.1" rx="1.6" fill="#f8982a" stroke="#e04530" stroke-width="0.75"/>
<rect x="18.70" y="8.6" width="1.1" height="9.5" rx="0.5" fill="#fdd070" stroke="none"/>
<rect x="21.45" y="7.3" width="3.3" height="12.1" rx="1.6" fill="#f8982a" stroke="#e04530" stroke-width="0.75"/>
<rect x="22.55" y="8.6" width="1.1" height="9.5" rx="0.5" fill="#fdd070" stroke="none"/>
</g>
<g transform="translate(368.90,111.00)" fill="none" stroke-linecap="round">
<path d="M-0.40,8 C-0.50,2.7 4.39,2.7 4.29,8" stroke="#2f86d6" stroke-width="1.15"/>
<path d="M7.38,8 C7.28,2.7 12.17,2.7 12.07,8" stroke="#2f86d6" stroke-width="1.15"/>
<path d="M15.16,8 C15.06,2.7 19.95,2.7 19.85,8" stroke="#2f86d6" stroke-width="1.15"/>
<path d="M3.49,18.5 C3.39,24.0 8.28,24.0 8.18,18.5" stroke="#2f86d6" stroke-width="1.15"/>
<path d="M11.27,18.5 C11.17,24.0 16.06,24.0 15.96,18.5" stroke="#2f86d6" stroke-width="1.15"/>
<path d="M19.05,18.5 C18.95,24.0 23.84,24.0 23.74,18.5" stroke="#2f86d6" stroke-width="1.15"/>
<path d="M-7.9,0 H20.94 C23.64,0 23.74,2.3 23.64,4.3 L23.34,8" stroke="#2f86d6" stroke-width="1.15"/>
<path d="M0,18.5 C0,22.3 -5.5,21.5 -5.6,24.2 C-5.7,26 -3.6,25.9 -2,25.9 H3.6 C5.6,25.9 5.6,28.4 3.6,28.4 H-9.8" stroke="#2f86d6" stroke-width="1.15"/>
<rect x="-1.65" y="7.3" width="3.3" height="12.1" rx="1.6" fill="#6cc0f2" stroke="#3a86cf" stroke-width="0.8"/>
<rect x="-0.55" y="8.6" width="1.1" height="9.5" rx="0.5" fill="#c0eafd" stroke="none"/>
<rect x="2.24" y="7.3" width="3.3" height="12.1" rx="1.6" fill="#6cc0f2" stroke="#3a86cf" stroke-width="0.8"/>
<rect x="3.34" y="8.6" width="1.1" height="9.5" rx="0.5" fill="#c0eafd" stroke="none"/>
<rect x="6.13" y="7.3" width="3.3" height="12.1" rx="1.6" fill="#6cc0f2" stroke="#3a86cf" stroke-width="0.8"/>
<rect x="7.23" y="8.6" width="1.1" height="9.5" rx="0.5" fill="#c0eafd" stroke="none"/>
<rect x="10.02" y="7.3" width="3.3" height="12.1" rx="1.6" fill="#44bb46" stroke="#2a963a" stroke-width="0.9"/>
<rect x="11.12" y="8.6" width="1.1" height="9.5" rx="0.5" fill="#8ee08c" stroke="none"/>
<rect x="13.91" y="7.3" width="3.3" height="12.1" rx="1.6" fill="#6cc0f2" stroke="#3a86cf" stroke-width="0.8"/>
<rect x="15.01" y="8.6" width="1.1" height="9.5" rx="0.5" fill="#c0eafd" stroke="none"/>
<rect x="17.80" y="7.3" width="3.3" height="12.1" rx="1.6" fill="#6cc0f2" stroke="#3a86cf" stroke-width="0.8"/>
<rect x="18.90" y="8.6" width="1.1" height="9.5" rx="0.5" fill="#c0eafd" stroke="none"/>
<rect x="21.69" y="7.3" width="3.3" height="12.1" rx="1.6" fill="#6cc0f2" stroke="#3a86cf" stroke-width="0.8"/>
<rect x="22.79" y="8.6" width="1.1" height="9.5" rx="0.5" fill="#c0eafd" stroke="none"/>
</g>
<g transform="translate(427.50,111.00) scale(-1,1)" fill="none" stroke-linecap="round">
<path d="M-0.40,8 C-0.50,2.7 4.35,2.7 4.25,8" stroke="#f8a422" stroke-width="1.15"/>
<path d="M7.30,8 C7.20,2.7 12.05,2.7 11.95,8" stroke="#f8a422" stroke-width="1.15"/>
<path d="M15.00,8 C14.90,2.7 19.75,2.7 19.65,8" stroke="#f8a422" stroke-width="1.15"/>
<path d="M3.45,18.5 C3.35,24.0 8.20,24.0 8.10,18.5" stroke="#f8a422" stroke-width="1.15"/>
<path d="M11.15,18.5 C11.05,24.0 15.90,24.0 15.80,18.5" stroke="#f8a422" stroke-width="1.15"/>
<path d="M18.85,18.5 C18.75,24.0 23.60,24.0 23.50,18.5" stroke="#f8a422" stroke-width="1.15"/>
<path d="M-7.9,0 H20.70 C23.40,0 23.50,2.3 23.40,4.3 L23.10,8" stroke="#f8a422" stroke-width="1.15"/>
<path d="M0,18.5 C0,22.3 -5.5,21.5 -5.6,24.2 C-5.7,26 -3.6,25.9 -2,25.9 H3.6 C5.6,25.9 5.6,28.4 3.6,28.4 H-9.8" stroke="#f8a422" stroke-width="1.15"/>
<rect x="-1.65" y="7.3" width="3.3" height="12.1" rx="1.6" fill="#f8982a" stroke="#e04530" stroke-width="0.75"/>
<rect x="-0.55" y="8.6" width="1.1" height="9.5" rx="0.5" fill="#fdd070" stroke="none"/>
<rect x="2.20" y="7.3" width="3.3" height="12.1" rx="1.6" fill="#f8982a" stroke="#e04530" stroke-width="0.75"/>
<rect x="3.30" y="8.6" width="1.1" height="9.5" rx="0.5" fill="#fdd070" stroke="none"/>
<rect x="6.05" y="7.3" width="3.3" height="12.1" rx="1.6" fill="#f8982a" stroke="#e04530" stroke-width="0.75"/>
<rect x="7.15" y="8.6" width="1.1" height="9.5" rx="0.5" fill="#fdd070" stroke="none"/>
<rect x="9.90" y="7.3" width="3.3" height="12.1" rx="1.6" fill="#f8982a" stroke="#e04530" stroke-width="0.75"/>
<rect x="11.00" y="8.6" width="1.1" height="9.5" rx="0.5" fill="#fdd070" stroke="none"/>
<rect x="13.75" y="7.3" width="3.3" height="12.1" rx="1.6" fill="#f8982a" stroke="#e04530" stroke-width="0.75"/>
<rect x="14.85" y="8.6" width="1.1" height="9.5" rx="0.5" fill="#fdd070" stroke="none"/>
<rect x="17.60" y="7.3" width="3.3" height="12.1" rx="1.6" fill="#f8982a" stroke="#e04530" stroke-width="0.75"/>
<rect x="18.70" y="8.6" width="1.1" height="9.5" rx="0.5" fill="#fdd070" stroke="none"/>
<rect x="21.45" y="7.3" width="3.3" height="12.1" rx="1.6" fill="#f8982a" stroke="#e04530" stroke-width="0.75"/>
<rect x="22.55" y="8.6" width="1.1" height="9.5" rx="0.5" fill="#fdd070" stroke="none"/>
</g>
<g transform="translate(368.90,151.90)" fill="none" stroke-linecap="round">
<path d="M-0.40,8 C-0.50,2.7 4.39,2.7 4.29,8" stroke="#2f86d6" stroke-width="1.15"/>
<path d="M7.38,8 C7.28,2.7 12.17,2.7 12.07,8" stroke="#2f86d6" stroke-width="1.15"/>
<path d="M15.16,8 C15.06,2.7 19.95,2.7 19.85,8" stroke="#2f86d6" stroke-width="1.15"/>
<path d="M3.49,18.5 C3.39,24.0 8.28,24.0 8.18,18.5" stroke="#2f86d6" stroke-width="1.15"/>
<path d="M11.27,18.5 C11.17,24.0 16.06,24.0 15.96,18.5" stroke="#2f86d6" stroke-width="1.15"/>
<path d="M19.05,18.5 C18.95,24.0 23.84,24.0 23.74,18.5" stroke="#2f86d6" stroke-width="1.15"/>
<path d="M-7.9,0 H20.94 C23.64,0 23.74,2.3 23.64,4.3 L23.34,8" stroke="#2f86d6" stroke-width="1.15"/>
<path d="M0,18.5 C0,22.3 -5.5,21.5 -5.6,24.2 C-5.7,26 -3.6,25.9 -2,25.9 H3.6 C5.6,25.9 5.6,28.4 3.6,28.4 H-9.8" stroke="#2f86d6" stroke-width="1.15"/>
<rect x="-1.65" y="7.3" width="3.3" height="12.1" rx="1.6" fill="#6cc0f2" stroke="#3a86cf" stroke-width="0.8"/>
<rect x="-0.55" y="8.6" width="1.1" height="9.5" rx="0.5" fill="#c0eafd" stroke="none"/>
<rect x="2.24" y="7.3" width="3.3" height="12.1" rx="1.6" fill="#44bb46" stroke="#2a963a" stroke-width="0.9"/>
<rect x="3.34" y="8.6" width="1.1" height="9.5" rx="0.5" fill="#8ee08c" stroke="none"/>
<rect x="6.13" y="7.3" width="3.3" height="12.1" rx="1.6" fill="#6cc0f2" stroke="#3a86cf" stroke-width="0.8"/>
<rect x="7.23" y="8.6" width="1.1" height="9.5" rx="0.5" fill="#c0eafd" stroke="none"/>
<rect x="10.02" y="7.3" width="3.3" height="12.1" rx="1.6" fill="#6cc0f2" stroke="#3a86cf" stroke-width="0.8"/>
<rect x="11.12" y="8.6" width="1.1" height="9.5" rx="0.5" fill="#c0eafd" stroke="none"/>
<rect x="13.91" y="7.3" width="3.3" height="12.1" rx="1.6" fill="#6cc0f2" stroke="#3a86cf" stroke-width="0.8"/>
<rect x="15.01" y="8.6" width="1.1" height="9.5" rx="0.5" fill="#c0eafd" stroke="none"/>
<rect x="17.80" y="7.3" width="3.3" height="12.1" rx="1.6" fill="#6cc0f2" stroke="#3a86cf" stroke-width="0.8"/>
<rect x="18.90" y="8.6" width="1.1" height="9.5" rx="0.5" fill="#c0eafd" stroke="none"/>
<rect x="21.69" y="7.3" width="3.3" height="12.1" rx="1.6" fill="#6cc0f2" stroke="#3a86cf" stroke-width="0.8"/>
<rect x="22.79" y="8.6" width="1.1" height="9.5" rx="0.5" fill="#c0eafd" stroke="none"/>
</g>
<g transform="translate(427.50,151.90) scale(-1,1)" fill="none" stroke-linecap="round">
<path d="M-0.40,8 C-0.50,2.7 4.35,2.7 4.25,8" stroke="#f8a422" stroke-width="1.15"/>
<path d="M7.30,8 C7.20,2.7 12.05,2.7 11.95,8" stroke="#f8a422" stroke-width="1.15"/>
<path d="M15.00,8 C14.90,2.7 19.75,2.7 19.65,8" stroke="#f8a422" stroke-width="1.15"/>
<path d="M3.45,18.5 C3.35,24.0 8.20,24.0 8.10,18.5" stroke="#f8a422" stroke-width="1.15"/>
<path d="M11.15,18.5 C11.05,24.0 15.90,24.0 15.80,18.5" stroke="#f8a422" stroke-width="1.15"/>
<path d="M18.85,18.5 C18.75,24.0 23.60,24.0 23.50,18.5" stroke="#f8a422" stroke-width="1.15"/>
<path d="M-7.9,0 H20.70 C23.40,0 23.50,2.3 23.40,4.3 L23.10,8" stroke="#f8a422" stroke-width="1.15"/>
<path d="M0,18.5 C0,22.3 -5.5,21.5 -5.6,24.2 C-5.7,26 -3.6,25.9 -2,25.9 H3.6 C5.6,25.9 5.6,28.4 3.6,28.4 H-9.8" stroke="#f8a422" stroke-width="1.15"/>
<rect x="-1.65" y="7.3" width="3.3" height="12.1" rx="1.6" fill="#f8982a" stroke="#e04530" stroke-width="0.75"/>
<rect x="-0.55" y="8.6" width="1.1" height="9.5" rx="0.5" fill="#fdd070" stroke="none"/>
<rect x="2.20" y="7.3" width="3.3" height="12.1" rx="1.6" fill="#f8982a" stroke="#e04530" stroke-width="0.75"/>
<rect x="3.30" y="8.6" width="1.1" height="9.5" rx="0.5" fill="#fdd070" stroke="none"/>
<rect x="6.05" y="7.3" width="3.3" height="12.1" rx="1.6" fill="#f8982a" stroke="#e04530" stroke-width="0.75"/>
<rect x="7.15" y="8.6" width="1.1" height="9.5" rx="0.5" fill="#fdd070" stroke="none"/>
<rect x="9.90" y="7.3" width="3.3" height="12.1" rx="1.6" fill="#f8982a" stroke="#e04530" stroke-width="0.75"/>
<rect x="11.00" y="8.6" width="1.1" height="9.5" rx="0.5" fill="#fdd070" stroke="none"/>
<rect x="13.75" y="7.3" width="3.3" height="12.1" rx="1.6" fill="#f8982a" stroke="#e04530" stroke-width="0.75"/>
<rect x="14.85" y="8.6" width="1.1" height="9.5" rx="0.5" fill="#fdd070" stroke="none"/>
<rect x="17.60" y="7.3" width="3.3" height="12.1" rx="1.6" fill="#f8982a" stroke="#e04530" stroke-width="0.75"/>
<rect x="18.70" y="8.6" width="1.1" height="9.5" rx="0.5" fill="#fdd070" stroke="none"/>
<rect x="21.45" y="7.3" width="3.3" height="12.1" rx="1.6" fill="#f8982a" stroke="#e04530" stroke-width="0.75"/>
<rect x="22.55" y="8.6" width="1.1" height="9.5" rx="0.5" fill="#fdd070" stroke="none"/>
</g>
<g transform="translate(368.90,192.80)" fill="none" stroke-linecap="round">
<path d="M-0.40,8 C-0.50,2.7 4.39,2.7 4.29,8" stroke="#2f86d6" stroke-width="1.15"/>
<path d="M7.38,8 C7.28,2.7 12.17,2.7 12.07,8" stroke="#2f86d6" stroke-width="1.15"/>
<path d="M15.16,8 C15.06,2.7 19.95,2.7 19.85,8" stroke="#2f86d6" stroke-width="1.15"/>
<path d="M3.49,18.5 C3.39,24.0 8.28,24.0 8.18,18.5" stroke="#2f86d6" stroke-width="1.15"/>
<path d="M11.27,18.5 C11.17,24.0 16.06,24.0 15.96,18.5" stroke="#2f86d6" stroke-width="1.15"/>
<path d="M19.05,18.5 C18.95,24.0 23.84,24.0 23.74,18.5" stroke="#2f86d6" stroke-width="1.15"/>
<path d="M-7.9,0 H20.94 C23.64,0 23.74,2.3 23.64,4.3 L23.34,8" stroke="#3cc040" stroke-width="1.15"/>
<path d="M0,18.5 C0,22.3 -5.5,21.5 -5.6,24.2 C-5.7,26 -3.6,25.9 -2,25.9 H3.6 C5.6,25.9 5.6,28.4 3.6,28.4 H-9.8" stroke="#2f86d6" stroke-width="1.15"/>
<rect x="-1.65" y="7.3" width="3.3" height="12.1" rx="1.6" fill="#6cc0f2" stroke="#3a86cf" stroke-width="0.8"/>
<rect x="-0.55" y="8.6" width="1.1" height="9.5" rx="0.5" fill="#c0eafd" stroke="none"/>
<rect x="2.24" y="7.3" width="3.3" height="12.1" rx="1.6" fill="#6cc0f2" stroke="#3a86cf" stroke-width="0.8"/>
<rect x="3.34" y="8.6" width="1.1" height="9.5" rx="0.5" fill="#c0eafd" stroke="none"/>
<rect x="6.13" y="7.3" width="3.3" height="12.1" rx="1.6" fill="#6cc0f2" stroke="#3a86cf" stroke-width="0.8"/>
<rect x="7.23" y="8.6" width="1.1" height="9.5" rx="0.5" fill="#c0eafd" stroke="none"/>
<rect x="10.02" y="7.3" width="3.3" height="12.1" rx="1.6" fill="#6cc0f2" stroke="#3a86cf" stroke-width="0.8"/>
<rect x="11.12" y="8.6" width="1.1" height="9.5" rx="0.5" fill="#c0eafd" stroke="none"/>
<rect x="13.91" y="7.3" width="3.3" height="12.1" rx="1.6" fill="#6cc0f2" stroke="#3a86cf" stroke-width="0.8"/>
<rect x="15.01" y="8.6" width="1.1" height="9.5" rx="0.5" fill="#c0eafd" stroke="none"/>
<rect x="17.80" y="7.3" width="3.3" height="12.1" rx="1.6" fill="#6cc0f2" stroke="#3a86cf" stroke-width="0.8"/>
<rect x="18.90" y="8.6" width="1.1" height="9.5" rx="0.5" fill="#c0eafd" stroke="none"/>
<rect x="21.69" y="7.3" width="3.3" height="12.1" rx="1.6" fill="#6cc0f2" stroke="#3a86cf" stroke-width="0.8"/>
<rect x="22.79" y="8.6" width="1.1" height="9.5" rx="0.5" fill="#c0eafd" stroke="none"/>
</g>
<g transform="translate(427.50,192.80) scale(-1,1)" fill="none" stroke-linecap="round">
<path d="M-0.40,8 C-0.50,2.7 4.35,2.7 4.25,8" stroke="#f8a422" stroke-width="1.15"/>
<path d="M7.30,8 C7.20,2.7 12.05,2.7 11.95,8" stroke="#f8a422" stroke-width="1.15"/>
<path d="M15.00,8 C14.90,2.7 19.75,2.7 19.65,8" stroke="#f8a422" stroke-width="1.15"/>
<path d="M3.45,18.5 C3.35,24.0 8.20,24.0 8.10,18.5" stroke="#f8a422" stroke-width="1.15"/>
<path d="M11.15,18.5 C11.05,24.0 15.90,24.0 15.80,18.5" stroke="#f8a422" stroke-width="1.15"/>
<path d="M18.85,18.5 C18.75,24.0 23.60,24.0 23.50,18.5" stroke="#f8a422" stroke-width="1.15"/>
<path d="M-7.9,0 H20.70 C23.40,0 23.50,2.3 23.40,4.3 L23.10,8" stroke="#f8a422" stroke-width="1.15"/>
<path d="M0,18.5 C0,22.3 -5.5,21.5 -5.6,24.2 C-5.7,26 -3.6,25.9 -2,25.9 H3.6 C5.6,25.9 5.6,28.4 3.6,28.4 H-9.8" stroke="#f8a422" stroke-width="1.15"/>
<rect x="-1.65" y="7.3" width="3.3" height="12.1" rx="1.6" fill="#f8982a" stroke="#e04530" stroke-width="0.75"/>
<rect x="-0.55" y="8.6" width="1.1" height="9.5" rx="0.5" fill="#fdd070" stroke="none"/>
<rect x="2.20" y="7.3" width="3.3" height="12.1" rx="1.6" fill="#f8982a" stroke="#e04530" stroke-width="0.75"/>
<rect x="3.30" y="8.6" width="1.1" height="9.5" rx="0.5" fill="#fdd070" stroke="none"/>
<rect x="6.05" y="7.3" width="3.3" height="12.1" rx="1.6" fill="#f8982a" stroke="#e04530" stroke-width="0.75"/>
<rect x="7.15" y="8.6" width="1.1" height="9.5" rx="0.5" fill="#fdd070" stroke="none"/>
<rect x="9.90" y="7.3" width="3.3" height="12.1" rx="1.6" fill="#f8982a" stroke="#e04530" stroke-width="0.75"/>
<rect x="11.00" y="8.6" width="1.1" height="9.5" rx="0.5" fill="#fdd070" stroke="none"/>
<rect x="13.75" y="7.3" width="3.3" height="12.1" rx="1.6" fill="#f8982a" stroke="#e04530" stroke-width="0.75"/>
<rect x="14.85" y="8.6" width="1.1" height="9.5" rx="0.5" fill="#fdd070" stroke="none"/>
<rect x="17.60" y="7.3" width="3.3" height="12.1" rx="1.6" fill="#f8982a" stroke="#e04530" stroke-width="0.75"/>
<rect x="18.70" y="8.6" width="1.1" height="9.5" rx="0.5" fill="#fdd070" stroke="none"/>
<rect x="21.45" y="7.3" width="3.3" height="12.1" rx="1.6" fill="#f8982a" stroke="#e04530" stroke-width="0.75"/>
<rect x="22.55" y="8.6" width="1.1" height="9.5" rx="0.5" fill="#fdd070" stroke="none"/>
</g>
<g transform="translate(368.90,243.20)" fill="none" stroke-linecap="round">
<path d="M-0.40,8 C-0.50,2.7 4.39,2.7 4.29,8" stroke="#2f86d6" stroke-width="1.15"/>
<path d="M7.38,8 C7.28,2.7 12.17,2.7 12.07,8" stroke="#2f86d6" stroke-width="1.15"/>
<path d="M15.16,8 C15.06,2.7 19.95,2.7 19.85,8" stroke="#2f86d6" stroke-width="1.15"/>
<path d="M3.49,18.5 C3.39,24.0 8.28,24.0 8.18,18.5" stroke="#2f86d6" stroke-width="1.15"/>
<path d="M11.27,18.5 C11.17,24.0 16.06,24.0 15.96,18.5" stroke="#2f86d6" stroke-width="1.15"/>
<path d="M19.05,18.5 C18.95,24.0 23.84,24.0 23.74,18.5" stroke="#2f86d6" stroke-width="1.15"/>
<path d="M-7.9,0 H20.94 C23.64,0 23.74,2.3 23.64,4.3 L23.34,8" stroke="#3cc040" stroke-width="1.15"/>
<path d="M0,18.5 C0,22.3 -5.5,21.5 -5.6,24.2 C-5.7,26 -3.6,25.9 -2,25.9 H3.6 C5.6,25.9 5.6,28.4 3.6,28.4 H-9.8" stroke="#2f86d6" stroke-width="1.15"/>
<rect x="-1.65" y="7.3" width="3.3" height="12.1" rx="1.6" fill="#6cc0f2" stroke="#3a86cf" stroke-width="0.8"/>
<rect x="-0.55" y="8.6" width="1.1" height="9.5" rx="0.5" fill="#c0eafd" stroke="none"/>
<rect x="2.24" y="7.3" width="3.3" height="12.1" rx="1.6" fill="#6cc0f2" stroke="#3a86cf" stroke-width="0.8"/>
<rect x="3.34" y="8.6" width="1.1" height="9.5" rx="0.5" fill="#c0eafd" stroke="none"/>
<rect x="6.13" y="7.3" width="3.3" height="12.1" rx="1.6" fill="#6cc0f2" stroke="#3a86cf" stroke-width="0.8"/>
<rect x="7.23" y="8.6" width="1.1" height="9.5" rx="0.5" fill="#c0eafd" stroke="none"/>
<rect x="10.02" y="7.3" width="3.3" height="12.1" rx="1.6" fill="#44bb46" stroke="#2a963a" stroke-width="0.9"/>
<rect x="11.12" y="8.6" width="1.1" height="9.5" rx="0.5" fill="#8ee08c" stroke="none"/>
<rect x="13.91" y="7.3" width="3.3" height="12.1" rx="1.6" fill="#6cc0f2" stroke="#3a86cf" stroke-width="0.8"/>
<rect x="15.01" y="8.6" width="1.1" height="9.5" rx="0.5" fill="#c0eafd" stroke="none"/>
<rect x="17.80" y="7.3" width="3.3" height="12.1" rx="1.6" fill="#6cc0f2" stroke="#3a86cf" stroke-width="0.8"/>
<rect x="18.90" y="8.6" width="1.1" height="9.5" rx="0.5" fill="#c0eafd" stroke="none"/>
<rect x="21.69" y="7.3" width="3.3" height="12.1" rx="1.6" fill="#44bb46" stroke="#2a963a" stroke-width="0.9"/>
<rect x="22.79" y="8.6" width="1.1" height="9.5" rx="0.5" fill="#8ee08c" stroke="none"/>
</g>
<g transform="translate(427.50,243.20) scale(-1,1)" fill="none" stroke-linecap="round">
<path d="M-0.40,8 C-0.50,2.7 4.35,2.7 4.25,8" stroke="#f8a422" stroke-width="1.15"/>
<path d="M7.30,8 C7.20,2.7 12.05,2.7 11.95,8" stroke="#f8a422" stroke-width="1.15"/>
<path d="M15.00,8 C14.90,2.7 19.75,2.7 19.65,8" stroke="#f8a422" stroke-width="1.15"/>
<path d="M3.45,18.5 C3.35,24.0 8.20,24.0 8.10,18.5" stroke="#f8a422" stroke-width="1.15"/>
<path d="M11.15,18.5 C11.05,24.0 15.90,24.0 15.80,18.5" stroke="#f8a422" stroke-width="1.15"/>
<path d="M18.85,18.5 C18.75,24.0 23.60,24.0 23.50,18.5" stroke="#f8a422" stroke-width="1.15"/>
<path d="M-7.9,0 H20.70 C23.40,0 23.50,2.3 23.40,4.3 L23.10,8" stroke="#f8a422" stroke-width="1.15"/>
<path d="M0,18.5 C0,22.3 -5.5,21.5 -5.6,24.2 C-5.7,26 -3.6,25.9 -2,25.9 H3.6 C5.6,25.9 5.6,28.4 3.6,28.4 H-9.8" stroke="#f8a422" stroke-width="1.15"/>
<rect x="-1.65" y="7.3" width="3.3" height="12.1" rx="1.6" fill="#f8982a" stroke="#e04530" stroke-width="0.75"/>
<rect x="-0.55" y="8.6" width="1.1" height="9.5" rx="0.5" fill="#fdd070" stroke="none"/>
<rect x="2.20" y="7.3" width="3.3" height="12.1" rx="1.6" fill="#f8982a" stroke="#e04530" stroke-width="0.75"/>
<rect x="3.30" y="8.6" width="1.1" height="9.5" rx="0.5" fill="#fdd070" stroke="none"/>
<rect x="6.05" y="7.3" width="3.3" height="12.1" rx="1.6" fill="#f8982a" stroke="#e04530" stroke-width="0.75"/>
<rect x="7.15" y="8.6" width="1.1" height="9.5" rx="0.5" fill="#fdd070" stroke="none"/>
<rect x="9.90" y="7.3" width="3.3" height="12.1" rx="1.6" fill="#f8982a" stroke="#e04530" stroke-width="0.75"/>
<rect x="11.00" y="8.6" width="1.1" height="9.5" rx="0.5" fill="#fdd070" stroke="none"/>
<rect x="13.75" y="7.3" width="3.3" height="12.1" rx="1.6" fill="#f8982a" stroke="#e04530" stroke-width="0.75"/>
<rect x="14.85" y="8.6" width="1.1" height="9.5" rx="0.5" fill="#fdd070" stroke="none"/>
<rect x="17.60" y="7.3" width="3.3" height="12.1" rx="1.6" fill="#f8982a" stroke="#e04530" stroke-width="0.75"/>
<rect x="18.70" y="8.6" width="1.1" height="9.5" rx="0.5" fill="#fdd070" stroke="none"/>
<rect x="21.45" y="7.3" width="3.3" height="12.1" rx="1.6" fill="#f8982a" stroke="#e04530" stroke-width="0.75"/>
<rect x="22.55" y="8.6" width="1.1" height="9.5" rx="0.5" fill="#fdd070" stroke="none"/>
</g>
<text x="382.80" y="26.20" font-size="6.6" xml:space="preserve"><tspan fill="#3434f0" stroke="#3434f0" stroke-width="0.12">DOR</tspan><tspan fill="#f0287c" stroke="#f0287c" stroke-width="0.12">-MOR</tspan></text>
<text x="369.30" y="68.40" font-size="6.6" xml:space="preserve"><tspan fill="#3434f0" stroke="#3434f0" stroke-width="0.12">DOR</tspan><tspan fill="#3aa845" stroke="#3aa845" stroke-width="0.12">(TM1</tspan><tspan fill="#3aa845" stroke="#3aa845" stroke-width="0.12" font-size="4" dy="-2.6">KOR</tspan><tspan dy="2.6"></tspan><tspan fill="#3aa845" stroke="#3aa845" stroke-width="0.12">)</tspan><tspan fill="#f0287c" stroke="#f0287c" stroke-width="0.12">-MOR</tspan></text>
<text x="369.30" y="108.80" font-size="6.6" xml:space="preserve"><tspan fill="#3434f0" stroke="#3434f0" stroke-width="0.12">DOR</tspan><tspan fill="#3aa845" stroke="#3aa845" stroke-width="0.12">(TM4</tspan><tspan fill="#3aa845" stroke="#3aa845" stroke-width="0.12" font-size="4" dy="-2.6">KOR</tspan><tspan dy="2.6"></tspan><tspan fill="#3aa845" stroke="#3aa845" stroke-width="0.12">)</tspan><tspan fill="#f0287c" stroke="#f0287c" stroke-width="0.12">-MOR</tspan></text>
<text x="369.30" y="149.30" font-size="6.6" xml:space="preserve"><tspan fill="#3434f0" stroke="#3434f0" stroke-width="0.12">DOR</tspan><tspan fill="#3aa845" stroke="#3aa845" stroke-width="0.12">(TM6</tspan><tspan fill="#3aa845" stroke="#3aa845" stroke-width="0.12" font-size="4" dy="-2.6">KOR</tspan><tspan dy="2.6"></tspan><tspan fill="#3aa845" stroke="#3aa845" stroke-width="0.12">)</tspan><tspan fill="#f0287c" stroke="#f0287c" stroke-width="0.12">-MOR</tspan></text>
<text x="367.40" y="189.90" font-size="6.6" xml:space="preserve"><tspan fill="#3434f0" stroke="#3434f0" stroke-width="0.12">DOR</tspan><tspan fill="#3aa845" stroke="#3aa845" stroke-width="0.12">(Nterm</tspan><tspan fill="#3aa845" stroke="#3aa845" stroke-width="0.12" font-size="4" dy="-2.6">KOR</tspan><tspan dy="2.6"></tspan><tspan fill="#3aa845" stroke="#3aa845" stroke-width="0.12">)</tspan><tspan fill="#f0287c" stroke="#f0287c" stroke-width="0.12">-MOR</tspan></text>
<text x="369.60" y="232.20" font-size="6.6" xml:space="preserve"><tspan fill="#3434f0" stroke="#3434f0" stroke-width="0.12">DOR</tspan><tspan fill="#3aa845" stroke="#3aa845" stroke-width="0.12">((Nterm+TM1</tspan></text>
<text x="374.20" y="240.30" font-size="6.6" xml:space="preserve"><tspan fill="#3aa845" stroke="#3aa845" stroke-width="0.12">+TM4)</tspan><tspan fill="#3aa845" stroke="#3aa845" stroke-width="0.12" font-size="4" dy="-2.6">KOR</tspan><tspan dy="2.6"></tspan><tspan fill="#3aa845" stroke="#3aa845" stroke-width="0.12">)</tspan><tspan fill="#f0287c" stroke="#f0287c" stroke-width="0.12">-MOR</tspan></text>
<text x="353.70" y="30.00" font-size="6.3" fill="#222" stroke="#222" stroke-width="0.12" text-anchor="start" font-weight="normal" >N-</text>
<text x="351.40" y="58.50" font-size="6.3" fill="#222" stroke="#222" stroke-width="0.12" text-anchor="start" font-weight="normal" >C-</text>
<g transform="translate(537.50,28.70)" fill="none" stroke-linecap="round">
<path d="M-0.40,8 C-0.50,2.7 4.39,2.7 4.29,8" stroke="#f8a422" stroke-width="1.15"/>
<path d="M7.38,8 C7.28,2.7 12.17,2.7 12.07,8" stroke="#f8a422" stroke-width="1.15"/>
<path d="M15.16,8 C15.06,2.7 19.95,2.7 19.85,8" stroke="#f8a422" stroke-width="1.15"/>
<path d="M3.49,18.5 C3.39,24.0 8.28,24.0 8.18,18.5" stroke="#f8a422" stroke-width="1.15"/>
<path d="M11.27,18.5 C11.17,24.0 16.06,24.0 15.96,18.5" stroke="#f8a422" stroke-width="1.15"/>
<path d="M19.05,18.5 C18.95,24.0 23.84,24.0 23.74,18.5" stroke="#f8a422" stroke-width="1.15"/>
<path d="M-7.9,0 H20.94 C23.64,0 23.74,2.3 23.64,4.3 L23.34,8" stroke="#f8a422" stroke-width="1.15"/>
<path d="M0,18.5 C0,22.3 -5.5,21.5 -5.6,24.2 C-5.7,26 -3.6,25.9 -2,25.9 H3.6 C5.6,25.9 5.6,28.4 3.6,28.4 H-9.8" stroke="#f8a422" stroke-width="1.15"/>
<rect x="-1.65" y="7.3" width="3.3" height="12.1" rx="1.6" fill="#f8982a" stroke="#e04530" stroke-width="0.75"/>
<rect x="-0.55" y="8.6" width="1.1" height="9.5" rx="0.5" fill="#fdd070" stroke="none"/>
<rect x="2.24" y="7.3" width="3.3" height="12.1" rx="1.6" fill="#f8982a" stroke="#e04530" stroke-width="0.75"/>
<rect x="3.34" y="8.6" width="1.1" height="9.5" rx="0.5" fill="#fdd070" stroke="none"/>
<rect x="6.13" y="7.3" width="3.3" height="12.1" rx="1.6" fill="#f8982a" stroke="#e04530" stroke-width="0.75"/>
<rect x="7.23" y="8.6" width="1.1" height="9.5" rx="0.5" fill="#fdd070" stroke="none"/>
<rect x="10.02" y="7.3" width="3.3" height="12.1" rx="1.6" fill="#f8982a" stroke="#e04530" stroke-width="0.75"/>
<rect x="11.12" y="8.6" width="1.1" height="9.5" rx="0.5" fill="#fdd070" stroke="none"/>
<rect x="13.91" y="7.3" width="3.3" height="12.1" rx="1.6" fill="#f8982a" stroke="#e04530" stroke-width="0.75"/>
<rect x="15.01" y="8.6" width="1.1" height="9.5" rx="0.5" fill="#fdd070" stroke="none"/>
<rect x="17.80" y="7.3" width="3.3" height="12.1" rx="1.6" fill="#f8982a" stroke="#e04530" stroke-width="0.75"/>
<rect x="18.90" y="8.6" width="1.1" height="9.5" rx="0.5" fill="#fdd070" stroke="none"/>
<rect x="21.69" y="7.3" width="3.3" height="12.1" rx="1.6" fill="#f8982a" stroke="#e04530" stroke-width="0.75"/>
<rect x="22.79" y="8.6" width="1.1" height="9.5" rx="0.5" fill="#fdd070" stroke="none"/>
</g>
<g transform="translate(596.60,28.70) scale(-1,1)" fill="none" stroke-linecap="round">
<path d="M-0.40,8 C-0.50,2.7 4.35,2.7 4.25,8" stroke="#2f86d6" stroke-width="1.15"/>
<path d="M7.30,8 C7.20,2.7 12.05,2.7 11.95,8" stroke="#2f86d6" stroke-width="1.15"/>
<path d="M15.00,8 C14.90,2.7 19.75,2.7 19.65,8" stroke="#2f86d6" stroke-width="1.15"/>
<path d="M3.45,18.5 C3.35,24.0 8.20,24.0 8.10,18.5" stroke="#2f86d6" stroke-width="1.15"/>
<path d="M11.15,18.5 C11.05,24.0 15.90,24.0 15.80,18.5" stroke="#2f86d6" stroke-width="1.15"/>
<path d="M18.85,18.5 C18.75,24.0 23.60,24.0 23.50,18.5" stroke="#2f86d6" stroke-width="1.15"/>
<path d="M-7.9,0 H20.70 C23.40,0 23.50,2.3 23.40,4.3 L23.10,8" stroke="#2f86d6" stroke-width="1.15"/>
<path d="M0,18.5 C0,22.3 -5.5,21.5 -5.6,24.2 C-5.7,26 -3.6,25.9 -2,25.9 H3.6 C5.6,25.9 5.6,28.4 3.6,28.4 H-9.8" stroke="#2f86d6" stroke-width="1.15"/>
<rect x="-1.65" y="7.3" width="3.3" height="12.1" rx="1.6" fill="#6cc0f2" stroke="#3a86cf" stroke-width="0.8"/>
<rect x="-0.55" y="8.6" width="1.1" height="9.5" rx="0.5" fill="#c0eafd" stroke="none"/>
<rect x="2.20" y="7.3" width="3.3" height="12.1" rx="1.6" fill="#6cc0f2" stroke="#3a86cf" stroke-width="0.8"/>
<rect x="3.30" y="8.6" width="1.1" height="9.5" rx="0.5" fill="#c0eafd" stroke="none"/>
<rect x="6.05" y="7.3" width="3.3" height="12.1" rx="1.6" fill="#6cc0f2" stroke="#3a86cf" stroke-width="0.8"/>
<rect x="7.15" y="8.6" width="1.1" height="9.5" rx="0.5" fill="#c0eafd" stroke="none"/>
<rect x="9.90" y="7.3" width="3.3" height="12.1" rx="1.6" fill="#6cc0f2" stroke="#3a86cf" stroke-width="0.8"/>
<rect x="11.00" y="8.6" width="1.1" height="9.5" rx="0.5" fill="#c0eafd" stroke="none"/>
<rect x="13.75" y="7.3" width="3.3" height="12.1" rx="1.6" fill="#6cc0f2" stroke="#3a86cf" stroke-width="0.8"/>
<rect x="14.85" y="8.6" width="1.1" height="9.5" rx="0.5" fill="#c0eafd" stroke="none"/>
<rect x="17.60" y="7.3" width="3.3" height="12.1" rx="1.6" fill="#6cc0f2" stroke="#3a86cf" stroke-width="0.8"/>
<rect x="18.70" y="8.6" width="1.1" height="9.5" rx="0.5" fill="#c0eafd" stroke="none"/>
<rect x="21.45" y="7.3" width="3.3" height="12.1" rx="1.6" fill="#6cc0f2" stroke="#3a86cf" stroke-width="0.8"/>
<rect x="22.55" y="8.6" width="1.1" height="9.5" rx="0.5" fill="#c0eafd" stroke="none"/>
</g>
<g transform="translate(537.50,70.40)" fill="none" stroke-linecap="round">
<path d="M-0.40,8 C-0.50,2.7 4.39,2.7 4.29,8" stroke="#f8a422" stroke-width="1.15"/>
<path d="M7.38,8 C7.28,2.7 12.17,2.7 12.07,8" stroke="#f8a422" stroke-width="1.15"/>
<path d="M15.16,8 C15.06,2.7 19.95,2.7 19.85,8" stroke="#f8a422" stroke-width="1.15"/>
<path d="M3.49,18.5 C3.39,24.0 8.28,24.0 8.18,18.5" stroke="#f8a422" stroke-width="1.15"/>
<path d="M11.27,18.5 C11.17,24.0 16.06,24.0 15.96,18.5" stroke="#f8a422" stroke-width="1.15"/>
<path d="M19.05,18.5 C18.95,24.0 23.84,24.0 23.74,18.5" stroke="#f8a422" stroke-width="1.15"/>
<path d="M-7.9,0 H20.94 C23.64,0 23.74,2.3 23.64,4.3 L23.34,8" stroke="#3cc040" stroke-width="1.15"/>
<path d="M0,18.5 C0,22.3 -5.5,21.5 -5.6,24.2 C-5.7,26 -3.6,25.9 -2,25.9 H3.6 C5.6,25.9 5.6,28.4 3.6,28.4 H-9.8" stroke="#f8a422" stroke-width="1.15"/>
<rect x="-1.65" y="7.3" width="3.3" height="12.1" rx="1.6" fill="#f8982a" stroke="#e04530" stroke-width="0.75"/>
<rect x="-0.55" y="8.6" width="1.1" height="9.5" rx="0.5" fill="#fdd070" stroke="none"/>
<rect x="2.24" y="7.3" width="3.3" height="12.1" rx="1.6" fill="#f8982a" stroke="#e04530" stroke-width="0.75"/>
<rect x="3.34" y="8.6" width="1.1" height="9.5" rx="0.5" fill="#fdd070" stroke="none"/>
<rect x="6.13" y="7.3" width="3.3" height="12.1" rx="1.6" fill="#f8982a" stroke="#e04530" stroke-width="0.75"/>
<rect x="7.23" y="8.6" width="1.1" height="9.5" rx="0.5" fill="#fdd070" stroke="none"/>
<rect x="10.02" y="7.3" width="3.3" height="12.1" rx="1.6" fill="#f8982a" stroke="#e04530" stroke-width="0.75"/>
<rect x="11.12" y="8.6" width="1.1" height="9.5" rx="0.5" fill="#fdd070" stroke="none"/>
<rect x="13.91" y="7.3" width="3.3" height="12.1" rx="1.6" fill="#f8982a" stroke="#e04530" stroke-width="0.75"/>
<rect x="15.01" y="8.6" width="1.1" height="9.5" rx="0.5" fill="#fdd070" stroke="none"/>
<rect x="17.80" y="7.3" width="3.3" height="12.1" rx="1.6" fill="#f8982a" stroke="#e04530" stroke-width="0.75"/>
<rect x="18.90" y="8.6" width="1.1" height="9.5" rx="0.5" fill="#fdd070" stroke="none"/>
<rect x="21.69" y="7.3" width="3.3" height="12.1" rx="1.6" fill="#f8982a" stroke="#e04530" stroke-width="0.75"/>
<rect x="22.79" y="8.6" width="1.1" height="9.5" rx="0.5" fill="#fdd070" stroke="none"/>
</g>
<g transform="translate(596.60,70.40) scale(-1,1)" fill="none" stroke-linecap="round">
<path d="M-0.40,8 C-0.50,2.7 4.35,2.7 4.25,8" stroke="#2f86d6" stroke-width="1.15"/>
<path d="M7.30,8 C7.20,2.7 12.05,2.7 11.95,8" stroke="#2f86d6" stroke-width="1.15"/>
<path d="M15.00,8 C14.90,2.7 19.75,2.7 19.65,8" stroke="#2f86d6" stroke-width="1.15"/>
<path d="M3.45,18.5 C3.35,24.0 8.20,24.0 8.10,18.5" stroke="#2f86d6" stroke-width="1.15"/>
<path d="M11.15,18.5 C11.05,24.0 15.90,24.0 15.80,18.5" stroke="#2f86d6" stroke-width="1.15"/>
<path d="M18.85,18.5 C18.75,24.0 23.60,24.0 23.50,18.5" stroke="#2f86d6" stroke-width="1.15"/>
<path d="M-7.9,0 H20.70 C23.40,0 23.50,2.3 23.40,4.3 L23.10,8" stroke="#2f86d6" stroke-width="1.15"/>
<path d="M0,18.5 C0,22.3 -5.5,21.5 -5.6,24.2 C-5.7,26 -3.6,25.9 -2,25.9 H3.6 C5.6,25.9 5.6,28.4 3.6,28.4 H-9.8" stroke="#2f86d6" stroke-width="1.15"/>
<rect x="-1.65" y="7.3" width="3.3" height="12.1" rx="1.6" fill="#6cc0f2" stroke="#3a86cf" stroke-width="0.8"/>
<rect x="-0.55" y="8.6" width="1.1" height="9.5" rx="0.5" fill="#c0eafd" stroke="none"/>
<rect x="2.20" y="7.3" width="3.3" height="12.1" rx="1.6" fill="#6cc0f2" stroke="#3a86cf" stroke-width="0.8"/>
<rect x="3.30" y="8.6" width="1.1" height="9.5" rx="0.5" fill="#c0eafd" stroke="none"/>
<rect x="6.05" y="7.3" width="3.3" height="12.1" rx="1.6" fill="#6cc0f2" stroke="#3a86cf" stroke-width="0.8"/>
<rect x="7.15" y="8.6" width="1.1" height="9.5" rx="0.5" fill="#c0eafd" stroke="none"/>
<rect x="9.90" y="7.3" width="3.3" height="12.1" rx="1.6" fill="#6cc0f2" stroke="#3a86cf" stroke-width="0.8"/>
<rect x="11.00" y="8.6" width="1.1" height="9.5" rx="0.5" fill="#c0eafd" stroke="none"/>
<rect x="13.75" y="7.3" width="3.3" height="12.1" rx="1.6" fill="#6cc0f2" stroke="#3a86cf" stroke-width="0.8"/>
<rect x="14.85" y="8.6" width="1.1" height="9.5" rx="0.5" fill="#c0eafd" stroke="none"/>
<rect x="17.60" y="7.3" width="3.3" height="12.1" rx="1.6" fill="#6cc0f2" stroke="#3a86cf" stroke-width="0.8"/>
<rect x="18.70" y="8.6" width="1.1" height="9.5" rx="0.5" fill="#c0eafd" stroke="none"/>
<rect x="21.45" y="7.3" width="3.3" height="12.1" rx="1.6" fill="#6cc0f2" stroke="#3a86cf" stroke-width="0.8"/>
<rect x="22.55" y="8.6" width="1.1" height="9.5" rx="0.5" fill="#c0eafd" stroke="none"/>
</g>
<text x="549.80" y="26.60" font-size="6.6" xml:space="preserve"><tspan fill="#f0287c" stroke="#f0287c" stroke-width="0.12">MOR</tspan><tspan fill="#3434f0" stroke="#3434f0" stroke-width="0.12">-DOR</tspan></text>
<text x="534.20" y="68.40" font-size="6.6" xml:space="preserve"><tspan fill="#f0287c" stroke="#f0287c" stroke-width="0.12">MOR</tspan><tspan fill="#3aa845" stroke="#3aa845" stroke-width="0.12">(Nterm</tspan><tspan fill="#3aa845" stroke="#3aa845" stroke-width="0.12" font-size="4" dy="-2.6">KOR</tspan><tspan dy="2.6"></tspan><tspan fill="#3aa845" stroke="#3aa845" stroke-width="0.12">)</tspan><tspan fill="#3434f0" stroke="#3434f0" stroke-width="0.12">-DOR</tspan></text>
<text x="522.00" y="30.00" font-size="6.3" fill="#222" stroke="#222" stroke-width="0.12" text-anchor="start" font-weight="normal" >N-</text>
<text x="521.40" y="58.00" font-size="6.3" fill="#222" stroke="#222" stroke-width="0.12" text-anchor="start" font-weight="normal" >C-</text>
<line x1="450.00" y1="21.80" x2="450.00" y2="264.40" stroke="#dedede" stroke-width="0.7" />
<line x1="471.10" y1="21.80" x2="471.10" y2="264.40" stroke="#dedede" stroke-width="0.7" />
<line x1="492.20" y1="21.80" x2="492.20" y2="264.40" stroke="#dedede" stroke-width="0.7" />
<line x1="455.30" y1="41.90" x2="459.50" y2="41.90" stroke="#6a6a6a" stroke-width="0.7" />
<line x1="471.20" y1="41.90" x2="479.80" y2="41.90" stroke="#6a6a6a" stroke-width="0.7" />
<line x1="455.30" y1="36.73" x2="455.30" y2="47.07" stroke="#6a6a6a" stroke-width="0.7" />
<line x1="479.80" y1="36.73" x2="479.80" y2="47.07" stroke="#6a6a6a" stroke-width="0.7" />
<rect x="459.50" y="30.40" width="11.70" height="23.00" fill="#fff" stroke="#858585" stroke-width="0.7" />
<rect x="466.40" y="30.40" width="2.00" height="23.00" fill="#f53d9e" stroke="none" stroke-width="1" />
<circle cx="467.87" cy="47.04" r="0.7" fill="none" stroke="#888" stroke-width="0.4"/>
<circle cx="468.78" cy="45.80" r="0.7" fill="none" stroke="#888" stroke-width="0.4"/>
<circle cx="464.31" cy="47.60" r="0.7" fill="none" stroke="#888" stroke-width="0.4"/>
<circle cx="460.08" cy="42.53" r="0.7" fill="none" stroke="#888" stroke-width="0.4"/>
<circle cx="469.20" cy="33.31" r="0.7" fill="none" stroke="#888" stroke-width="0.4"/>
<circle cx="467.25" cy="50.13" r="0.7" fill="none" stroke="#888" stroke-width="0.4"/>
<circle cx="468.69" cy="38.28" r="0.7" fill="none" stroke="#888" stroke-width="0.4"/>
<circle cx="463.52" cy="46.99" r="0.7" fill="none" stroke="#888" stroke-width="0.4"/>
<circle cx="465.66" cy="35.98" r="0.7" fill="none" stroke="#888" stroke-width="0.4"/>
<circle cx="467.55" cy="38.99" r="0.7" fill="none" stroke="#888" stroke-width="0.4"/>
<circle cx="456.74" cy="36.41" r="0.7" fill="none" stroke="#888" stroke-width="0.4"/>
<circle cx="456.60" cy="50.57" r="0.7" fill="none" stroke="#888" stroke-width="0.4"/>
<circle cx="455.75" cy="47.94" r="0.7" fill="none" stroke="#888" stroke-width="0.4"/>
<circle cx="461.55" cy="35.45" r="0.7" fill="none" stroke="#888" stroke-width="0.4"/>
<circle cx="463.47" cy="32.51" r="0.7" fill="none" stroke="#888" stroke-width="0.4"/>
<circle cx="462.99" cy="39.91" r="0.7" fill="none" stroke="#888" stroke-width="0.4"/>
<circle cx="465.71" cy="36.06" r="0.7" fill="none" stroke="#888" stroke-width="0.4"/>
<circle cx="459.10" cy="48.38" r="0.7" fill="none" stroke="#888" stroke-width="0.4"/>
<circle cx="467.69" cy="40.92" r="0.7" fill="none" stroke="#888" stroke-width="0.4"/>
<circle cx="463.14" cy="44.52" r="0.7" fill="none" stroke="#888" stroke-width="0.4"/>
<circle cx="466.76" cy="42.93" r="0.7" fill="none" stroke="#888" stroke-width="0.4"/>
<circle cx="463.50" cy="50.80" r="0.7" fill="none" stroke="#888" stroke-width="0.4"/>
<circle cx="459.31" cy="47.12" r="0.7" fill="none" stroke="#888" stroke-width="0.4"/>
<circle cx="460.32" cy="42.04" r="0.7" fill="none" stroke="#888" stroke-width="0.4"/>
<circle cx="463.36" cy="42.44" r="0.7" fill="none" stroke="#888" stroke-width="0.4"/>
<circle cx="470.67" cy="38.92" r="0.7" fill="none" stroke="#888" stroke-width="0.4"/>
<circle cx="467.45" cy="41.59" r="0.7" fill="none" stroke="#888" stroke-width="0.4"/>
<circle cx="461.46" cy="46.87" r="0.7" fill="none" stroke="#888" stroke-width="0.4"/>
<circle cx="468.54" cy="44.78" r="0.7" fill="none" stroke="#888" stroke-width="0.4"/>
<circle cx="456.14" cy="37.20" r="0.7" fill="none" stroke="#888" stroke-width="0.4"/>
<circle cx="470.51" cy="45.98" r="0.7" fill="none" stroke="#888" stroke-width="0.4"/>
<circle cx="456.78" cy="46.97" r="0.7" fill="none" stroke="#888" stroke-width="0.4"/>
<circle cx="459.62" cy="43.47" r="0.7" fill="none" stroke="#888" stroke-width="0.4"/>
<circle cx="464.40" cy="35.20" r="0.7" fill="none" stroke="#888" stroke-width="0.4"/>
<circle cx="460.84" cy="35.53" r="0.7" fill="none" stroke="#888" stroke-width="0.4"/>
<circle cx="456.85" cy="46.72" r="0.7" fill="none" stroke="#888" stroke-width="0.4"/>
<circle cx="464.23" cy="33.36" r="0.7" fill="none" stroke="#888" stroke-width="0.4"/>
<circle cx="462.65" cy="43.71" r="0.7" fill="none" stroke="#888" stroke-width="0.4"/>
<circle cx="465.60" cy="44.20" r="0.7" fill="none" stroke="#888" stroke-width="0.4"/>
<circle cx="468.65" cy="44.77" r="0.7" fill="none" stroke="#888" stroke-width="0.4"/>
<rect x="466.40" y="30.40" width="2.00" height="23.00" fill="#f53d9e" stroke="none" stroke-width="1" />
<line x1="457.30" y1="82.20" x2="457.30" y2="82.20" stroke="#6a6a6a" stroke-width="0.7" />
<line x1="465.40" y1="82.20" x2="465.40" y2="82.20" stroke="#6a6a6a" stroke-width="0.7" />
<rect x="457.30" y="70.60" width="8.10" height="23.20" fill="#fff" stroke="#858585" stroke-width="0.7" />
<rect x="460.20" y="70.60" width="2.00" height="23.20" fill="#f53d9e" stroke="none" stroke-width="1" />
<circle cx="459.06" cy="91.04" r="0.7" fill="none" stroke="#888" stroke-width="0.4"/>
<circle cx="459.85" cy="90.26" r="0.7" fill="none" stroke="#888" stroke-width="0.4"/>
<circle cx="456.35" cy="76.78" r="0.7" fill="none" stroke="#888" stroke-width="0.4"/>
<circle cx="461.79" cy="76.91" r="0.7" fill="none" stroke="#888" stroke-width="0.4"/>
<circle cx="459.70" cy="76.74" r="0.7" fill="none" stroke="#888" stroke-width="0.4"/>
<circle cx="465.49" cy="91.15" r="0.7" fill="none" stroke="#888" stroke-width="0.4"/>
<circle cx="462.70" cy="74.39" r="0.7" fill="none" stroke="#888" stroke-width="0.4"/>
<circle cx="461.72" cy="87.33" r="0.7" fill="none" stroke="#888" stroke-width="0.4"/>
<circle cx="458.50" cy="78.89" r="0.7" fill="none" stroke="#888" stroke-width="0.4"/>
<circle cx="463.47" cy="84.81" r="0.7" fill="none" stroke="#888" stroke-width="0.4"/>
<circle cx="459.10" cy="80.87" r="0.7" fill="none" stroke="#888" stroke-width="0.4"/>
<circle cx="462.06" cy="78.48" r="0.7" fill="none" stroke="#888" stroke-width="0.4"/>
<circle cx="465.30" cy="85.62" r="0.7" fill="none" stroke="#888" stroke-width="0.4"/>
<circle cx="464.57" cy="85.33" r="0.7" fill="none" stroke="#888" stroke-width="0.4"/>
<circle cx="463.16" cy="79.91" r="0.7" fill="none" stroke="#888" stroke-width="0.4"/>
<circle cx="458.75" cy="80.74" r="0.7" fill="none" stroke="#888" stroke-width="0.4"/>
<circle cx="457.03" cy="72.82" r="0.7" fill="none" stroke="#888" stroke-width="0.4"/>
<circle cx="463.46" cy="81.52" r="0.7" fill="none" stroke="#888" stroke-width="0.4"/>
<circle cx="458.05" cy="73.12" r="0.7" fill="none" stroke="#888" stroke-width="0.4"/>
<circle cx="460.22" cy="86.09" r="0.7" fill="none" stroke="#888" stroke-width="0.4"/>
<circle cx="464.86" cy="75.61" r="0.7" fill="none" stroke="#888" stroke-width="0.4"/>
<circle cx="461.09" cy="73.36" r="0.7" fill="none" stroke="#888" stroke-width="0.4"/>
<circle cx="461.33" cy="75.56" r="0.7" fill="none" stroke="#888" stroke-width="0.4"/>
<circle cx="461.89" cy="85.71" r="0.7" fill="none" stroke="#888" stroke-width="0.4"/>
<circle cx="460.45" cy="85.10" r="0.7" fill="none" stroke="#888" stroke-width="0.4"/>
<circle cx="457.92" cy="81.73" r="0.7" fill="none" stroke="#888" stroke-width="0.4"/>
<circle cx="454.49" cy="78.61" r="0.7" fill="none" stroke="#888" stroke-width="0.4"/>
<circle cx="460.91" cy="89.23" r="0.7" fill="none" stroke="#888" stroke-width="0.4"/>
<circle cx="459.14" cy="72.81" r="0.7" fill="none" stroke="#888" stroke-width="0.4"/>
<circle cx="456.44" cy="74.30" r="0.7" fill="none" stroke="#888" stroke-width="0.4"/>
<circle cx="463.66" cy="90.68" r="0.7" fill="none" stroke="#888" stroke-width="0.4"/>
<circle cx="461.42" cy="89.34" r="0.7" fill="none" stroke="#888" stroke-width="0.4"/>
<circle cx="461.68" cy="86.11" r="0.7" fill="none" stroke="#888" stroke-width="0.4"/>
<circle cx="459.52" cy="87.42" r="0.7" fill="none" stroke="#888" stroke-width="0.4"/>
<circle cx="462.86" cy="75.37" r="0.7" fill="none" stroke="#888" stroke-width="0.4"/>
<circle cx="455.71" cy="76.10" r="0.7" fill="none" stroke="#888" stroke-width="0.4"/>
<circle cx="462.20" cy="89.66" r="0.7" fill="none" stroke="#888" stroke-width="0.4"/>
<circle cx="455.93" cy="81.18" r="0.7" fill="none" stroke="#888" stroke-width="0.4"/>
<circle cx="462.16" cy="90.89" r="0.7" fill="none" stroke="#888" stroke-width="0.4"/>
<circle cx="459.76" cy="89.51" r="0.7" fill="none" stroke="#888" stroke-width="0.4"/>
<rect x="460.20" y="70.70" width="2.00" height="23.00" fill="#f53d9e" stroke="none" stroke-width="1" />
<line x1="457.30" y1="122.30" x2="457.30" y2="122.30" stroke="#6a6a6a" stroke-width="0.7" />
<line x1="465.40" y1="122.30" x2="465.40" y2="122.30" stroke="#6a6a6a" stroke-width="0.7" />
<rect x="457.30" y="110.70" width="8.10" height="23.20" fill="#fff" stroke="#858585" stroke-width="0.7" />
<rect x="460.20" y="110.70" width="2.00" height="23.20" fill="#f53d9e" stroke="none" stroke-width="1" />
<circle cx="463.42" cy="116.02" r="0.7" fill="none" stroke="#888" stroke-width="0.4"/>
<circle cx="464.31" cy="126.34" r="0.7" fill="none" stroke="#888" stroke-width="0.4"/>
<circle cx="458.46" cy="124.53" r="0.7" fill="none" stroke="#888" stroke-width="0.4"/>
<circle cx="458.93" cy="123.56" r="0.7" fill="none" stroke="#888" stroke-width="0.4"/>
<circle cx="464.54" cy="124.57" r="0.7" fill="none" stroke="#888" stroke-width="0.4"/>
<circle cx="461.88" cy="122.67" r="0.7" fill="none" stroke="#888" stroke-width="0.4"/>
<circle cx="464.54" cy="119.97" r="0.7" fill="none" stroke="#888" stroke-width="0.4"/>
<circle cx="457.36" cy="117.11" r="0.7" fill="none" stroke="#888" stroke-width="0.4"/>
<circle cx="464.79" cy="125.91" r="0.7" fill="none" stroke="#888" stroke-width="0.4"/>
<circle cx="464.94" cy="124.38" r="0.7" fill="none" stroke="#888" stroke-width="0.4"/>
<circle cx="457.42" cy="117.02" r="0.7" fill="none" stroke="#888" stroke-width="0.4"/>
<circle cx="462.17" cy="122.88" r="0.7" fill="none" stroke="#888" stroke-width="0.4"/>
<circle cx="463.50" cy="124.77" r="0.7" fill="none" stroke="#888" stroke-width="0.4"/>
<circle cx="464.29" cy="125.54" r="0.7" fill="none" stroke="#888" stroke-width="0.4"/>
<circle cx="460.88" cy="119.13" r="0.7" fill="none" stroke="#888" stroke-width="0.4"/>
<circle cx="462.22" cy="125.86" r="0.7" fill="none" stroke="#888" stroke-width="0.4"/>
<circle cx="455.69" cy="120.99" r="0.7" fill="none" stroke="#888" stroke-width="0.4"/>
<circle cx="460.53" cy="120.37" r="0.7" fill="none" stroke="#888" stroke-width="0.4"/>
<circle cx="462.42" cy="116.74" r="0.7" fill="none" stroke="#888" stroke-width="0.4"/>
<circle cx="459.82" cy="123.99" r="0.7" fill="none" stroke="#888" stroke-width="0.4"/>
<circle cx="458.60" cy="123.40" r="0.7" fill="none" stroke="#888" stroke-width="0.4"/>
<circle cx="458.41" cy="121.17" r="0.7" fill="none" stroke="#888" stroke-width="0.4"/>
<circle cx="457.66" cy="128.48" r="0.7" fill="none" stroke="#888" stroke-width="0.4"/>
<circle cx="455.15" cy="124.95" r="0.7" fill="none" stroke="#888" stroke-width="0.4"/>
<circle cx="453.42" cy="121.30" r="0.7" fill="none" stroke="#888" stroke-width="0.4"/>
<circle cx="462.26" cy="124.69" r="0.7" fill="none" stroke="#888" stroke-width="0.4"/>
<circle cx="464.05" cy="120.22" r="0.7" fill="none" stroke="#888" stroke-width="0.4"/>
<circle cx="457.37" cy="126.92" r="0.7" fill="none" stroke="#888" stroke-width="0.4"/>
<circle cx="455.26" cy="124.64" r="0.7" fill="none" stroke="#888" stroke-width="0.4"/>
<circle cx="456.77" cy="122.94" r="0.7" fill="none" stroke="#888" stroke-width="0.4"/>
<circle cx="464.61" cy="120.37" r="0.7" fill="none" stroke="#888" stroke-width="0.4"/>
<circle cx="460.23" cy="130.62" r="0.7" fill="none" stroke="#888" stroke-width="0.4"/>
<circle cx="462.65" cy="114.18" r="0.7" fill="none" stroke="#888" stroke-width="0.4"/>
<circle cx="460.19" cy="129.10" r="0.7" fill="none" stroke="#888" stroke-width="0.4"/>
<circle cx="463.12" cy="117.64" r="0.7" fill="none" stroke="#888" stroke-width="0.4"/>
<circle cx="458.79" cy="125.81" r="0.7" fill="none" stroke="#888" stroke-width="0.4"/>
<circle cx="462.86" cy="121.31" r="0.7" fill="none" stroke="#888" stroke-width="0.4"/>
<circle cx="460.06" cy="125.39" r="0.7" fill="none" stroke="#888" stroke-width="0.4"/>
<circle cx="461.44" cy="115.52" r="0.7" fill="none" stroke="#888" stroke-width="0.4"/>
<circle cx="464.02" cy="121.91" r="0.7" fill="none" stroke="#888" stroke-width="0.4"/>
<rect x="460.20" y="110.80" width="2.00" height="23.00" fill="#f53d9e" stroke="none" stroke-width="1" />
<line x1="458.00" y1="163.40" x2="458.00" y2="163.40" stroke="#6a6a6a" stroke-width="0.7" />
<line x1="468.00" y1="163.40" x2="472.00" y2="163.40" stroke="#6a6a6a" stroke-width="0.7" />
<rect x="458.00" y="151.80" width="10.00" height="23.20" fill="#fff" stroke="#858585" stroke-width="0.7" />
<rect x="462.30" y="151.80" width="2.00" height="23.20" fill="#f53d9e" stroke="none" stroke-width="1" />
<circle cx="466.71" cy="167.56" r="0.7" fill="none" stroke="#888" stroke-width="0.4"/>
<circle cx="461.94" cy="167.86" r="0.7" fill="none" stroke="#888" stroke-width="0.4"/>
<circle cx="462.84" cy="165.35" r="0.7" fill="none" stroke="#888" stroke-width="0.4"/>
<circle cx="464.01" cy="156.22" r="0.7" fill="none" stroke="#888" stroke-width="0.4"/>
<circle cx="456.54" cy="170.47" r="0.7" fill="none" stroke="#888" stroke-width="0.4"/>
<circle cx="467.95" cy="156.16" r="0.7" fill="none" stroke="#888" stroke-width="0.4"/>
<circle cx="464.87" cy="169.63" r="0.7" fill="none" stroke="#888" stroke-width="0.4"/>
<circle cx="463.85" cy="154.37" r="0.7" fill="none" stroke="#888" stroke-width="0.4"/>
<circle cx="462.78" cy="156.33" r="0.7" fill="none" stroke="#888" stroke-width="0.4"/>
<circle cx="464.31" cy="163.85" r="0.7" fill="none" stroke="#888" stroke-width="0.4"/>
<circle cx="464.10" cy="167.83" r="0.7" fill="none" stroke="#888" stroke-width="0.4"/>
<circle cx="466.11" cy="167.64" r="0.7" fill="none" stroke="#888" stroke-width="0.4"/>
<circle cx="456.68" cy="164.78" r="0.7" fill="none" stroke="#888" stroke-width="0.4"/>
<circle cx="465.94" cy="169.61" r="0.7" fill="none" stroke="#888" stroke-width="0.4"/>
<circle cx="462.53" cy="164.93" r="0.7" fill="none" stroke="#888" stroke-width="0.4"/>
<circle cx="466.19" cy="171.87" r="0.7" fill="none" stroke="#888" stroke-width="0.4"/>
<circle cx="459.29" cy="158.67" r="0.7" fill="none" stroke="#888" stroke-width="0.4"/>
<circle cx="459.55" cy="159.25" r="0.7" fill="none" stroke="#888" stroke-width="0.4"/>
<circle cx="464.90" cy="170.75" r="0.7" fill="none" stroke="#888" stroke-width="0.4"/>
<circle cx="473.51" cy="170.90" r="0.7" fill="none" stroke="#888" stroke-width="0.4"/>
<circle cx="456.56" cy="159.53" r="0.7" fill="none" stroke="#888" stroke-width="0.4"/>
<circle cx="461.42" cy="163.05" r="0.7" fill="none" stroke="#888" stroke-width="0.4"/>
<circle cx="464.95" cy="158.70" r="0.7" fill="none" stroke="#888" stroke-width="0.4"/>
<circle cx="465.68" cy="155.80" r="0.7" fill="none" stroke="#888" stroke-width="0.4"/>
<circle cx="464.02" cy="169.35" r="0.7" fill="none" stroke="#888" stroke-width="0.4"/>
<circle cx="461.66" cy="167.19" r="0.7" fill="none" stroke="#888" stroke-width="0.4"/>
<circle cx="466.24" cy="172.82" r="0.7" fill="none" stroke="#888" stroke-width="0.4"/>
<circle cx="464.88" cy="172.65" r="0.7" fill="none" stroke="#888" stroke-width="0.4"/>
<circle cx="456.40" cy="167.36" r="0.7" fill="none" stroke="#888" stroke-width="0.4"/>
<circle cx="459.94" cy="159.44" r="0.7" fill="none" stroke="#888" stroke-width="0.4"/>
<circle cx="457.57" cy="161.39" r="0.7" fill="none" stroke="#888" stroke-width="0.4"/>
<circle cx="460.90" cy="169.46" r="0.7" fill="none" stroke="#888" stroke-width="0.4"/>
<circle cx="456.49" cy="155.13" r="0.7" fill="none" stroke="#888" stroke-width="0.4"/>
<circle cx="464.70" cy="162.35" r="0.7" fill="none" stroke="#888" stroke-width="0.4"/>
<circle cx="467.83" cy="170.48" r="0.7" fill="none" stroke="#888" stroke-width="0.4"/>
<circle cx="464.03" cy="164.23" r="0.7" fill="none" stroke="#888" stroke-width="0.4"/>
<circle cx="457.58" cy="158.25" r="0.7" fill="none" stroke="#888" stroke-width="0.4"/>
<circle cx="460.36" cy="161.24" r="0.7" fill="none" stroke="#888" stroke-width="0.4"/>
<circle cx="457.62" cy="161.12" r="0.7" fill="none" stroke="#888" stroke-width="0.4"/>
<circle cx="459.87" cy="162.97" r="0.7" fill="none" stroke="#888" stroke-width="0.4"/>
<rect x="462.30" y="151.90" width="2.00" height="23.00" fill="#f53d9e" stroke="none" stroke-width="1" />
<line x1="451.40" y1="204.20" x2="451.40" y2="204.20" stroke="#6a6a6a" stroke-width="0.7" />
<line x1="462.00" y1="204.20" x2="462.00" y2="204.20" stroke="#6a6a6a" stroke-width="0.7" />
<rect x="451.40" y="192.60" width="10.60" height="23.20" fill="#fff" stroke="#858585" stroke-width="0.7" />
<rect x="454.60" y="192.60" width="2.00" height="23.20" fill="#f53d9e" stroke="none" stroke-width="1" />
<circle cx="464.20" cy="208.61" r="0.7" fill="none" stroke="#888" stroke-width="0.4"/>
<circle cx="454.14" cy="199.02" r="0.7" fill="none" stroke="#888" stroke-width="0.4"/>
<circle cx="453.07" cy="210.03" r="0.7" fill="none" stroke="#888" stroke-width="0.4"/>
<circle cx="461.84" cy="195.02" r="0.7" fill="none" stroke="#888" stroke-width="0.4"/>
<circle cx="460.53" cy="196.94" r="0.7" fill="none" stroke="#888" stroke-width="0.4"/>
<circle cx="463.70" cy="207.15" r="0.7" fill="none" stroke="#888" stroke-width="0.4"/>
<circle cx="453.38" cy="211.08" r="0.7" fill="none" stroke="#888" stroke-width="0.4"/>
<circle cx="461.35" cy="205.75" r="0.7" fill="none" stroke="#888" stroke-width="0.4"/>
<circle cx="453.41" cy="206.51" r="0.7" fill="none" stroke="#888" stroke-width="0.4"/>
<circle cx="458.47" cy="206.64" r="0.7" fill="none" stroke="#888" stroke-width="0.4"/>
<circle cx="452.35" cy="204.89" r="0.7" fill="none" stroke="#888" stroke-width="0.4"/>
<circle cx="458.66" cy="199.61" r="0.7" fill="none" stroke="#888" stroke-width="0.4"/>
<circle cx="458.46" cy="196.61" r="0.7" fill="none" stroke="#888" stroke-width="0.4"/>
<circle cx="460.98" cy="206.06" r="0.7" fill="none" stroke="#888" stroke-width="0.4"/>
<circle cx="458.65" cy="199.49" r="0.7" fill="none" stroke="#888" stroke-width="0.4"/>
<circle cx="448.95" cy="202.58" r="0.7" fill="none" stroke="#888" stroke-width="0.4"/>
<circle cx="459.55" cy="213.54" r="0.7" fill="none" stroke="#888" stroke-width="0.4"/>
<circle cx="454.45" cy="198.50" r="0.7" fill="none" stroke="#888" stroke-width="0.4"/>
<circle cx="456.84" cy="207.38" r="0.7" fill="none" stroke="#888" stroke-width="0.4"/>
<circle cx="455.21" cy="210.01" r="0.7" fill="none" stroke="#888" stroke-width="0.4"/>
<circle cx="450.69" cy="212.06" r="0.7" fill="none" stroke="#888" stroke-width="0.4"/>
<circle cx="454.50" cy="213.63" r="0.7" fill="none" stroke="#888" stroke-width="0.4"/>
<circle cx="458.33" cy="195.46" r="0.7" fill="none" stroke="#888" stroke-width="0.4"/>
<circle cx="460.68" cy="201.89" r="0.7" fill="none" stroke="#888" stroke-width="0.4"/>
<circle cx="457.68" cy="206.57" r="0.7" fill="none" stroke="#888" stroke-width="0.4"/>
<circle cx="458.10" cy="196.31" r="0.7" fill="none" stroke="#888" stroke-width="0.4"/>
<circle cx="456.52" cy="210.16" r="0.7" fill="none" stroke="#888" stroke-width="0.4"/>
<circle cx="456.67" cy="199.33" r="0.7" fill="none" stroke="#888" stroke-width="0.4"/>
<circle cx="461.30" cy="208.33" r="0.7" fill="none" stroke="#888" stroke-width="0.4"/>
<circle cx="458.69" cy="206.68" r="0.7" fill="none" stroke="#888" stroke-width="0.4"/>
<circle cx="451.38" cy="208.37" r="0.7" fill="none" stroke="#888" stroke-width="0.4"/>
<circle cx="454.72" cy="200.59" r="0.7" fill="none" stroke="#888" stroke-width="0.4"/>
<circle cx="459.65" cy="211.01" r="0.7" fill="none" stroke="#888" stroke-width="0.4"/>
<circle cx="450.96" cy="211.62" r="0.7" fill="none" stroke="#888" stroke-width="0.4"/>
<circle cx="458.83" cy="204.62" r="0.7" fill="none" stroke="#888" stroke-width="0.4"/>
<circle cx="452.03" cy="208.64" r="0.7" fill="none" stroke="#888" stroke-width="0.4"/>
<circle cx="455.35" cy="212.12" r="0.7" fill="none" stroke="#888" stroke-width="0.4"/>
<circle cx="455.74" cy="198.48" r="0.7" fill="none" stroke="#888" stroke-width="0.4"/>
<circle cx="451.75" cy="196.47" r="0.7" fill="none" stroke="#888" stroke-width="0.4"/>
<circle cx="456.64" cy="205.69" r="0.7" fill="none" stroke="#888" stroke-width="0.4"/>
<rect x="454.60" y="192.70" width="2.00" height="23.00" fill="#f53d9e" stroke="none" stroke-width="1" />
<line x1="451.40" y1="244.50" x2="451.40" y2="244.50" stroke="#6a6a6a" stroke-width="0.7" />
<line x1="456.30" y1="244.50" x2="456.30" y2="244.50" stroke="#6a6a6a" stroke-width="0.7" />
<rect x="451.40" y="232.90" width="4.90" height="23.20" fill="#fff" stroke="#858585" stroke-width="0.7" />
<rect x="451.60" y="232.90" width="2.00" height="23.20" fill="#f53d9e" stroke="none" stroke-width="1" />
<circle cx="454.61" cy="250.02" r="0.7" fill="none" stroke="#888" stroke-width="0.4"/>
<circle cx="452.14" cy="253.08" r="0.7" fill="none" stroke="#888" stroke-width="0.4"/>
<circle cx="452.12" cy="241.36" r="0.7" fill="none" stroke="#888" stroke-width="0.4"/>
<circle cx="456.33" cy="238.11" r="0.7" fill="none" stroke="#888" stroke-width="0.4"/>
<circle cx="451.53" cy="237.80" r="0.7" fill="none" stroke="#888" stroke-width="0.4"/>
<circle cx="455.91" cy="247.53" r="0.7" fill="none" stroke="#888" stroke-width="0.4"/>
<circle cx="452.67" cy="243.17" r="0.7" fill="none" stroke="#888" stroke-width="0.4"/>
<circle cx="454.27" cy="242.34" r="0.7" fill="none" stroke="#888" stroke-width="0.4"/>
<circle cx="449.58" cy="252.49" r="0.7" fill="none" stroke="#888" stroke-width="0.4"/>
<circle cx="454.31" cy="239.32" r="0.7" fill="none" stroke="#888" stroke-width="0.4"/>
<circle cx="455.94" cy="253.24" r="0.7" fill="none" stroke="#888" stroke-width="0.4"/>
<circle cx="453.15" cy="250.52" r="0.7" fill="none" stroke="#888" stroke-width="0.4"/>
<circle cx="451.94" cy="252.66" r="0.7" fill="none" stroke="#888" stroke-width="0.4"/>
<circle cx="453.12" cy="253.98" r="0.7" fill="none" stroke="#888" stroke-width="0.4"/>
<circle cx="452.69" cy="250.64" r="0.7" fill="none" stroke="#888" stroke-width="0.4"/>
<circle cx="452.69" cy="249.54" r="0.7" fill="none" stroke="#888" stroke-width="0.4"/>
<circle cx="457.10" cy="253.54" r="0.7" fill="none" stroke="#888" stroke-width="0.4"/>
<circle cx="449.82" cy="248.99" r="0.7" fill="none" stroke="#888" stroke-width="0.4"/>
<circle cx="451.54" cy="244.59" r="0.7" fill="none" stroke="#888" stroke-width="0.4"/>
<circle cx="454.80" cy="249.45" r="0.7" fill="none" stroke="#888" stroke-width="0.4"/>
<circle cx="450.88" cy="244.79" r="0.7" fill="none" stroke="#888" stroke-width="0.4"/>
<circle cx="450.84" cy="246.21" r="0.7" fill="none" stroke="#888" stroke-width="0.4"/>
<circle cx="456.60" cy="252.69" r="0.7" fill="none" stroke="#888" stroke-width="0.4"/>
<circle cx="452.59" cy="248.28" r="0.7" fill="none" stroke="#888" stroke-width="0.4"/>
<circle cx="454.75" cy="240.52" r="0.7" fill="none" stroke="#888" stroke-width="0.4"/>
<circle cx="454.73" cy="239.99" r="0.7" fill="none" stroke="#888" stroke-width="0.4"/>
<circle cx="453.99" cy="244.14" r="0.7" fill="none" stroke="#888" stroke-width="0.4"/>
<circle cx="454.00" cy="249.87" r="0.7" fill="none" stroke="#888" stroke-width="0.4"/>
<circle cx="456.67" cy="246.06" r="0.7" fill="none" stroke="#888" stroke-width="0.4"/>
<circle cx="449.70" cy="235.27" r="0.7" fill="none" stroke="#888" stroke-width="0.4"/>
<circle cx="453.58" cy="251.49" r="0.7" fill="none" stroke="#888" stroke-width="0.4"/>
<circle cx="453.95" cy="241.08" r="0.7" fill="none" stroke="#888" stroke-width="0.4"/>
<circle cx="453.01" cy="246.09" r="0.7" fill="none" stroke="#888" stroke-width="0.4"/>
<circle cx="451.31" cy="251.18" r="0.7" fill="none" stroke="#888" stroke-width="0.4"/>
<circle cx="452.94" cy="247.06" r="0.7" fill="none" stroke="#888" stroke-width="0.4"/>
<circle cx="452.73" cy="241.76" r="0.7" fill="none" stroke="#888" stroke-width="0.4"/>
<circle cx="454.82" cy="239.60" r="0.7" fill="none" stroke="#888" stroke-width="0.4"/>
<circle cx="453.13" cy="252.53" r="0.7" fill="none" stroke="#888" stroke-width="0.4"/>
<circle cx="452.68" cy="250.13" r="0.7" fill="none" stroke="#888" stroke-width="0.4"/>
<circle cx="453.75" cy="252.46" r="0.7" fill="none" stroke="#888" stroke-width="0.4"/>
<rect x="451.60" y="233.00" width="2.00" height="23.00" fill="#f53d9e" stroke="none" stroke-width="1" />
<line x1="488.30" y1="42.30" x2="488.30" y2="82.20" stroke="#9a9a9a" stroke-width="0.9" />
<line x1="490.30" y1="42.30" x2="490.30" y2="122.30" stroke="#9a9a9a" stroke-width="0.9" />
<line x1="491.70" y1="42.30" x2="491.70" y2="163.40" stroke="#9a9a9a" stroke-width="0.9" />
<line x1="493.10" y1="42.30" x2="493.10" y2="204.20" stroke="#9a9a9a" stroke-width="0.9" />
<line x1="494.50" y1="42.30" x2="494.50" y2="244.50" stroke="#9a9a9a" stroke-width="0.9" />
<text x="497.00" y="64.00" font-size="9" fill="#111" stroke="#111" stroke-width="0" text-anchor="middle" font-weight="bold" >*</text>
<line x1="505.40" y1="42.30" x2="505.40" y2="163.40" stroke="#7a7a7a" stroke-width="0.9" />
<text x="509.30" y="61.00" font-size="7" fill="#333" stroke="#333" stroke-width="0.12" text-anchor="middle" font-weight="normal" transform="rotate(90 509.3 61.0)" dominant-baseline="middle">ns</text>
<line x1="476.90" y1="83.00" x2="476.90" y2="163.40" stroke="#3fb8e6" stroke-width="0.9" />
<line x1="478.90" y1="83.00" x2="478.90" y2="204.40" stroke="#3fb8e6" stroke-width="0.9" />
<text x="481.20" y="104.00" font-size="9" fill="#3fb8e6" stroke="#3fb8e6" stroke-width="0" text-anchor="middle" font-weight="bold" >*</text>
<line x1="498.90" y1="83.00" x2="498.90" y2="123.50" stroke="#3fb8e6" stroke-width="0.9" />
<text x="501.60" y="102.60" font-size="7" fill="#3fb8e6" stroke="#3fb8e6" stroke-width="0.12" text-anchor="middle" font-weight="normal" transform="rotate(90 501.6 102.6)" dominant-baseline="middle">ns</text>
<circle cx="499" cy="41.7" r="0.6" fill="none" stroke="#999" stroke-width="0.4"/>
<circle cx="510" cy="41.7" r="0.6" fill="none" stroke="#999" stroke-width="0.4"/>
<rect x="439.70" y="21.80" width="73.60" height="242.60" fill="none" stroke="#2a2a2a" stroke-width="1" />
<line x1="450.00" y1="264.40" x2="450.00" y2="267.80" stroke="#2a2a2a" stroke-width="0.9" />
<text x="450.00" y="276.20" font-size="8" fill="#222" stroke="#222" stroke-width="0.12" text-anchor="middle" font-weight="normal" >1</text>
<line x1="471.10" y1="264.40" x2="471.10" y2="267.80" stroke="#2a2a2a" stroke-width="0.9" />
<text x="471.10" y="276.20" font-size="8" fill="#222" stroke="#222" stroke-width="0.12" text-anchor="middle" font-weight="normal" >2</text>
<line x1="492.20" y1="264.40" x2="492.20" y2="267.80" stroke="#2a2a2a" stroke-width="0.9" />
<text x="492.20" y="276.20" font-size="8" fill="#222" stroke="#222" stroke-width="0.12" text-anchor="middle" font-weight="normal" >3</text>
<line x1="513.30" y1="264.40" x2="513.30" y2="267.80" stroke="#2a2a2a" stroke-width="0.9" />
<text x="513.30" y="276.20" font-size="8" fill="#222" stroke="#222" stroke-width="0.12" text-anchor="middle" font-weight="normal" >4</text>
<line x1="460.55" y1="264.40" x2="460.55" y2="266.20" stroke="#2a2a2a" stroke-width="0.9" />
<line x1="481.65" y1="264.40" x2="481.65" y2="266.20" stroke="#2a2a2a" stroke-width="0.9" />
<line x1="502.75" y1="264.40" x2="502.75" y2="266.20" stroke="#2a2a2a" stroke-width="0.9" />
<text x="479.70" y="285.10" font-size="8" fill="#222" stroke="#222" stroke-width="0.12" text-anchor="middle" font-weight="normal" >Colocalization index</text>
<line x1="619.00" y1="22.00" x2="619.00" y2="103.00" stroke="#dedede" stroke-width="0.7" />
<line x1="640.10" y1="22.00" x2="640.10" y2="103.00" stroke="#dedede" stroke-width="0.7" />
<line x1="661.20" y1="22.00" x2="661.20" y2="103.00" stroke="#dedede" stroke-width="0.7" />
<line x1="618.40" y1="41.40" x2="621.70" y2="41.40" stroke="#6a6a6a" stroke-width="0.7" />
<line x1="631.80" y1="41.40" x2="636.80" y2="41.40" stroke="#6a6a6a" stroke-width="0.7" />
<line x1="618.40" y1="36.13" x2="618.40" y2="46.66" stroke="#6a6a6a" stroke-width="0.7" />
<line x1="636.80" y1="36.13" x2="636.80" y2="46.66" stroke="#6a6a6a" stroke-width="0.7" />
<rect x="621.70" y="29.70" width="10.10" height="23.40" fill="#fff" stroke="#858585" stroke-width="0.7" />
<rect x="626.70" y="29.70" width="2.00" height="23.40" fill="#f53d9e" stroke="none" stroke-width="1" />
<line x1="618.00" y1="82.00" x2="621.70" y2="82.00" stroke="#6a6a6a" stroke-width="0.7" />
<line x1="627.70" y1="82.00" x2="631.00" y2="82.00" stroke="#6a6a6a" stroke-width="0.7" />
<rect x="621.70" y="69.80" width="6.00" height="24.40" fill="#fff" stroke="#858585" stroke-width="0.7" />
<rect x="624.00" y="69.80" width="2.00" height="24.40" fill="#f53d9e" stroke="none" stroke-width="1" />
<circle cx="630.02" cy="45.37" r="0.7" fill="none" stroke="#888" stroke-width="0.4"/>
<circle cx="627.71" cy="34.61" r="0.7" fill="none" stroke="#888" stroke-width="0.4"/>
<circle cx="629.29" cy="32.12" r="0.7" fill="none" stroke="#888" stroke-width="0.4"/>
<circle cx="623.69" cy="40.26" r="0.7" fill="none" stroke="#888" stroke-width="0.4"/>
<circle cx="627.20" cy="37.18" r="0.7" fill="none" stroke="#888" stroke-width="0.4"/>
<circle cx="627.54" cy="40.64" r="0.7" fill="none" stroke="#888" stroke-width="0.4"/>
<circle cx="630.22" cy="37.60" r="0.7" fill="none" stroke="#888" stroke-width="0.4"/>
<circle cx="636.01" cy="45.22" r="0.7" fill="none" stroke="#888" stroke-width="0.4"/>
<circle cx="625.37" cy="40.16" r="0.7" fill="none" stroke="#888" stroke-width="0.4"/>
<circle cx="628.63" cy="44.93" r="0.7" fill="none" stroke="#888" stroke-width="0.4"/>
<circle cx="619.53" cy="34.21" r="0.7" fill="none" stroke="#888" stroke-width="0.4"/>
<circle cx="627.34" cy="34.56" r="0.7" fill="none" stroke="#888" stroke-width="0.4"/>
<circle cx="630.77" cy="48.26" r="0.7" fill="none" stroke="#888" stroke-width="0.4"/>
<circle cx="631.04" cy="39.18" r="0.7" fill="none" stroke="#888" stroke-width="0.4"/>
<circle cx="627.80" cy="36.18" r="0.7" fill="none" stroke="#888" stroke-width="0.4"/>
<circle cx="624.53" cy="44.69" r="0.7" fill="none" stroke="#888" stroke-width="0.4"/>
<circle cx="628.74" cy="34.67" r="0.7" fill="none" stroke="#888" stroke-width="0.4"/>
<circle cx="618.00" cy="42.19" r="0.7" fill="none" stroke="#888" stroke-width="0.4"/>
<circle cx="627.41" cy="42.92" r="0.7" fill="none" stroke="#888" stroke-width="0.4"/>
<circle cx="635.13" cy="44.98" r="0.7" fill="none" stroke="#888" stroke-width="0.4"/>
<circle cx="629.86" cy="40.76" r="0.7" fill="none" stroke="#888" stroke-width="0.4"/>
<circle cx="612.32" cy="50.80" r="0.7" fill="none" stroke="#888" stroke-width="0.4"/>
<circle cx="624.17" cy="33.91" r="0.7" fill="none" stroke="#888" stroke-width="0.4"/>
<circle cx="636.86" cy="45.51" r="0.7" fill="none" stroke="#888" stroke-width="0.4"/>
<circle cx="631.87" cy="38.76" r="0.7" fill="none" stroke="#888" stroke-width="0.4"/>
<circle cx="622.87" cy="47.59" r="0.7" fill="none" stroke="#888" stroke-width="0.4"/>
<circle cx="629.90" cy="38.46" r="0.7" fill="none" stroke="#888" stroke-width="0.4"/>
<circle cx="619.40" cy="41.69" r="0.7" fill="none" stroke="#888" stroke-width="0.4"/>
<circle cx="632.95" cy="37.75" r="0.7" fill="none" stroke="#888" stroke-width="0.4"/>
<circle cx="626.83" cy="44.73" r="0.7" fill="none" stroke="#888" stroke-width="0.4"/>
<circle cx="632.21" cy="34.14" r="0.7" fill="none" stroke="#888" stroke-width="0.4"/>
<circle cx="627.43" cy="38.47" r="0.7" fill="none" stroke="#888" stroke-width="0.4"/>
<circle cx="635.20" cy="44.15" r="0.7" fill="none" stroke="#888" stroke-width="0.4"/>
<circle cx="625.62" cy="38.80" r="0.7" fill="none" stroke="#888" stroke-width="0.4"/>
<circle cx="627.13" cy="72.57" r="0.7" fill="none" stroke="#888" stroke-width="0.4"/>
<circle cx="625.79" cy="77.87" r="0.7" fill="none" stroke="#888" stroke-width="0.4"/>
<circle cx="624.78" cy="81.43" r="0.7" fill="none" stroke="#888" stroke-width="0.4"/>
<circle cx="620.08" cy="86.82" r="0.7" fill="none" stroke="#888" stroke-width="0.4"/>
<circle cx="618.98" cy="84.09" r="0.7" fill="none" stroke="#888" stroke-width="0.4"/>
<circle cx="626.52" cy="75.15" r="0.7" fill="none" stroke="#888" stroke-width="0.4"/>
<circle cx="621.58" cy="82.68" r="0.7" fill="none" stroke="#888" stroke-width="0.4"/>
<circle cx="623.31" cy="76.59" r="0.7" fill="none" stroke="#888" stroke-width="0.4"/>
<circle cx="624.05" cy="78.19" r="0.7" fill="none" stroke="#888" stroke-width="0.4"/>
<circle cx="622.87" cy="77.05" r="0.7" fill="none" stroke="#888" stroke-width="0.4"/>
<circle cx="624.50" cy="86.81" r="0.7" fill="none" stroke="#888" stroke-width="0.4"/>
<circle cx="626.58" cy="85.15" r="0.7" fill="none" stroke="#888" stroke-width="0.4"/>
<circle cx="628.56" cy="73.98" r="0.7" fill="none" stroke="#888" stroke-width="0.4"/>
<circle cx="625.45" cy="84.73" r="0.7" fill="none" stroke="#888" stroke-width="0.4"/>
<circle cx="621.58" cy="86.97" r="0.7" fill="none" stroke="#888" stroke-width="0.4"/>
<circle cx="626.75" cy="87.30" r="0.7" fill="none" stroke="#888" stroke-width="0.4"/>
<circle cx="623.68" cy="74.30" r="0.7" fill="none" stroke="#888" stroke-width="0.4"/>
<circle cx="622.42" cy="83.59" r="0.7" fill="none" stroke="#888" stroke-width="0.4"/>
<circle cx="618.51" cy="89.25" r="0.7" fill="none" stroke="#888" stroke-width="0.4"/>
<circle cx="623.33" cy="76.06" r="0.7" fill="none" stroke="#888" stroke-width="0.4"/>
<circle cx="620.69" cy="80.46" r="0.7" fill="none" stroke="#888" stroke-width="0.4"/>
<circle cx="627.20" cy="90.86" r="0.7" fill="none" stroke="#888" stroke-width="0.4"/>
<circle cx="627.79" cy="88.51" r="0.7" fill="none" stroke="#888" stroke-width="0.4"/>
<circle cx="624.96" cy="90.52" r="0.7" fill="none" stroke="#888" stroke-width="0.4"/>
<circle cx="622.42" cy="83.74" r="0.7" fill="none" stroke="#888" stroke-width="0.4"/>
<circle cx="624.62" cy="78.56" r="0.7" fill="none" stroke="#888" stroke-width="0.4"/>
<circle cx="623.79" cy="76.15" r="0.7" fill="none" stroke="#888" stroke-width="0.4"/>
<circle cx="622.11" cy="83.66" r="0.7" fill="none" stroke="#888" stroke-width="0.4"/>
<circle cx="625.16" cy="83.76" r="0.7" fill="none" stroke="#888" stroke-width="0.4"/>
<circle cx="621.25" cy="83.34" r="0.7" fill="none" stroke="#888" stroke-width="0.4"/>
<circle cx="624.38" cy="79.58" r="0.7" fill="none" stroke="#888" stroke-width="0.4"/>
<circle cx="624.65" cy="89.10" r="0.7" fill="none" stroke="#888" stroke-width="0.4"/>
<circle cx="619.47" cy="90.64" r="0.7" fill="none" stroke="#888" stroke-width="0.4"/>
<circle cx="624.32" cy="73.21" r="0.7" fill="none" stroke="#888" stroke-width="0.4"/>
<rect x="626.70" y="29.70" width="2.00" height="23.40" fill="#f53d9e" stroke="none" stroke-width="1" />
<rect x="624.00" y="69.80" width="2.00" height="24.40" fill="#f53d9e" stroke="none" stroke-width="1" />
<line x1="647.80" y1="42.10" x2="647.80" y2="81.50" stroke="#222" stroke-width="0.9" />
<text x="651.80" y="61.80" font-size="9" fill="#111" stroke="#111" stroke-width="0" text-anchor="middle" font-weight="bold" >*</text>
<rect x="608.40" y="22.00" width="74.00" height="81.00" fill="none" stroke="#2a2a2a" stroke-width="1" />
<line x1="619.00" y1="103.00" x2="619.00" y2="106.70" stroke="#2a2a2a" stroke-width="0.9" />
<text x="619.00" y="113.90" font-size="8" fill="#222" stroke="#222" stroke-width="0.12" text-anchor="middle" font-weight="normal" >1</text>
<line x1="640.10" y1="103.00" x2="640.10" y2="106.70" stroke="#2a2a2a" stroke-width="0.9" />
<text x="640.10" y="113.90" font-size="8" fill="#222" stroke="#222" stroke-width="0.12" text-anchor="middle" font-weight="normal" >2</text>
<line x1="661.20" y1="103.00" x2="661.20" y2="106.70" stroke="#2a2a2a" stroke-width="0.9" />
<text x="661.20" y="113.90" font-size="8" fill="#222" stroke="#222" stroke-width="0.12" text-anchor="middle" font-weight="normal" >3</text>
<line x1="682.30" y1="103.00" x2="682.30" y2="106.70" stroke="#2a2a2a" stroke-width="0.9" />
<text x="682.30" y="113.90" font-size="8" fill="#222" stroke="#222" stroke-width="0.12" text-anchor="middle" font-weight="normal" >4</text>
<line x1="629.55" y1="103.00" x2="629.55" y2="104.60" stroke="#2a2a2a" stroke-width="0.9" />
<line x1="650.65" y1="103.00" x2="650.65" y2="104.60" stroke="#2a2a2a" stroke-width="0.9" />
<line x1="671.75" y1="103.00" x2="671.75" y2="104.60" stroke="#2a2a2a" stroke-width="0.9" />
<text x="649.00" y="124.80" font-size="8" fill="#222" stroke="#222" stroke-width="0.12" text-anchor="middle" font-weight="normal" >Colocalization index</text>
</svg>
</body></html>
